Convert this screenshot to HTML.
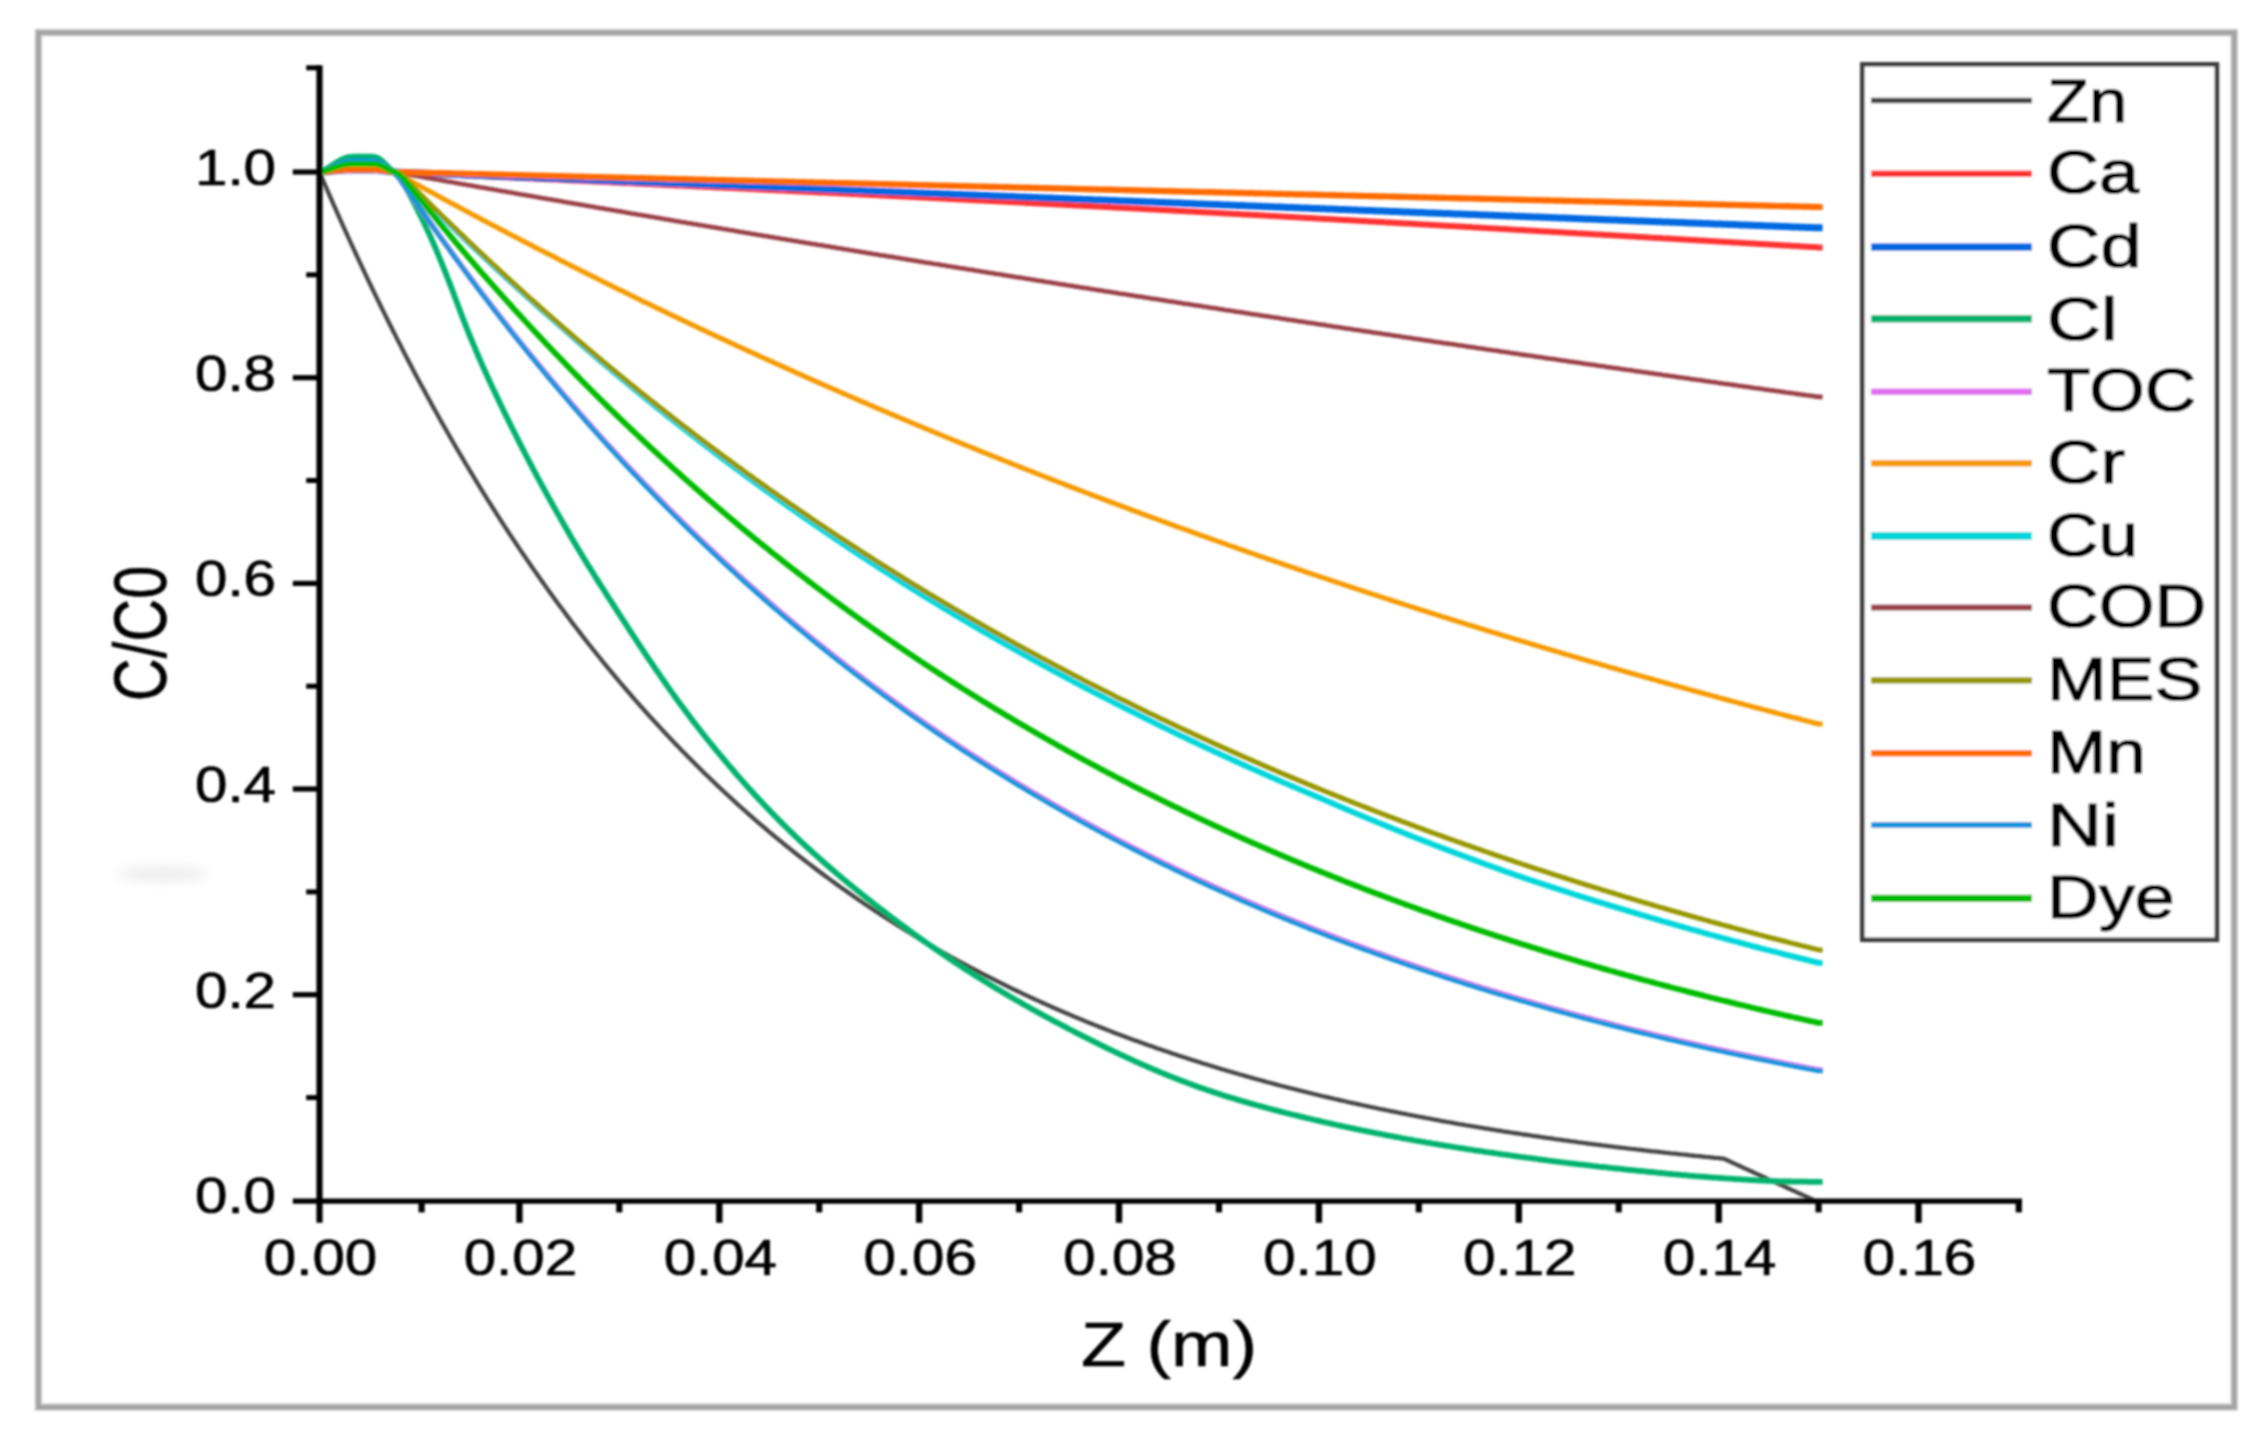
<!DOCTYPE html>
<html lang="en"><head><meta charset="utf-8"><title>C/C0 versus Z (m)</title>
<style>html,body{margin:0;padding:0;background:#fff}body{width:2267px;height:1442px;overflow:hidden}svg{display:block}text{font-family:"Liberation Sans",sans-serif;fill:#000;stroke:#000;stroke-width:1.4px;stroke-linejoin:round}</style></head><body>
<svg width="2267" height="1442" viewBox="0 0 2267 1442">
<defs><filter id="soft" x="-2%" y="-2%" width="104%" height="104%"><feGaussianBlur stdDeviation="0.9"/></filter><filter id="smudge" x="-50%" y="-300%" width="200%" height="700%"><feGaussianBlur stdDeviation="6.5"/></filter></defs>
<rect width="2267" height="1442" fill="#fff"/>
<g filter="url(#soft)">
<rect x="38.4" y="32.6" width="2195.8" height="1374.5" fill="none" stroke="#c9c9c9" stroke-width="7.4"/>
<rect x="38.4" y="32.6" width="2195.8" height="1374.5" fill="none" stroke="#a3a3a3" stroke-width="4.4"/>
<ellipse cx="163" cy="874" rx="46" ry="4" fill="#dedede" filter="url(#smudge)"/>
<g fill="none" stroke-linejoin="round" stroke-linecap="butt">
<path d="M319.5,172.0 L321.5,176.7 L323.5,181.3 L325.5,186.0 L327.5,190.6 L329.5,195.2 L331.5,199.8 L333.5,204.3 L335.5,208.8 L337.5,213.4 L339.5,217.8 L341.5,222.3 L343.5,226.8 L345.5,231.2 L347.5,235.6 L349.5,240.0 L351.5,244.4 L353.5,248.7 L355.5,253.0 L357.5,257.3 L359.5,261.6 L361.5,265.9 L363.5,270.2 L365.5,274.4 L367.5,278.6 L369.5,282.8 L371.5,287.0 L373.5,291.1 L375.5,295.3 L377.5,299.4 L379.5,303.5 L381.5,307.6 L383.5,311.6 L385.5,315.7 L387.5,319.7 L389.5,323.7 L391.5,327.7 L393.5,331.7 L395.5,335.6 L397.5,339.6 L399.5,343.5 L401.5,347.4 L403.4,351.2 L405.4,355.1 L407.4,359.0 L409.4,362.8 L411.4,366.6 L413.4,370.4 L415.4,374.2 L417.4,377.9 L419.4,381.7 L421.4,385.4 L423.4,389.1 L425.4,392.8 L427.4,396.5 L429.4,400.1 L431.4,403.8 L433.4,407.4 L435.4,411.0 L437.4,414.6 L439.4,418.2 L441.4,421.7 L443.4,425.3 L445.4,428.8 L447.4,432.3 L449.4,435.8 L451.4,439.3 L453.4,442.7 L455.4,446.2 L457.4,449.6 L459.4,453.0 L461.4,456.4 L463.4,459.8 L465.4,463.2 L467.4,466.5 L469.4,469.9 L471.4,473.2 L473.4,476.5 L475.4,479.8 L477.4,483.1 L479.4,486.3 L481.4,489.6 L483.4,492.8 L485.4,496.0 L487.4,499.3 L489.4,502.4 L491.4,505.6 L493.4,508.8 L495.4,511.9 L497.4,515.1 L499.4,518.2 L501.4,521.3 L503.4,524.4 L505.4,527.4 L507.4,530.5 L509.4,533.6 L511.4,536.6 L513.4,539.6 L515.4,542.6 L517.4,545.6 L519.4,548.6 L521.4,551.6 L523.4,554.5 L525.4,557.4 L527.4,560.4 L529.4,563.3 L531.4,566.2 L533.4,569.1 L535.4,571.9 L537.4,574.8 L539.4,577.6 L541.4,580.5 L543.4,583.3 L545.4,586.1 L547.4,588.9 L549.4,591.7 L551.4,594.4 L553.4,597.2 L555.4,599.9 L557.4,602.7 L559.4,605.4 L561.4,608.1 L563.4,610.8 L565.4,613.5 L567.4,616.2 L569.4,618.8 L571.3,621.5 L573.3,624.1 L575.3,626.7 L577.3,629.3 L579.3,631.9 L581.3,634.5 L583.3,637.1 L585.3,639.6 L587.3,642.2 L589.3,644.7 L591.3,647.3 L593.3,649.8 L595.3,652.3 L597.3,654.8 L599.3,657.3 L601.3,659.7 L603.3,662.2 L605.3,664.6 L607.3,667.1 L609.3,669.5 L611.3,671.9 L613.3,674.3 L615.3,676.7 L617.3,679.1 L619.3,681.5 L621.3,683.8 L623.3,686.2 L625.3,688.5 L627.3,690.9 L629.3,693.2 L631.3,695.5 L633.3,697.8 L635.3,700.1 L637.3,702.3 L639.3,704.6 L641.3,706.9 L643.3,709.1 L645.3,711.3 L647.3,713.6 L649.3,715.8 L651.3,718.0 L653.3,720.2 L655.3,722.4 L657.3,724.5 L659.3,726.7 L661.3,728.9 L663.3,731.0 L665.3,733.1 L667.3,735.3 L669.3,737.4 L671.3,739.5 L673.3,741.6 L675.3,743.7 L677.3,745.8 L679.3,747.8 L681.3,749.9 L683.3,751.9 L685.3,754.0 L687.3,756.0 L689.3,758.0 L691.3,760.0 L693.3,762.0 L695.3,764.0 L697.3,766.0 L699.3,768.0 L701.3,770.0 L703.3,771.9 L705.3,773.9 L707.3,775.8 L709.3,777.7 L711.3,779.7 L713.3,781.6 L715.3,783.5 L717.3,785.4 L719.3,787.3 L721.3,789.2 L723.3,791.0 L725.3,792.9 L727.3,794.7 L729.3,796.6 L731.3,798.4 L733.3,800.3 L735.3,802.1 L737.2,803.9 L739.2,805.7 L741.2,807.5 L743.2,809.3 L745.2,811.0 L747.2,812.8 L749.2,814.6 L751.2,816.3 L753.2,818.1 L755.2,819.8 L757.2,821.6 L759.2,823.3 L761.2,825.0 L763.2,826.7 L765.2,828.4 L767.2,830.1 L769.2,831.8 L771.2,833.5 L773.2,835.1 L775.2,836.8 L777.2,838.4 L779.2,840.1 L781.2,841.7 L783.2,843.4 L785.2,845.0 L787.2,846.6 L789.2,848.2 L791.2,849.8 L793.2,851.4 L795.2,853.0 L797.2,854.6 L799.2,856.2 L801.2,857.7 L803.2,859.3 L805.2,860.8 L807.2,862.4 L809.2,863.9 L811.2,865.4 L813.2,867.0 L815.2,868.5 L817.2,870.0 L819.2,871.5 L821.2,873.0 L823.2,874.5 L825.2,876.0 L827.2,877.4 L829.2,878.9 L831.2,880.4 L833.2,881.8 L835.2,883.3 L837.2,884.7 L839.2,886.2 L841.2,887.6 L843.2,889.0 L845.2,890.4 L847.2,891.8 L849.2,893.2 L851.2,894.6 L853.2,896.0 L855.2,897.4 L857.2,898.8 L859.2,900.2 L861.2,901.5 L863.2,902.9 L865.2,904.2 L867.2,905.6 L869.2,906.9 L871.2,908.3 L873.2,909.6 L875.2,910.9 L877.2,912.2 L879.2,913.5 L881.2,914.9 L883.2,916.2 L885.2,917.4 L887.2,918.7 L889.2,920.0 L891.2,921.3 L893.2,922.6 L895.2,923.8 L897.2,925.1 L899.2,926.3 L901.2,927.6 L903.1,928.8 L905.1,930.1 L907.1,931.3 L909.1,932.5 L911.1,933.7 L913.1,934.9 L915.1,936.2 L917.1,937.4 L919.1,938.6 L921.1,939.7 L923.1,940.9 L925.1,942.1 L927.1,943.3 L929.1,944.5 L931.1,945.6 L933.1,946.8 L935.1,947.9 L937.1,949.1 L939.1,950.2 L941.1,951.4 L943.1,952.5 L945.1,953.6 L947.1,954.7 L949.1,955.9 L951.1,957.0 L953.1,958.1 L955.1,959.2 L957.1,960.3 L959.1,961.4 L961.1,962.5 L963.1,963.5 L965.1,964.6 L967.1,965.7 L969.1,966.8 L971.1,967.8 L973.1,968.9 L975.1,969.9 L977.1,971.0 L979.1,972.0 L981.1,973.1 L983.1,974.1 L985.1,975.1 L987.1,976.2 L989.1,977.2 L991.1,978.2 L993.1,979.2 L995.1,980.2 L997.1,981.2 L999.1,982.2 L1001.1,983.2 L1003.1,984.2 L1005.1,985.2 L1007.1,986.2 L1009.1,987.1 L1011.1,988.1 L1013.1,989.1 L1015.1,990.0 L1017.1,991.0 L1019.1,991.9 L1021.1,992.9 L1023.1,993.8 L1025.1,994.8 L1027.1,995.7 L1029.1,996.6 L1031.1,997.6 L1033.1,998.5 L1035.1,999.4 L1037.1,1000.3 L1039.1,1001.2 L1041.1,1002.1 L1043.1,1003.0 L1045.1,1003.9 L1047.1,1004.8 L1049.1,1005.7 L1051.1,1006.6 L1053.1,1007.5 L1055.1,1008.4 L1057.1,1009.2 L1059.1,1010.1 L1061.1,1011.0 L1063.1,1011.8 L1065.1,1012.7 L1067.1,1013.5 L1069.0,1014.4 L1071.0,1015.2 L1073.0,1016.1 L1075.0,1016.9 L1077.0,1017.8 L1079.0,1018.6 L1081.0,1019.4 L1083.0,1020.2 L1085.0,1021.1 L1087.0,1021.9 L1089.0,1022.7 L1091.0,1023.5 L1093.0,1024.3 L1095.0,1025.1 L1097.0,1025.9 L1099.0,1026.7 L1101.0,1027.5 L1103.0,1028.3 L1105.0,1029.1 L1107.0,1029.8 L1109.0,1030.6 L1111.0,1031.4 L1113.0,1032.2 L1115.0,1032.9 L1117.0,1033.7 L1119.0,1034.4 L1121.0,1035.2 L1123.0,1035.9 L1125.0,1036.7 L1127.0,1037.4 L1129.0,1038.2 L1131.0,1038.9 L1133.0,1039.7 L1135.0,1040.4 L1137.0,1041.1 L1139.0,1041.8 L1141.0,1042.6 L1143.0,1043.3 L1145.0,1044.0 L1147.0,1044.7 L1149.0,1045.4 L1151.0,1046.1 L1153.0,1046.8 L1155.0,1047.5 L1157.0,1048.2 L1159.0,1048.9 L1161.0,1049.6 L1163.0,1050.3 L1165.0,1051.0 L1167.0,1051.6 L1169.0,1052.3 L1171.0,1053.0 L1173.0,1053.7 L1175.0,1054.3 L1177.0,1055.0 L1179.0,1055.7 L1181.0,1056.3 L1183.0,1057.0 L1185.0,1057.6 L1187.0,1058.3 L1189.0,1058.9 L1191.0,1059.6 L1193.0,1060.2 L1195.0,1060.8 L1197.0,1061.5 L1199.0,1062.1 L1201.0,1062.7 L1203.0,1063.4 L1205.0,1064.0 L1207.0,1064.6 L1209.0,1065.2 L1211.0,1065.8 L1213.0,1066.5 L1215.0,1067.1 L1217.0,1067.7 L1219.0,1068.3 L1221.0,1068.9 L1223.0,1069.5 L1225.0,1070.1 L1227.0,1070.7 L1229.0,1071.3 L1231.0,1071.8 L1233.0,1072.4 L1235.0,1073.0 L1236.9,1073.6 L1238.9,1074.2 L1240.9,1074.7 L1242.9,1075.3 L1244.9,1075.9 L1246.9,1076.4 L1248.9,1077.0 L1250.9,1077.6 L1252.9,1078.1 L1254.9,1078.7 L1256.9,1079.2 L1258.9,1079.8 L1260.9,1080.3 L1262.9,1080.9 L1264.9,1081.4 L1266.9,1082.0 L1268.9,1082.5 L1270.9,1083.0 L1272.9,1083.6 L1274.9,1084.1 L1276.9,1084.6 L1278.9,1085.2 L1280.9,1085.7 L1282.9,1086.2 L1284.9,1086.7 L1286.9,1087.2 L1288.9,1087.8 L1290.9,1088.3 L1292.9,1088.8 L1294.9,1089.3 L1296.9,1089.8 L1298.9,1090.3 L1300.9,1090.8 L1302.9,1091.3 L1304.9,1091.8 L1306.9,1092.3 L1308.9,1092.8 L1310.9,1093.3 L1312.9,1093.8 L1314.9,1094.2 L1316.9,1094.7 L1318.9,1095.2 L1320.9,1095.7 L1322.9,1096.2 L1324.9,1096.6 L1326.9,1097.1 L1328.9,1097.6 L1330.9,1098.0 L1332.9,1098.5 L1334.9,1099.0 L1336.9,1099.4 L1338.9,1099.9 L1340.9,1100.4 L1342.9,1100.8 L1344.9,1101.3 L1346.9,1101.7 L1348.9,1102.2 L1350.9,1102.6 L1352.9,1103.1 L1354.9,1103.5 L1356.9,1103.9 L1358.9,1104.4 L1360.9,1104.8 L1362.9,1105.3 L1364.9,1105.7 L1366.9,1106.1 L1368.9,1106.5 L1370.9,1107.0 L1372.9,1107.4 L1374.9,1107.8 L1376.9,1108.2 L1378.9,1108.7 L1380.9,1109.1 L1382.9,1109.5 L1384.9,1109.9 L1386.9,1110.3 L1388.9,1110.7 L1390.9,1111.1 L1392.9,1111.5 L1394.9,1111.9 L1396.9,1112.3 L1398.9,1112.7 L1400.9,1113.1 L1402.8,1113.5 L1404.8,1113.9 L1406.8,1114.3 L1408.8,1114.7 L1410.8,1115.1 L1412.8,1115.5 L1414.8,1115.9 L1416.8,1116.3 L1418.8,1116.7 L1420.8,1117.0 L1422.8,1117.4 L1424.8,1117.8 L1426.8,1118.2 L1428.8,1118.5 L1430.8,1118.9 L1432.8,1119.3 L1434.8,1119.7 L1436.8,1120.0 L1438.8,1120.4 L1440.8,1120.8 L1442.8,1121.1 L1444.8,1121.5 L1446.8,1121.8 L1448.8,1122.2 L1450.8,1122.5 L1452.8,1122.9 L1454.8,1123.3 L1456.8,1123.6 L1458.8,1124.0 L1460.8,1124.3 L1462.8,1124.6 L1464.8,1125.0 L1466.8,1125.3 L1468.8,1125.7 L1470.8,1126.0 L1472.8,1126.4 L1474.8,1126.7 L1476.8,1127.0 L1478.8,1127.4 L1480.8,1127.7 L1482.8,1128.0 L1484.8,1128.4 L1486.8,1128.7 L1488.8,1129.0 L1490.8,1129.3 L1492.8,1129.7 L1494.8,1130.0 L1496.8,1130.3 L1498.8,1130.6 L1500.8,1130.9 L1502.8,1131.3 L1504.8,1131.6 L1506.8,1131.9 L1508.8,1132.2 L1510.8,1132.5 L1512.8,1132.8 L1514.8,1133.1 L1516.8,1133.4 L1518.8,1133.7 L1520.8,1134.0 L1522.8,1134.3 L1524.8,1134.6 L1526.8,1134.9 L1528.8,1135.2 L1530.8,1135.5 L1532.8,1135.8 L1534.8,1136.1 L1536.8,1136.4 L1538.8,1136.7 L1540.8,1137.0 L1542.8,1137.3 L1544.8,1137.6 L1546.8,1137.9 L1548.8,1138.1 L1550.8,1138.4 L1552.8,1138.7 L1554.8,1139.0 L1556.8,1139.3 L1558.8,1139.5 L1560.8,1139.8 L1562.8,1140.1 L1564.8,1140.4 L1566.8,1140.6 L1568.8,1140.9 L1570.7,1141.2 L1572.7,1141.5 L1574.7,1141.7 L1576.7,1142.0 L1578.7,1142.3 L1580.7,1142.5 L1582.7,1142.8 L1584.7,1143.0 L1586.7,1143.3 L1588.7,1143.6 L1590.7,1143.8 L1592.7,1144.1 L1594.7,1144.3 L1596.7,1144.6 L1598.7,1144.8 L1600.7,1145.1 L1602.7,1145.4 L1604.7,1145.6 L1606.7,1145.8 L1608.7,1146.1 L1610.7,1146.3 L1612.7,1146.6 L1614.7,1146.8 L1616.7,1147.1 L1618.7,1147.3 L1620.7,1147.6 L1622.7,1147.8 L1624.7,1148.0 L1626.7,1148.3 L1628.7,1148.5 L1630.7,1148.8 L1632.7,1149.0 L1634.7,1149.2 L1636.7,1149.5 L1638.7,1149.7 L1640.7,1149.9 L1642.7,1150.1 L1644.7,1150.4 L1646.7,1150.6 L1648.7,1150.8 L1650.7,1151.1 L1652.7,1151.3 L1654.7,1151.5 L1656.7,1151.7 L1658.7,1151.9 L1660.7,1152.2 L1662.7,1152.4 L1664.7,1152.6 L1666.7,1152.8 L1668.7,1153.0 L1670.7,1153.3 L1672.7,1153.5 L1674.7,1153.7 L1676.7,1153.9 L1678.7,1154.1 L1680.7,1154.3 L1682.7,1154.5 L1684.7,1154.7 L1686.7,1154.9 L1688.7,1155.2 L1690.7,1155.4 L1692.7,1155.6 L1694.7,1155.8 L1696.7,1156.0 L1698.7,1156.2 L1700.7,1156.4 L1702.7,1156.6 L1704.7,1156.8 L1706.7,1157.0 L1708.7,1157.2 L1710.7,1157.4 L1712.7,1157.6 L1714.7,1157.8 L1716.7,1158.0 L1718.7,1158.1 L1720.7,1158.3 L1722.7,1158.5 L1724.7,1159.1 L1726.7,1160.0 L1728.7,1160.9 L1730.7,1161.8 L1732.7,1162.8 L1734.7,1163.7 L1736.6,1164.6 L1738.6,1165.5 L1740.6,1166.4 L1742.6,1167.3 L1744.6,1168.3 L1746.6,1169.2 L1748.6,1170.1 L1750.6,1171.0 L1752.6,1171.9 L1754.6,1172.9 L1756.6,1173.8 L1758.6,1174.7 L1760.6,1175.6 L1762.6,1176.5 L1764.6,1177.4 L1766.6,1178.4 L1768.6,1179.3 L1770.6,1180.2 L1772.6,1181.1 L1774.6,1182.0 L1776.6,1183.0 L1778.6,1183.9 L1780.6,1184.8 L1782.6,1185.7 L1784.6,1186.6 L1786.6,1187.5 L1788.6,1188.5 L1790.6,1189.4 L1792.6,1190.3 L1794.6,1191.2 L1796.6,1192.1 L1798.6,1193.1 L1800.6,1194.0 L1802.6,1194.9 L1804.6,1195.8 L1806.6,1196.7 L1808.6,1197.6 L1810.6,1198.6 L1812.6,1199.5 L1814.6,1200.4 L1814.6,1200.4" stroke="#454545" stroke-width="4.2"/>
<path d="M319.5,172.0 L321.5,171.9 L323.5,171.8 L325.5,171.7 L327.5,171.5 L329.5,171.3 L331.5,171.2 L333.5,171.0 L335.5,170.8 L337.5,170.6 L339.5,170.5 L341.5,170.3 L343.5,170.2 L345.5,170.1 L347.5,170.0 L349.5,170.0 L351.5,170.0 L353.5,169.9 L355.5,169.9 L357.5,169.9 L359.5,169.9 L361.5,169.9 L363.5,169.9 L365.5,169.9 L367.5,169.9 L369.5,169.9 L371.5,169.9 L373.5,169.9 L375.5,170.0 L377.5,170.1 L379.5,170.2 L381.5,170.4 L383.5,170.7 L385.5,171.0 L387.5,171.3 L389.5,171.5 L391.5,171.8 L393.5,171.9 L395.5,172.1 L397.5,172.1 L399.5,172.2 L401.5,172.3 L403.4,172.4 L405.4,172.5 L407.4,172.6 L409.4,172.7 L411.4,172.8 L413.4,172.9 L415.4,173.0 L417.4,173.1 L419.4,173.2 L421.4,173.3 L423.4,173.4 L425.4,173.5 L427.4,173.6 L429.4,173.7 L431.4,173.8 L433.4,173.8 L435.4,173.9 L437.4,174.0 L439.4,174.1 L441.4,174.2 L443.4,174.3 L445.4,174.4 L447.4,174.5 L449.4,174.6 L451.4,174.7 L453.4,174.8 L455.4,174.9 L457.4,175.0 L459.4,175.1 L461.4,175.2 L463.4,175.3 L465.4,175.4 L467.4,175.5 L469.4,175.6 L471.4,175.6 L473.4,175.7 L475.4,175.8 L477.4,175.9 L479.4,176.0 L481.4,176.1 L483.4,176.2 L485.4,176.3 L487.4,176.4 L489.4,176.5 L491.4,176.6 L493.4,176.7 L495.4,176.8 L497.4,176.9 L499.4,177.0 L501.4,177.1 L503.4,177.2 L505.4,177.3 L507.4,177.4 L509.4,177.4 L511.4,177.5 L513.4,177.6 L515.4,177.7 L517.4,177.8 L519.4,177.9 L521.4,178.0 L523.4,178.1 L525.4,178.2 L527.4,178.3 L529.4,178.4 L531.4,178.5 L533.4,178.6 L535.4,178.7 L537.4,178.8 L539.4,178.9 L541.4,179.0 L543.4,179.1 L545.4,179.2 L547.4,179.2 L549.4,179.3 L551.4,179.4 L553.4,179.5 L555.4,179.6 L557.4,179.7 L559.4,179.8 L561.4,179.9 L563.4,180.0 L565.4,180.1 L567.4,180.2 L569.4,180.3 L571.3,180.4 L573.3,180.5 L575.3,180.6 L577.3,180.7 L579.3,180.8 L581.3,180.9 L583.3,181.0 L585.3,181.1 L587.3,181.1 L589.3,181.2 L591.3,181.3 L593.3,181.4 L595.3,181.5 L597.3,181.6 L599.3,181.7 L601.3,181.8 L603.3,181.9 L605.3,182.0 L607.3,182.1 L609.3,182.2 L611.3,182.3 L613.3,182.4 L615.3,182.5 L617.3,182.6 L619.3,182.7 L621.3,182.8 L623.3,182.9 L625.3,183.0 L627.3,183.1 L629.3,183.1 L631.3,183.2 L633.3,183.3 L635.3,183.4 L637.3,183.5 L639.3,183.6 L641.3,183.7 L643.3,183.8 L645.3,183.9 L647.3,184.0 L649.3,184.1 L651.3,184.2 L653.3,184.3 L655.3,184.4 L657.3,184.5 L659.3,184.6 L661.3,184.7 L663.3,184.8 L665.3,184.9 L667.3,185.0 L669.3,185.1 L671.3,185.2 L673.3,185.3 L675.3,185.4 L677.3,185.4 L679.3,185.5 L681.3,185.6 L683.3,185.7 L685.3,185.8 L687.3,185.9 L689.3,186.0 L691.3,186.1 L693.3,186.2 L695.3,186.3 L697.3,186.4 L699.3,186.5 L701.3,186.6 L703.3,186.7 L705.3,186.8 L707.3,186.9 L709.3,187.0 L711.3,187.1 L713.3,187.2 L715.3,187.3 L717.3,187.4 L719.3,187.5 L721.3,187.6 L723.3,187.7 L725.3,187.8 L727.3,187.9 L729.3,188.0 L731.3,188.1 L733.3,188.1 L735.3,188.2 L737.2,188.3 L739.2,188.4 L741.2,188.5 L743.2,188.6 L745.2,188.7 L747.2,188.8 L749.2,188.9 L751.2,189.0 L753.2,189.1 L755.2,189.2 L757.2,189.3 L759.2,189.4 L761.2,189.5 L763.2,189.6 L765.2,189.7 L767.2,189.8 L769.2,189.9 L771.2,190.0 L773.2,190.1 L775.2,190.2 L777.2,190.3 L779.2,190.4 L781.2,190.5 L783.2,190.6 L785.2,190.7 L787.2,190.8 L789.2,190.9 L791.2,191.0 L793.2,191.1 L795.2,191.2 L797.2,191.3 L799.2,191.4 L801.2,191.5 L803.2,191.6 L805.2,191.7 L807.2,191.8 L809.2,191.9 L811.2,192.0 L813.2,192.1 L815.2,192.2 L817.2,192.3 L819.2,192.4 L821.2,192.4 L823.2,192.5 L825.2,192.6 L827.2,192.7 L829.2,192.8 L831.2,192.9 L833.2,193.0 L835.2,193.1 L837.2,193.2 L839.2,193.3 L841.2,193.4 L843.2,193.5 L845.2,193.6 L847.2,193.7 L849.2,193.8 L851.2,193.9 L853.2,194.0 L855.2,194.1 L857.2,194.2 L859.2,194.3 L861.2,194.4 L863.2,194.5 L865.2,194.6 L867.2,194.7 L869.2,194.8 L871.2,194.9 L873.2,195.0 L875.2,195.1 L877.2,195.2 L879.2,195.3 L881.2,195.4 L883.2,195.5 L885.2,195.6 L887.2,195.7 L889.2,195.8 L891.2,195.9 L893.2,196.0 L895.2,196.1 L897.2,196.2 L899.2,196.3 L901.2,196.4 L903.1,196.5 L905.1,196.6 L907.1,196.7 L909.1,196.8 L911.1,196.9 L913.1,197.0 L915.1,197.1 L917.1,197.2 L919.1,197.3 L921.1,197.4 L923.1,197.5 L925.1,197.6 L927.1,197.7 L929.1,197.8 L931.1,197.9 L933.1,198.0 L935.1,198.1 L937.1,198.2 L939.1,198.3 L941.1,198.4 L943.1,198.5 L945.1,198.6 L947.1,198.7 L949.1,198.9 L951.1,199.0 L953.1,199.1 L955.1,199.2 L957.1,199.3 L959.1,199.4 L961.1,199.5 L963.1,199.6 L965.1,199.7 L967.1,199.8 L969.1,199.9 L971.1,200.0 L973.1,200.1 L975.1,200.2 L977.1,200.3 L979.1,200.4 L981.1,200.5 L983.1,200.6 L985.1,200.7 L987.1,200.8 L989.1,200.9 L991.1,201.0 L993.1,201.1 L995.1,201.2 L997.1,201.3 L999.1,201.4 L1001.1,201.5 L1003.1,201.6 L1005.1,201.7 L1007.1,201.8 L1009.1,201.9 L1011.1,202.0 L1013.1,202.1 L1015.1,202.2 L1017.1,202.3 L1019.1,202.4 L1021.1,202.5 L1023.1,202.6 L1025.1,202.7 L1027.1,202.9 L1029.1,203.0 L1031.1,203.1 L1033.1,203.2 L1035.1,203.3 L1037.1,203.4 L1039.1,203.5 L1041.1,203.6 L1043.1,203.7 L1045.1,203.8 L1047.1,203.9 L1049.1,204.0 L1051.1,204.1 L1053.1,204.2 L1055.1,204.3 L1057.1,204.4 L1059.1,204.5 L1061.1,204.6 L1063.1,204.7 L1065.1,204.8 L1067.1,204.9 L1069.0,205.0 L1071.0,205.1 L1073.0,205.2 L1075.0,205.4 L1077.0,205.5 L1079.0,205.6 L1081.0,205.7 L1083.0,205.8 L1085.0,205.9 L1087.0,206.0 L1089.0,206.1 L1091.0,206.2 L1093.0,206.3 L1095.0,206.4 L1097.0,206.5 L1099.0,206.6 L1101.0,206.7 L1103.0,206.8 L1105.0,206.9 L1107.0,207.0 L1109.0,207.1 L1111.0,207.3 L1113.0,207.4 L1115.0,207.5 L1117.0,207.6 L1119.0,207.7 L1121.0,207.8 L1123.0,207.9 L1125.0,208.0 L1127.0,208.1 L1129.0,208.2 L1131.0,208.3 L1133.0,208.4 L1135.0,208.5 L1137.0,208.6 L1139.0,208.7 L1141.0,208.8 L1143.0,209.0 L1145.0,209.1 L1147.0,209.2 L1149.0,209.3 L1151.0,209.4 L1153.0,209.5 L1155.0,209.6 L1157.0,209.7 L1159.0,209.8 L1161.0,209.9 L1163.0,210.0 L1165.0,210.1 L1167.0,210.2 L1169.0,210.3 L1171.0,210.5 L1173.0,210.6 L1175.0,210.7 L1177.0,210.8 L1179.0,210.9 L1181.0,211.0 L1183.0,211.1 L1185.0,211.2 L1187.0,211.3 L1189.0,211.4 L1191.0,211.5 L1193.0,211.6 L1195.0,211.7 L1197.0,211.9 L1199.0,212.0 L1201.0,212.1 L1203.0,212.2 L1205.0,212.3 L1207.0,212.4 L1209.0,212.5 L1211.0,212.6 L1213.0,212.7 L1215.0,212.8 L1217.0,212.9 L1219.0,213.0 L1221.0,213.2 L1223.0,213.3 L1225.0,213.4 L1227.0,213.5 L1229.0,213.6 L1231.0,213.7 L1233.0,213.8 L1235.0,213.9 L1236.9,214.0 L1238.9,214.1 L1240.9,214.2 L1242.9,214.4 L1244.9,214.5 L1246.9,214.6 L1248.9,214.7 L1250.9,214.8 L1252.9,214.9 L1254.9,215.0 L1256.9,215.1 L1258.9,215.2 L1260.9,215.3 L1262.9,215.5 L1264.9,215.6 L1266.9,215.7 L1268.9,215.8 L1270.9,215.9 L1272.9,216.0 L1274.9,216.1 L1276.9,216.2 L1278.9,216.3 L1280.9,216.4 L1282.9,216.6 L1284.9,216.7 L1286.9,216.8 L1288.9,216.9 L1290.9,217.0 L1292.9,217.1 L1294.9,217.2 L1296.9,217.3 L1298.9,217.4 L1300.9,217.6 L1302.9,217.7 L1304.9,217.8 L1306.9,217.9 L1308.9,218.0 L1310.9,218.1 L1312.9,218.2 L1314.9,218.3 L1316.9,218.4 L1318.9,218.6 L1320.9,218.7 L1322.9,218.8 L1324.9,218.9 L1326.9,219.0 L1328.9,219.1 L1330.9,219.2 L1332.9,219.3 L1334.9,219.4 L1336.9,219.6 L1338.9,219.7 L1340.9,219.8 L1342.9,219.9 L1344.9,220.0 L1346.9,220.1 L1348.9,220.2 L1350.9,220.3 L1352.9,220.5 L1354.9,220.6 L1356.9,220.7 L1358.9,220.8 L1360.9,220.9 L1362.9,221.0 L1364.9,221.1 L1366.9,221.2 L1368.9,221.4 L1370.9,221.5 L1372.9,221.6 L1374.9,221.7 L1376.9,221.8 L1378.9,221.9 L1380.9,222.0 L1382.9,222.1 L1384.9,222.3 L1386.9,222.4 L1388.9,222.5 L1390.9,222.6 L1392.9,222.7 L1394.9,222.8 L1396.9,222.9 L1398.9,223.0 L1400.9,223.2 L1402.8,223.3 L1404.8,223.4 L1406.8,223.5 L1408.8,223.6 L1410.8,223.7 L1412.8,223.8 L1414.8,223.9 L1416.8,224.1 L1418.8,224.2 L1420.8,224.3 L1422.8,224.4 L1424.8,224.5 L1426.8,224.6 L1428.8,224.7 L1430.8,224.9 L1432.8,225.0 L1434.8,225.1 L1436.8,225.2 L1438.8,225.3 L1440.8,225.4 L1442.8,225.5 L1444.8,225.7 L1446.8,225.8 L1448.8,225.9 L1450.8,226.0 L1452.8,226.1 L1454.8,226.2 L1456.8,226.3 L1458.8,226.5 L1460.8,226.6 L1462.8,226.7 L1464.8,226.8 L1466.8,226.9 L1468.8,227.0 L1470.8,227.1 L1472.8,227.3 L1474.8,227.4 L1476.8,227.5 L1478.8,227.6 L1480.8,227.7 L1482.8,227.8 L1484.8,227.9 L1486.8,228.1 L1488.8,228.2 L1490.8,228.3 L1492.8,228.4 L1494.8,228.5 L1496.8,228.6 L1498.8,228.7 L1500.8,228.9 L1502.8,229.0 L1504.8,229.1 L1506.8,229.2 L1508.8,229.3 L1510.8,229.4 L1512.8,229.6 L1514.8,229.7 L1516.8,229.8 L1518.8,229.9 L1520.8,230.0 L1522.8,230.1 L1524.8,230.2 L1526.8,230.4 L1528.8,230.5 L1530.8,230.6 L1532.8,230.7 L1534.8,230.8 L1536.8,230.9 L1538.8,231.1 L1540.8,231.2 L1542.8,231.3 L1544.8,231.4 L1546.8,231.5 L1548.8,231.6 L1550.8,231.7 L1552.8,231.9 L1554.8,232.0 L1556.8,232.1 L1558.8,232.2 L1560.8,232.3 L1562.8,232.4 L1564.8,232.6 L1566.8,232.7 L1568.8,232.8 L1570.7,232.9 L1572.7,233.0 L1574.7,233.1 L1576.7,233.3 L1578.7,233.4 L1580.7,233.5 L1582.7,233.6 L1584.7,233.7 L1586.7,233.8 L1588.7,234.0 L1590.7,234.1 L1592.7,234.2 L1594.7,234.3 L1596.7,234.4 L1598.7,234.5 L1600.7,234.6 L1602.7,234.8 L1604.7,234.9 L1606.7,235.0 L1608.7,235.1 L1610.7,235.2 L1612.7,235.3 L1614.7,235.5 L1616.7,235.6 L1618.7,235.7 L1620.7,235.8 L1622.7,235.9 L1624.7,236.0 L1626.7,236.2 L1628.7,236.3 L1630.7,236.4 L1632.7,236.5 L1634.7,236.6 L1636.7,236.7 L1638.7,236.9 L1640.7,237.0 L1642.7,237.1 L1644.7,237.2 L1646.7,237.3 L1648.7,237.4 L1650.7,237.6 L1652.7,237.7 L1654.7,237.8 L1656.7,237.9 L1658.7,238.0 L1660.7,238.1 L1662.7,238.3 L1664.7,238.4 L1666.7,238.5 L1668.7,238.6 L1670.7,238.7 L1672.7,238.8 L1674.7,239.0 L1676.7,239.1 L1678.7,239.2 L1680.7,239.3 L1682.7,239.4 L1684.7,239.5 L1686.7,239.7 L1688.7,239.8 L1690.7,239.9 L1692.7,240.0 L1694.7,240.1 L1696.7,240.2 L1698.7,240.4 L1700.7,240.5 L1702.7,240.6 L1704.7,240.7 L1706.7,240.8 L1708.7,240.9 L1710.7,241.1 L1712.7,241.2 L1714.7,241.3 L1716.7,241.4 L1718.7,241.5 L1720.7,241.7 L1722.7,241.8 L1724.7,241.9 L1726.7,242.0 L1728.7,242.1 L1730.7,242.2 L1732.7,242.4 L1734.7,242.5 L1736.6,242.6 L1738.6,242.7 L1740.6,242.8 L1742.6,242.9 L1744.6,243.1 L1746.6,243.2 L1748.6,243.3 L1750.6,243.4 L1752.6,243.5 L1754.6,243.6 L1756.6,243.8 L1758.6,243.9 L1760.6,244.0 L1762.6,244.1 L1764.6,244.2 L1766.6,244.3 L1768.6,244.5 L1770.6,244.6 L1772.6,244.7 L1774.6,244.8 L1776.6,244.9 L1778.6,245.0 L1780.6,245.2 L1782.6,245.3 L1784.6,245.4 L1786.6,245.5 L1788.6,245.6 L1790.6,245.7 L1792.6,245.9 L1794.6,246.0 L1796.6,246.1 L1798.6,246.2 L1800.6,246.3 L1802.6,246.4 L1804.6,246.6 L1806.6,246.7 L1808.6,246.8 L1810.6,246.9 L1812.6,247.0 L1814.6,247.1 L1816.6,247.3 L1818.6,247.4 L1822.6,247.4" stroke="#ff3232" stroke-width="6.0"/>
<path d="M319.5,172.0 L321.5,171.9 L323.5,171.8 L325.5,171.7 L327.5,171.5 L329.5,171.3 L331.5,171.2 L333.5,171.0 L335.5,170.8 L337.5,170.6 L339.5,170.5 L341.5,170.3 L343.5,170.2 L345.5,170.1 L347.5,170.0 L349.5,170.0 L351.5,170.0 L353.5,169.9 L355.5,169.9 L357.5,169.9 L359.5,169.9 L361.5,169.9 L363.5,169.9 L365.5,169.9 L367.5,169.9 L369.5,169.9 L371.5,169.9 L373.5,169.9 L375.5,170.0 L377.5,170.1 L379.5,170.2 L381.5,170.4 L383.5,170.7 L385.5,171.0 L387.5,171.3 L389.5,171.5 L391.5,171.8 L393.5,171.9 L395.5,172.0 L397.5,172.1 L399.5,172.2 L401.5,172.3 L403.4,172.4 L405.4,172.4 L407.4,172.5 L409.4,172.6 L411.4,172.7 L413.4,172.8 L415.4,172.8 L417.4,172.9 L419.4,173.0 L421.4,173.1 L423.4,173.2 L425.4,173.2 L427.4,173.3 L429.4,173.4 L431.4,173.5 L433.4,173.6 L435.4,173.7 L437.4,173.7 L439.4,173.8 L441.4,173.9 L443.4,174.0 L445.4,174.1 L447.4,174.1 L449.4,174.2 L451.4,174.3 L453.4,174.4 L455.4,174.5 L457.4,174.5 L459.4,174.6 L461.4,174.7 L463.4,174.8 L465.4,174.9 L467.4,174.9 L469.4,175.0 L471.4,175.1 L473.4,175.2 L475.4,175.3 L477.4,175.3 L479.4,175.4 L481.4,175.5 L483.4,175.6 L485.4,175.7 L487.4,175.7 L489.4,175.8 L491.4,175.9 L493.4,176.0 L495.4,176.1 L497.4,176.1 L499.4,176.2 L501.4,176.3 L503.4,176.4 L505.4,176.5 L507.4,176.5 L509.4,176.6 L511.4,176.7 L513.4,176.8 L515.4,176.9 L517.4,176.9 L519.4,177.0 L521.4,177.1 L523.4,177.2 L525.4,177.3 L527.4,177.3 L529.4,177.4 L531.4,177.5 L533.4,177.6 L535.4,177.7 L537.4,177.7 L539.4,177.8 L541.4,177.9 L543.4,178.0 L545.4,178.1 L547.4,178.1 L549.4,178.2 L551.4,178.3 L553.4,178.4 L555.4,178.5 L557.4,178.5 L559.4,178.6 L561.4,178.7 L563.4,178.8 L565.4,178.9 L567.4,178.9 L569.4,179.0 L571.3,179.1 L573.3,179.2 L575.3,179.3 L577.3,179.3 L579.3,179.4 L581.3,179.5 L583.3,179.6 L585.3,179.7 L587.3,179.7 L589.3,179.8 L591.3,179.9 L593.3,180.0 L595.3,180.1 L597.3,180.1 L599.3,180.2 L601.3,180.3 L603.3,180.4 L605.3,180.5 L607.3,180.5 L609.3,180.6 L611.3,180.7 L613.3,180.8 L615.3,180.9 L617.3,180.9 L619.3,181.0 L621.3,181.1 L623.3,181.2 L625.3,181.3 L627.3,181.3 L629.3,181.4 L631.3,181.5 L633.3,181.6 L635.3,181.7 L637.3,181.7 L639.3,181.8 L641.3,181.9 L643.3,182.0 L645.3,182.1 L647.3,182.1 L649.3,182.2 L651.3,182.3 L653.3,182.4 L655.3,182.5 L657.3,182.5 L659.3,182.6 L661.3,182.7 L663.3,182.8 L665.3,182.9 L667.3,182.9 L669.3,183.0 L671.3,183.1 L673.3,183.2 L675.3,183.3 L677.3,183.3 L679.3,183.4 L681.3,183.5 L683.3,183.6 L685.3,183.7 L687.3,183.7 L689.3,183.8 L691.3,183.9 L693.3,184.0 L695.3,184.1 L697.3,184.1 L699.3,184.2 L701.3,184.3 L703.3,184.4 L705.3,184.5 L707.3,184.5 L709.3,184.6 L711.3,184.7 L713.3,184.8 L715.3,184.9 L717.3,184.9 L719.3,185.0 L721.3,185.1 L723.3,185.2 L725.3,185.3 L727.3,185.3 L729.3,185.4 L731.3,185.5 L733.3,185.6 L735.3,185.6 L737.2,185.7 L739.2,185.8 L741.2,185.9 L743.2,186.0 L745.2,186.0 L747.2,186.1 L749.2,186.2 L751.2,186.3 L753.2,186.4 L755.2,186.4 L757.2,186.5 L759.2,186.6 L761.2,186.7 L763.2,186.8 L765.2,186.8 L767.2,186.9 L769.2,187.0 L771.2,187.1 L773.2,187.2 L775.2,187.2 L777.2,187.3 L779.2,187.4 L781.2,187.5 L783.2,187.6 L785.2,187.6 L787.2,187.7 L789.2,187.8 L791.2,187.9 L793.2,188.0 L795.2,188.0 L797.2,188.1 L799.2,188.2 L801.2,188.3 L803.2,188.3 L805.2,188.4 L807.2,188.5 L809.2,188.6 L811.2,188.7 L813.2,188.7 L815.2,188.8 L817.2,188.9 L819.2,189.0 L821.2,189.1 L823.2,189.1 L825.2,189.2 L827.2,189.3 L829.2,189.4 L831.2,189.5 L833.2,189.5 L835.2,189.6 L837.2,189.7 L839.2,189.8 L841.2,189.9 L843.2,189.9 L845.2,190.0 L847.2,190.1 L849.2,190.2 L851.2,190.2 L853.2,190.3 L855.2,190.4 L857.2,190.5 L859.2,190.6 L861.2,190.6 L863.2,190.7 L865.2,190.8 L867.2,190.9 L869.2,191.0 L871.2,191.0 L873.2,191.1 L875.2,191.2 L877.2,191.3 L879.2,191.4 L881.2,191.4 L883.2,191.5 L885.2,191.6 L887.2,191.7 L889.2,191.8 L891.2,191.8 L893.2,191.9 L895.2,192.0 L897.2,192.1 L899.2,192.1 L901.2,192.2 L903.1,192.3 L905.1,192.4 L907.1,192.5 L909.1,192.5 L911.1,192.6 L913.1,192.7 L915.1,192.8 L917.1,192.9 L919.1,192.9 L921.1,193.0 L923.1,193.1 L925.1,193.2 L927.1,193.3 L929.1,193.3 L931.1,193.4 L933.1,193.5 L935.1,193.6 L937.1,193.6 L939.1,193.7 L941.1,193.8 L943.1,193.9 L945.1,194.0 L947.1,194.0 L949.1,194.1 L951.1,194.2 L953.1,194.3 L955.1,194.4 L957.1,194.4 L959.1,194.5 L961.1,194.6 L963.1,194.7 L965.1,194.8 L967.1,194.8 L969.1,194.9 L971.1,195.0 L973.1,195.1 L975.1,195.1 L977.1,195.2 L979.1,195.3 L981.1,195.4 L983.1,195.5 L985.1,195.5 L987.1,195.6 L989.1,195.7 L991.1,195.8 L993.1,195.9 L995.1,195.9 L997.1,196.0 L999.1,196.1 L1001.1,196.2 L1003.1,196.2 L1005.1,196.3 L1007.1,196.4 L1009.1,196.5 L1011.1,196.6 L1013.1,196.6 L1015.1,196.7 L1017.1,196.8 L1019.1,196.9 L1021.1,197.0 L1023.1,197.0 L1025.1,197.1 L1027.1,197.2 L1029.1,197.3 L1031.1,197.3 L1033.1,197.4 L1035.1,197.5 L1037.1,197.6 L1039.1,197.7 L1041.1,197.7 L1043.1,197.8 L1045.1,197.9 L1047.1,198.0 L1049.1,198.1 L1051.1,198.1 L1053.1,198.2 L1055.1,198.3 L1057.1,198.4 L1059.1,198.4 L1061.1,198.5 L1063.1,198.6 L1065.1,198.7 L1067.1,198.8 L1069.0,198.8 L1071.0,198.9 L1073.0,199.0 L1075.0,199.1 L1077.0,199.2 L1079.0,199.2 L1081.0,199.3 L1083.0,199.4 L1085.0,199.5 L1087.0,199.5 L1089.0,199.6 L1091.0,199.7 L1093.0,199.8 L1095.0,199.9 L1097.0,199.9 L1099.0,200.0 L1101.0,200.1 L1103.0,200.2 L1105.0,200.3 L1107.0,200.3 L1109.0,200.4 L1111.0,200.5 L1113.0,200.6 L1115.0,200.6 L1117.0,200.7 L1119.0,200.8 L1121.0,200.9 L1123.0,201.0 L1125.0,201.0 L1127.0,201.1 L1129.0,201.2 L1131.0,201.3 L1133.0,201.3 L1135.0,201.4 L1137.0,201.5 L1139.0,201.6 L1141.0,201.7 L1143.0,201.7 L1145.0,201.8 L1147.0,201.9 L1149.0,202.0 L1151.0,202.1 L1153.0,202.1 L1155.0,202.2 L1157.0,202.3 L1159.0,202.4 L1161.0,202.4 L1163.0,202.5 L1165.0,202.6 L1167.0,202.7 L1169.0,202.8 L1171.0,202.8 L1173.0,202.9 L1175.0,203.0 L1177.0,203.1 L1179.0,203.1 L1181.0,203.2 L1183.0,203.3 L1185.0,203.4 L1187.0,203.5 L1189.0,203.5 L1191.0,203.6 L1193.0,203.7 L1195.0,203.8 L1197.0,203.9 L1199.0,203.9 L1201.0,204.0 L1203.0,204.1 L1205.0,204.2 L1207.0,204.2 L1209.0,204.3 L1211.0,204.4 L1213.0,204.5 L1215.0,204.6 L1217.0,204.6 L1219.0,204.7 L1221.0,204.8 L1223.0,204.9 L1225.0,204.9 L1227.0,205.0 L1229.0,205.1 L1231.0,205.2 L1233.0,205.3 L1235.0,205.3 L1236.9,205.4 L1238.9,205.5 L1240.9,205.6 L1242.9,205.6 L1244.9,205.7 L1246.9,205.8 L1248.9,205.9 L1250.9,206.0 L1252.9,206.0 L1254.9,206.1 L1256.9,206.2 L1258.9,206.3 L1260.9,206.3 L1262.9,206.4 L1264.9,206.5 L1266.9,206.6 L1268.9,206.7 L1270.9,206.7 L1272.9,206.8 L1274.9,206.9 L1276.9,207.0 L1278.9,207.0 L1280.9,207.1 L1282.9,207.2 L1284.9,207.3 L1286.9,207.4 L1288.9,207.4 L1290.9,207.5 L1292.9,207.6 L1294.9,207.7 L1296.9,207.7 L1298.9,207.8 L1300.9,207.9 L1302.9,208.0 L1304.9,208.1 L1306.9,208.1 L1308.9,208.2 L1310.9,208.3 L1312.9,208.4 L1314.9,208.4 L1316.9,208.5 L1318.9,208.6 L1320.9,208.7 L1322.9,208.8 L1324.9,208.8 L1326.9,208.9 L1328.9,209.0 L1330.9,209.1 L1332.9,209.1 L1334.9,209.2 L1336.9,209.3 L1338.9,209.4 L1340.9,209.5 L1342.9,209.5 L1344.9,209.6 L1346.9,209.7 L1348.9,209.8 L1350.9,209.8 L1352.9,209.9 L1354.9,210.0 L1356.9,210.1 L1358.9,210.2 L1360.9,210.2 L1362.9,210.3 L1364.9,210.4 L1366.9,210.5 L1368.9,210.5 L1370.9,210.6 L1372.9,210.7 L1374.9,210.8 L1376.9,210.9 L1378.9,210.9 L1380.9,211.0 L1382.9,211.1 L1384.9,211.2 L1386.9,211.2 L1388.9,211.3 L1390.9,211.4 L1392.9,211.5 L1394.9,211.6 L1396.9,211.6 L1398.9,211.7 L1400.9,211.8 L1402.8,211.9 L1404.8,211.9 L1406.8,212.0 L1408.8,212.1 L1410.8,212.2 L1412.8,212.2 L1414.8,212.3 L1416.8,212.4 L1418.8,212.5 L1420.8,212.6 L1422.8,212.6 L1424.8,212.7 L1426.8,212.8 L1428.8,212.9 L1430.8,212.9 L1432.8,213.0 L1434.8,213.1 L1436.8,213.2 L1438.8,213.3 L1440.8,213.3 L1442.8,213.4 L1444.8,213.5 L1446.8,213.6 L1448.8,213.6 L1450.8,213.7 L1452.8,213.8 L1454.8,213.9 L1456.8,214.0 L1458.8,214.0 L1460.8,214.1 L1462.8,214.2 L1464.8,214.3 L1466.8,214.3 L1468.8,214.4 L1470.8,214.5 L1472.8,214.6 L1474.8,214.6 L1476.8,214.7 L1478.8,214.8 L1480.8,214.9 L1482.8,215.0 L1484.8,215.0 L1486.8,215.1 L1488.8,215.2 L1490.8,215.3 L1492.8,215.3 L1494.8,215.4 L1496.8,215.5 L1498.8,215.6 L1500.8,215.7 L1502.8,215.7 L1504.8,215.8 L1506.8,215.9 L1508.8,216.0 L1510.8,216.0 L1512.8,216.1 L1514.8,216.2 L1516.8,216.3 L1518.8,216.3 L1520.8,216.4 L1522.8,216.5 L1524.8,216.6 L1526.8,216.7 L1528.8,216.7 L1530.8,216.8 L1532.8,216.9 L1534.8,217.0 L1536.8,217.0 L1538.8,217.1 L1540.8,217.2 L1542.8,217.3 L1544.8,217.3 L1546.8,217.4 L1548.8,217.5 L1550.8,217.6 L1552.8,217.7 L1554.8,217.7 L1556.8,217.8 L1558.8,217.9 L1560.8,218.0 L1562.8,218.0 L1564.8,218.1 L1566.8,218.2 L1568.8,218.3 L1570.7,218.3 L1572.7,218.4 L1574.7,218.5 L1576.7,218.6 L1578.7,218.7 L1580.7,218.7 L1582.7,218.8 L1584.7,218.9 L1586.7,219.0 L1588.7,219.0 L1590.7,219.1 L1592.7,219.2 L1594.7,219.3 L1596.7,219.3 L1598.7,219.4 L1600.7,219.5 L1602.7,219.6 L1604.7,219.7 L1606.7,219.7 L1608.7,219.8 L1610.7,219.9 L1612.7,220.0 L1614.7,220.0 L1616.7,220.1 L1618.7,220.2 L1620.7,220.3 L1622.7,220.3 L1624.7,220.4 L1626.7,220.5 L1628.7,220.6 L1630.7,220.7 L1632.7,220.7 L1634.7,220.8 L1636.7,220.9 L1638.7,221.0 L1640.7,221.0 L1642.7,221.1 L1644.7,221.2 L1646.7,221.3 L1648.7,221.3 L1650.7,221.4 L1652.7,221.5 L1654.7,221.6 L1656.7,221.7 L1658.7,221.7 L1660.7,221.8 L1662.7,221.9 L1664.7,222.0 L1666.7,222.0 L1668.7,222.1 L1670.7,222.2 L1672.7,222.3 L1674.7,222.3 L1676.7,222.4 L1678.7,222.5 L1680.7,222.6 L1682.7,222.6 L1684.7,222.7 L1686.7,222.8 L1688.7,222.9 L1690.7,223.0 L1692.7,223.0 L1694.7,223.1 L1696.7,223.2 L1698.7,223.3 L1700.7,223.3 L1702.7,223.4 L1704.7,223.5 L1706.7,223.6 L1708.7,223.6 L1710.7,223.7 L1712.7,223.8 L1714.7,223.9 L1716.7,223.9 L1718.7,224.0 L1720.7,224.1 L1722.7,224.2 L1724.7,224.3 L1726.7,224.3 L1728.7,224.4 L1730.7,224.5 L1732.7,224.6 L1734.7,224.6 L1736.6,224.7 L1738.6,224.8 L1740.6,224.9 L1742.6,224.9 L1744.6,225.0 L1746.6,225.1 L1748.6,225.2 L1750.6,225.2 L1752.6,225.3 L1754.6,225.4 L1756.6,225.5 L1758.6,225.6 L1760.6,225.6 L1762.6,225.7 L1764.6,225.8 L1766.6,225.9 L1768.6,225.9 L1770.6,226.0 L1772.6,226.1 L1774.6,226.2 L1776.6,226.2 L1778.6,226.3 L1780.6,226.4 L1782.6,226.5 L1784.6,226.5 L1786.6,226.6 L1788.6,226.7 L1790.6,226.8 L1792.6,226.9 L1794.6,226.9 L1796.6,227.0 L1798.6,227.1 L1800.6,227.2 L1802.6,227.2 L1804.6,227.3 L1806.6,227.4 L1808.6,227.5 L1810.6,227.5 L1812.6,227.6 L1814.6,227.7 L1816.6,227.8 L1818.6,227.8 L1822.6,227.8" stroke="#0068e0" stroke-width="7.0"/>
<path d="M319.5,172.0 L321.5,171.4 L323.5,170.5 L325.5,169.3 L327.5,168.2 L329.5,167.0 L331.5,165.7 L333.5,164.4 L335.5,163.1 L337.5,161.8 L339.5,160.7 L341.5,159.6 L343.5,158.7 L345.5,158.0 L347.5,157.4 L349.5,157.0 L351.5,156.8 L353.5,156.6 L355.5,156.6 L357.5,156.6 L359.5,156.6 L361.5,156.6 L363.5,156.6 L365.5,156.6 L367.5,156.6 L369.5,156.6 L371.5,156.6 L373.5,156.8 L375.5,157.2 L377.5,157.9 L379.5,159.0 L381.5,160.5 L383.5,162.3 L385.5,164.3 L387.5,166.3 L389.5,168.3 L391.5,170.2 L393.5,172.0 L395.5,173.9 L397.5,176.0 L399.5,178.2 L401.5,180.9 L403.4,183.8 L405.4,187.0 L407.4,190.4 L409.4,194.0 L411.4,197.8 L413.4,201.6 L415.4,205.5 L417.4,209.5 L419.4,213.5 L421.4,217.5 L423.4,221.6 L425.4,225.8 L427.4,230.0 L429.4,234.3 L431.4,238.7 L433.4,243.3 L435.4,247.9 L437.4,252.7 L439.4,257.5 L441.4,262.4 L443.4,267.3 L445.4,272.4 L447.4,277.5 L449.4,282.6 L451.4,287.8 L453.4,293.1 L455.4,298.4 L457.4,303.8 L459.4,309.1 L461.4,314.4 L463.4,319.6 L465.4,324.8 L467.4,329.8 L469.4,334.8 L471.4,339.7 L473.4,344.5 L475.4,349.2 L477.4,353.9 L479.4,358.5 L481.4,363.1 L483.4,367.6 L485.4,372.0 L487.4,376.4 L489.4,380.8 L491.4,385.1 L493.4,389.4 L495.4,393.6 L497.4,397.8 L499.4,402.0 L501.4,406.2 L503.4,410.3 L505.4,414.4 L507.4,418.4 L509.4,422.5 L511.4,426.5 L513.4,430.5 L515.4,434.5 L517.4,438.5 L519.4,442.4 L521.4,446.4 L523.4,450.3 L525.4,454.2 L527.4,458.0 L529.4,461.9 L531.4,465.7 L533.4,469.5 L535.4,473.2 L537.4,477.0 L539.4,480.7 L541.4,484.4 L543.4,488.0 L545.4,491.7 L547.4,495.3 L549.4,498.9 L551.4,502.5 L553.4,506.1 L555.4,509.6 L557.4,513.1 L559.4,516.6 L561.4,520.1 L563.4,523.6 L565.4,527.1 L567.4,530.5 L569.4,534.0 L571.3,537.4 L573.3,540.8 L575.3,544.1 L577.3,547.5 L579.3,550.8 L581.3,554.1 L583.3,557.4 L585.3,560.6 L587.3,563.9 L589.3,567.1 L591.3,570.3 L593.3,573.5 L595.3,576.7 L597.3,579.9 L599.3,583.1 L601.3,586.2 L603.3,589.3 L605.3,592.5 L607.3,595.6 L609.3,598.7 L611.3,601.8 L613.3,604.9 L615.3,608.0 L617.3,611.1 L619.3,614.2 L621.3,617.3 L623.3,620.4 L625.3,623.4 L627.3,626.5 L629.3,629.6 L631.3,632.6 L633.3,635.7 L635.3,638.7 L637.3,641.8 L639.3,644.8 L641.3,647.8 L643.3,650.8 L645.3,653.8 L647.3,656.8 L649.3,659.8 L651.3,662.7 L653.3,665.7 L655.3,668.6 L657.3,671.5 L659.3,674.4 L661.3,677.3 L663.3,680.2 L665.3,683.1 L667.3,685.9 L669.3,688.8 L671.3,691.6 L673.3,694.4 L675.3,697.2 L677.3,699.9 L679.3,702.7 L681.3,705.4 L683.3,708.1 L685.3,710.8 L687.3,713.5 L689.3,716.1 L691.3,718.8 L693.3,721.4 L695.3,724.0 L697.3,726.5 L699.3,729.1 L701.3,731.7 L703.3,734.2 L705.3,736.7 L707.3,739.2 L709.3,741.7 L711.3,744.2 L713.3,746.6 L715.3,749.1 L717.3,751.5 L719.3,753.9 L721.3,756.3 L723.3,758.7 L725.3,761.1 L727.3,763.5 L729.3,765.8 L731.3,768.2 L733.3,770.5 L735.3,772.8 L737.2,775.1 L739.2,777.4 L741.2,779.6 L743.2,781.9 L745.2,784.1 L747.2,786.4 L749.2,788.6 L751.2,790.8 L753.2,793.0 L755.2,795.2 L757.2,797.3 L759.2,799.5 L761.2,801.6 L763.2,803.8 L765.2,805.9 L767.2,808.0 L769.2,810.1 L771.2,812.2 L773.2,814.2 L775.2,816.3 L777.2,818.3 L779.2,820.4 L781.2,822.4 L783.2,824.4 L785.2,826.3 L787.2,828.3 L789.2,830.3 L791.2,832.2 L793.2,834.1 L795.2,836.1 L797.2,838.0 L799.2,839.9 L801.2,841.8 L803.2,843.6 L805.2,845.5 L807.2,847.3 L809.2,849.2 L811.2,851.0 L813.2,852.8 L815.2,854.6 L817.2,856.4 L819.2,858.2 L821.2,860.0 L823.2,861.8 L825.2,863.5 L827.2,865.3 L829.2,867.0 L831.2,868.7 L833.2,870.4 L835.2,872.2 L837.2,873.9 L839.2,875.6 L841.2,877.2 L843.2,878.9 L845.2,880.6 L847.2,882.2 L849.2,883.9 L851.2,885.5 L853.2,887.2 L855.2,888.8 L857.2,890.4 L859.2,892.0 L861.2,893.7 L863.2,895.3 L865.2,896.9 L867.2,898.4 L869.2,900.0 L871.2,901.6 L873.2,903.2 L875.2,904.7 L877.2,906.3 L879.2,907.8 L881.2,909.4 L883.2,910.9 L885.2,912.4 L887.2,914.0 L889.2,915.5 L891.2,917.0 L893.2,918.5 L895.2,920.0 L897.2,921.5 L899.2,923.0 L901.2,924.5 L903.1,926.0 L905.1,927.4 L907.1,928.9 L909.1,930.4 L911.1,931.8 L913.1,933.3 L915.1,934.7 L917.1,936.2 L919.1,937.6 L921.1,939.1 L923.1,940.5 L925.1,941.9 L927.1,943.3 L929.1,944.7 L931.1,946.1 L933.1,947.5 L935.1,948.9 L937.1,950.3 L939.1,951.7 L941.1,953.1 L943.1,954.4 L945.1,955.8 L947.1,957.1 L949.1,958.5 L951.1,959.8 L953.1,961.1 L955.1,962.5 L957.1,963.8 L959.1,965.1 L961.1,966.4 L963.1,967.7 L965.1,969.0 L967.1,970.3 L969.1,971.5 L971.1,972.8 L973.1,974.1 L975.1,975.4 L977.1,976.6 L979.1,977.9 L981.1,979.1 L983.1,980.3 L985.1,981.6 L987.1,982.8 L989.1,984.0 L991.1,985.3 L993.1,986.5 L995.1,987.7 L997.1,988.9 L999.1,990.1 L1001.1,991.3 L1003.1,992.5 L1005.1,993.6 L1007.1,994.8 L1009.1,996.0 L1011.1,997.2 L1013.1,998.3 L1015.1,999.5 L1017.1,1000.6 L1019.1,1001.8 L1021.1,1002.9 L1023.1,1004.1 L1025.1,1005.2 L1027.1,1006.3 L1029.1,1007.4 L1031.1,1008.6 L1033.1,1009.7 L1035.1,1010.8 L1037.1,1011.9 L1039.1,1013.0 L1041.1,1014.1 L1043.1,1015.2 L1045.1,1016.3 L1047.1,1017.3 L1049.1,1018.4 L1051.1,1019.5 L1053.1,1020.6 L1055.1,1021.6 L1057.1,1022.7 L1059.1,1023.7 L1061.1,1024.8 L1063.1,1025.8 L1065.1,1026.9 L1067.1,1027.9 L1069.0,1029.0 L1071.0,1030.0 L1073.0,1031.0 L1075.0,1032.1 L1077.0,1033.1 L1079.0,1034.1 L1081.0,1035.1 L1083.0,1036.1 L1085.0,1037.2 L1087.0,1038.2 L1089.0,1039.2 L1091.0,1040.2 L1093.0,1041.2 L1095.0,1042.2 L1097.0,1043.2 L1099.0,1044.2 L1101.0,1045.2 L1103.0,1046.1 L1105.0,1047.1 L1107.0,1048.1 L1109.0,1049.1 L1111.0,1050.0 L1113.0,1051.0 L1115.0,1052.0 L1117.0,1052.9 L1119.0,1053.9 L1121.0,1054.8 L1123.0,1055.7 L1125.0,1056.7 L1127.0,1057.6 L1129.0,1058.5 L1131.0,1059.4 L1133.0,1060.4 L1135.0,1061.3 L1137.0,1062.2 L1139.0,1063.1 L1141.0,1064.0 L1143.0,1064.8 L1145.0,1065.7 L1147.0,1066.6 L1149.0,1067.5 L1151.0,1068.3 L1153.0,1069.2 L1155.0,1070.0 L1157.0,1070.9 L1159.0,1071.7 L1161.0,1072.6 L1163.0,1073.4 L1165.0,1074.2 L1167.0,1075.0 L1169.0,1075.8 L1171.0,1076.6 L1173.0,1077.4 L1175.0,1078.2 L1177.0,1079.0 L1179.0,1079.8 L1181.0,1080.5 L1183.0,1081.3 L1185.0,1082.1 L1187.0,1082.8 L1189.0,1083.6 L1191.0,1084.3 L1193.0,1085.0 L1195.0,1085.8 L1197.0,1086.5 L1199.0,1087.2 L1201.0,1087.9 L1203.0,1088.6 L1205.0,1089.3 L1207.0,1090.0 L1209.0,1090.6 L1211.0,1091.3 L1213.0,1092.0 L1215.0,1092.6 L1217.0,1093.3 L1219.0,1093.9 L1221.0,1094.6 L1223.0,1095.2 L1225.0,1095.9 L1227.0,1096.5 L1229.0,1097.1 L1231.0,1097.7 L1233.0,1098.3 L1235.0,1098.9 L1236.9,1099.5 L1238.9,1100.1 L1240.9,1100.7 L1242.9,1101.3 L1244.9,1101.9 L1246.9,1102.4 L1248.9,1103.0 L1250.9,1103.6 L1252.9,1104.1 L1254.9,1104.7 L1256.9,1105.3 L1258.9,1105.8 L1260.9,1106.4 L1262.9,1106.9 L1264.9,1107.4 L1266.9,1108.0 L1268.9,1108.5 L1270.9,1109.0 L1272.9,1109.6 L1274.9,1110.1 L1276.9,1110.6 L1278.9,1111.1 L1280.9,1111.6 L1282.9,1112.2 L1284.9,1112.7 L1286.9,1113.2 L1288.9,1113.7 L1290.9,1114.2 L1292.9,1114.7 L1294.9,1115.2 L1296.9,1115.6 L1298.9,1116.1 L1300.9,1116.6 L1302.9,1117.1 L1304.9,1117.6 L1306.9,1118.1 L1308.9,1118.5 L1310.9,1119.0 L1312.9,1119.5 L1314.9,1120.0 L1316.9,1120.4 L1318.9,1120.9 L1320.9,1121.4 L1322.9,1121.8 L1324.9,1122.3 L1326.9,1122.7 L1328.9,1123.2 L1330.9,1123.6 L1332.9,1124.1 L1334.9,1124.5 L1336.9,1125.0 L1338.9,1125.4 L1340.9,1125.9 L1342.9,1126.3 L1344.9,1126.7 L1346.9,1127.2 L1348.9,1127.6 L1350.9,1128.0 L1352.9,1128.4 L1354.9,1128.9 L1356.9,1129.3 L1358.9,1129.7 L1360.9,1130.1 L1362.9,1130.5 L1364.9,1130.9 L1366.9,1131.3 L1368.9,1131.7 L1370.9,1132.1 L1372.9,1132.5 L1374.9,1132.9 L1376.9,1133.3 L1378.9,1133.7 L1380.9,1134.1 L1382.9,1134.5 L1384.9,1134.9 L1386.9,1135.3 L1388.9,1135.7 L1390.9,1136.0 L1392.9,1136.4 L1394.9,1136.8 L1396.9,1137.2 L1398.9,1137.5 L1400.9,1137.9 L1402.8,1138.3 L1404.8,1138.6 L1406.8,1139.0 L1408.8,1139.4 L1410.8,1139.7 L1412.8,1140.1 L1414.8,1140.5 L1416.8,1140.8 L1418.8,1141.2 L1420.8,1141.5 L1422.8,1141.9 L1424.8,1142.2 L1426.8,1142.6 L1428.8,1142.9 L1430.8,1143.2 L1432.8,1143.6 L1434.8,1143.9 L1436.8,1144.2 L1438.8,1144.6 L1440.8,1144.9 L1442.8,1145.2 L1444.8,1145.6 L1446.8,1145.9 L1448.8,1146.2 L1450.8,1146.5 L1452.8,1146.9 L1454.8,1147.2 L1456.8,1147.5 L1458.8,1147.8 L1460.8,1148.1 L1462.8,1148.4 L1464.8,1148.7 L1466.8,1149.1 L1468.8,1149.4 L1470.8,1149.7 L1472.8,1150.0 L1474.8,1150.3 L1476.8,1150.6 L1478.8,1150.9 L1480.8,1151.2 L1482.8,1151.5 L1484.8,1151.8 L1486.8,1152.1 L1488.8,1152.3 L1490.8,1152.6 L1492.8,1152.9 L1494.8,1153.2 L1496.8,1153.5 L1498.8,1153.8 L1500.8,1154.1 L1502.8,1154.4 L1504.8,1154.6 L1506.8,1154.9 L1508.8,1155.2 L1510.8,1155.5 L1512.8,1155.8 L1514.8,1156.0 L1516.8,1156.3 L1518.8,1156.6 L1520.8,1156.9 L1522.8,1157.1 L1524.8,1157.4 L1526.8,1157.7 L1528.8,1157.9 L1530.8,1158.2 L1532.8,1158.5 L1534.8,1158.7 L1536.8,1159.0 L1538.8,1159.3 L1540.8,1159.5 L1542.8,1159.8 L1544.8,1160.0 L1546.8,1160.3 L1548.8,1160.6 L1550.8,1160.8 L1552.8,1161.1 L1554.8,1161.3 L1556.8,1161.6 L1558.8,1161.8 L1560.8,1162.1 L1562.8,1162.3 L1564.8,1162.6 L1566.8,1162.8 L1568.8,1163.1 L1570.7,1163.3 L1572.7,1163.5 L1574.7,1163.8 L1576.7,1164.0 L1578.7,1164.3 L1580.7,1164.5 L1582.7,1164.7 L1584.7,1165.0 L1586.7,1165.2 L1588.7,1165.4 L1590.7,1165.6 L1592.7,1165.9 L1594.7,1166.1 L1596.7,1166.3 L1598.7,1166.6 L1600.7,1166.8 L1602.7,1167.0 L1604.7,1167.2 L1606.7,1167.4 L1608.7,1167.7 L1610.7,1167.9 L1612.7,1168.1 L1614.7,1168.3 L1616.7,1168.5 L1618.7,1168.7 L1620.7,1168.9 L1622.7,1169.1 L1624.7,1169.4 L1626.7,1169.6 L1628.7,1169.8 L1630.7,1170.0 L1632.7,1170.2 L1634.7,1170.4 L1636.7,1170.6 L1638.7,1170.8 L1640.7,1171.0 L1642.7,1171.2 L1644.7,1171.4 L1646.7,1171.6 L1648.7,1171.8 L1650.7,1172.0 L1652.7,1172.2 L1654.7,1172.4 L1656.7,1172.6 L1658.7,1172.8 L1660.7,1173.0 L1662.7,1173.2 L1664.7,1173.4 L1666.7,1173.6 L1668.7,1173.8 L1670.7,1174.0 L1672.7,1174.2 L1674.7,1174.4 L1676.7,1174.5 L1678.7,1174.7 L1680.7,1174.9 L1682.7,1175.1 L1684.7,1175.2 L1686.7,1175.4 L1688.7,1175.6 L1690.7,1175.8 L1692.7,1175.9 L1694.7,1176.1 L1696.7,1176.3 L1698.7,1176.4 L1700.7,1176.6 L1702.7,1176.7 L1704.7,1176.9 L1706.7,1177.0 L1708.7,1177.2 L1710.7,1177.3 L1712.7,1177.5 L1714.7,1177.6 L1716.7,1177.7 L1718.7,1177.9 L1720.7,1178.0 L1722.7,1178.1 L1724.7,1178.3 L1726.7,1178.4 L1728.7,1178.6 L1730.7,1178.7 L1732.7,1178.8 L1734.7,1179.0 L1736.6,1179.1 L1738.6,1179.2 L1740.6,1179.4 L1742.6,1179.5 L1744.6,1179.6 L1746.6,1179.7 L1748.6,1179.9 L1750.6,1180.0 L1752.6,1180.1 L1754.6,1180.2 L1756.6,1180.3 L1758.6,1180.4 L1760.6,1180.5 L1762.6,1180.6 L1764.6,1180.7 L1766.6,1180.8 L1768.6,1180.9 L1770.6,1181.0 L1772.6,1181.1 L1774.6,1181.1 L1776.6,1181.2 L1778.6,1181.3 L1780.6,1181.3 L1782.6,1181.4 L1784.6,1181.4 L1786.6,1181.5 L1788.6,1181.5 L1790.6,1181.5 L1792.6,1181.6 L1794.6,1181.6 L1796.6,1181.6 L1798.6,1181.7 L1800.6,1181.7 L1802.6,1181.7 L1804.6,1181.7 L1806.6,1181.7 L1808.6,1181.8 L1810.6,1181.8 L1812.6,1181.8 L1814.6,1181.8 L1816.6,1181.9 L1818.6,1181.9 L1822.6,1181.9" stroke="#00b26e" stroke-width="5.8"/>
<path d="M319.5,172.0 L321.5,171.6 L323.5,171.0 L325.5,170.3 L327.5,169.6 L329.5,168.7 L331.5,167.8 L333.5,166.9 L335.5,166.0 L337.5,165.2 L339.5,164.4 L341.5,163.6 L343.5,163.0 L345.5,162.5 L347.5,162.2 L349.5,161.9 L351.5,161.8 L353.5,161.7 L355.5,161.7 L357.5,161.7 L359.5,161.7 L361.5,161.7 L363.5,161.7 L365.5,161.7 L367.5,161.7 L369.5,161.7 L371.5,161.7 L373.5,161.7 L375.5,161.9 L377.5,162.3 L379.5,163.0 L381.5,164.0 L383.5,165.3 L385.5,166.9 L387.5,168.4 L389.5,169.7 L391.5,170.8 L393.5,172.0 L395.5,173.6 L397.5,175.5 L399.5,177.9 L401.5,180.9 L403.4,183.9 L405.4,186.8 L407.4,189.7 L409.4,192.7 L411.4,195.6 L413.4,198.5 L415.4,201.4 L417.4,204.3 L419.4,207.2 L421.4,210.0 L423.4,212.9 L425.4,215.8 L427.4,218.6 L429.4,221.5 L431.4,224.3 L433.4,227.1 L435.4,229.9 L437.4,232.8 L439.4,235.6 L441.4,238.3 L443.4,241.1 L445.4,243.9 L447.4,246.7 L449.4,249.4 L451.4,252.2 L453.4,254.9 L455.4,257.7 L457.4,260.4 L459.4,263.1 L461.4,265.8 L463.4,268.6 L465.4,271.3 L467.4,273.9 L469.4,276.6 L471.4,279.3 L473.4,282.0 L475.4,284.6 L477.4,287.3 L479.4,289.9 L481.4,292.6 L483.4,295.2 L485.4,297.8 L487.4,300.4 L489.4,303.0 L491.4,305.6 L493.4,308.2 L495.4,310.8 L497.4,313.4 L499.4,315.9 L501.4,318.5 L503.4,321.1 L505.4,323.6 L507.4,326.1 L509.4,328.7 L511.4,331.2 L513.4,333.7 L515.4,336.2 L517.4,338.7 L519.4,341.2 L521.4,343.7 L523.4,346.2 L525.4,348.7 L527.4,351.1 L529.4,353.6 L531.4,356.0 L533.4,358.5 L535.4,360.9 L537.4,363.4 L539.4,365.8 L541.4,368.2 L543.4,370.6 L545.4,373.0 L547.4,375.4 L549.4,377.8 L551.4,380.2 L553.4,382.6 L555.4,384.9 L557.4,387.3 L559.4,389.6 L561.4,392.0 L563.4,394.3 L565.4,396.7 L567.4,399.0 L569.4,401.3 L571.3,403.6 L573.3,405.9 L575.3,408.2 L577.3,410.5 L579.3,412.8 L581.3,415.1 L583.3,417.4 L585.3,419.6 L587.3,421.9 L589.3,424.2 L591.3,426.4 L593.3,428.6 L595.3,430.9 L597.3,433.1 L599.3,435.3 L601.3,437.5 L603.3,439.8 L605.3,442.0 L607.3,444.2 L609.3,446.3 L611.3,448.5 L613.3,450.7 L615.3,452.9 L617.3,455.0 L619.3,457.2 L621.3,459.4 L623.3,461.5 L625.3,463.6 L627.3,465.8 L629.3,467.9 L631.3,470.0 L633.3,472.1 L635.3,474.2 L637.3,476.3 L639.3,478.4 L641.3,480.5 L643.3,482.6 L645.3,484.7 L647.3,486.8 L649.3,488.8 L651.3,490.9 L653.3,492.9 L655.3,495.0 L657.3,497.0 L659.3,499.1 L661.3,501.1 L663.3,503.1 L665.3,505.2 L667.3,507.2 L669.3,509.2 L671.3,511.2 L673.3,513.2 L675.3,515.2 L677.3,517.1 L679.3,519.1 L681.3,521.1 L683.3,523.1 L685.3,525.0 L687.3,527.0 L689.3,528.9 L691.3,530.9 L693.3,532.8 L695.3,534.7 L697.3,536.7 L699.3,538.6 L701.3,540.5 L703.3,542.4 L705.3,544.3 L707.3,546.2 L709.3,548.1 L711.3,550.0 L713.3,551.9 L715.3,553.8 L717.3,555.6 L719.3,557.5 L721.3,559.4 L723.3,561.2 L725.3,563.1 L727.3,564.9 L729.3,566.8 L731.3,568.6 L733.3,570.4 L735.3,572.3 L737.2,574.1 L739.2,575.9 L741.2,577.7 L743.2,579.5 L745.2,581.3 L747.2,583.1 L749.2,584.9 L751.2,586.7 L753.2,588.4 L755.2,590.2 L757.2,592.0 L759.2,593.7 L761.2,595.5 L763.2,597.2 L765.2,599.0 L767.2,600.7 L769.2,602.5 L771.2,604.2 L773.2,605.9 L775.2,607.7 L777.2,609.4 L779.2,611.1 L781.2,612.8 L783.2,614.5 L785.2,616.2 L787.2,617.9 L789.2,619.6 L791.2,621.2 L793.2,622.9 L795.2,624.6 L797.2,626.3 L799.2,627.9 L801.2,629.6 L803.2,631.2 L805.2,632.9 L807.2,634.5 L809.2,636.2 L811.2,637.8 L813.2,639.4 L815.2,641.1 L817.2,642.7 L819.2,644.3 L821.2,645.9 L823.2,647.5 L825.2,649.1 L827.2,650.7 L829.2,652.3 L831.2,653.9 L833.2,655.5 L835.2,657.0 L837.2,658.6 L839.2,660.2 L841.2,661.7 L843.2,663.3 L845.2,664.9 L847.2,666.4 L849.2,668.0 L851.2,669.5 L853.2,671.0 L855.2,672.6 L857.2,674.1 L859.2,675.6 L861.2,677.1 L863.2,678.7 L865.2,680.2 L867.2,681.7 L869.2,683.2 L871.2,684.7 L873.2,686.2 L875.2,687.7 L877.2,689.1 L879.2,690.6 L881.2,692.1 L883.2,693.6 L885.2,695.0 L887.2,696.5 L889.2,698.0 L891.2,699.4 L893.2,700.9 L895.2,702.3 L897.2,703.8 L899.2,705.2 L901.2,706.6 L903.1,708.1 L905.1,709.5 L907.1,710.9 L909.1,712.3 L911.1,713.7 L913.1,715.1 L915.1,716.6 L917.1,718.0 L919.1,719.4 L921.1,720.7 L923.1,722.1 L925.1,723.5 L927.1,724.9 L929.1,726.3 L931.1,727.6 L933.1,729.0 L935.1,730.4 L937.1,731.7 L939.1,733.1 L941.1,734.5 L943.1,735.8 L945.1,737.1 L947.1,738.5 L949.1,739.8 L951.1,741.2 L953.1,742.5 L955.1,743.8 L957.1,745.1 L959.1,746.5 L961.1,747.8 L963.1,749.1 L965.1,750.4 L967.1,751.7 L969.1,753.0 L971.1,754.3 L973.1,755.6 L975.1,756.9 L977.1,758.2 L979.1,759.4 L981.1,760.7 L983.1,762.0 L985.1,763.3 L987.1,764.5 L989.1,765.8 L991.1,767.0 L993.1,768.3 L995.1,769.5 L997.1,770.8 L999.1,772.0 L1001.1,773.3 L1003.1,774.5 L1005.1,775.7 L1007.1,777.0 L1009.1,778.2 L1011.1,779.4 L1013.1,780.6 L1015.1,781.9 L1017.1,783.1 L1019.1,784.3 L1021.1,785.5 L1023.1,786.7 L1025.1,787.9 L1027.1,789.1 L1029.1,790.3 L1031.1,791.5 L1033.1,792.6 L1035.1,793.8 L1037.1,795.0 L1039.1,796.2 L1041.1,797.3 L1043.1,798.5 L1045.1,799.7 L1047.1,800.8 L1049.1,802.0 L1051.1,803.1 L1053.1,804.3 L1055.1,805.4 L1057.1,806.6 L1059.1,807.7 L1061.1,808.9 L1063.1,810.0 L1065.1,811.1 L1067.1,812.3 L1069.0,813.4 L1071.0,814.5 L1073.0,815.6 L1075.0,816.7 L1077.0,817.8 L1079.0,819.0 L1081.0,820.1 L1083.0,821.2 L1085.0,822.3 L1087.0,823.4 L1089.0,824.4 L1091.0,825.5 L1093.0,826.6 L1095.0,827.7 L1097.0,828.8 L1099.0,829.9 L1101.0,830.9 L1103.0,832.0 L1105.0,833.1 L1107.0,834.1 L1109.0,835.2 L1111.0,836.2 L1113.0,837.3 L1115.0,838.4 L1117.0,839.4 L1119.0,840.4 L1121.0,841.5 L1123.0,842.5 L1125.0,843.6 L1127.0,844.6 L1129.0,845.6 L1131.0,846.7 L1133.0,847.7 L1135.0,848.7 L1137.0,849.7 L1139.0,850.7 L1141.0,851.8 L1143.0,852.8 L1145.0,853.8 L1147.0,854.8 L1149.0,855.8 L1151.0,856.8 L1153.0,857.8 L1155.0,858.8 L1157.0,859.7 L1159.0,860.7 L1161.0,861.7 L1163.0,862.7 L1165.0,863.7 L1167.0,864.6 L1169.0,865.6 L1171.0,866.6 L1173.0,867.6 L1175.0,868.5 L1177.0,869.5 L1179.0,870.4 L1181.0,871.4 L1183.0,872.3 L1185.0,873.3 L1187.0,874.2 L1189.0,875.2 L1191.0,876.1 L1193.0,877.1 L1195.0,878.0 L1197.0,878.9 L1199.0,879.9 L1201.0,880.8 L1203.0,881.7 L1205.0,882.6 L1207.0,883.6 L1209.0,884.5 L1211.0,885.4 L1213.0,886.3 L1215.0,887.2 L1217.0,888.1 L1219.0,889.0 L1221.0,889.9 L1223.0,890.8 L1225.0,891.7 L1227.0,892.6 L1229.0,893.5 L1231.0,894.4 L1233.0,895.3 L1235.0,896.2 L1236.9,897.1 L1238.9,897.9 L1240.9,898.8 L1242.9,899.7 L1244.9,900.6 L1246.9,901.4 L1248.9,902.3 L1250.9,903.2 L1252.9,904.0 L1254.9,904.9 L1256.9,905.7 L1258.9,906.6 L1260.9,907.4 L1262.9,908.3 L1264.9,909.1 L1266.9,910.0 L1268.9,910.8 L1270.9,911.6 L1272.9,912.5 L1274.9,913.3 L1276.9,914.1 L1278.9,915.0 L1280.9,915.8 L1282.9,916.6 L1284.9,917.5 L1286.9,918.3 L1288.9,919.1 L1290.9,919.9 L1292.9,920.7 L1294.9,921.5 L1296.9,922.3 L1298.9,923.1 L1300.9,923.9 L1302.9,924.7 L1304.9,925.5 L1306.9,926.3 L1308.9,927.1 L1310.9,927.9 L1312.9,928.7 L1314.9,929.5 L1316.9,930.3 L1318.9,931.1 L1320.9,931.8 L1322.9,932.6 L1324.9,933.4 L1326.9,934.2 L1328.9,934.9 L1330.9,935.7 L1332.9,936.5 L1334.9,937.2 L1336.9,938.0 L1338.9,938.8 L1340.9,939.5 L1342.9,940.3 L1344.9,941.0 L1346.9,941.8 L1348.9,942.5 L1350.9,943.3 L1352.9,944.0 L1354.9,944.8 L1356.9,945.5 L1358.9,946.2 L1360.9,947.0 L1362.9,947.7 L1364.9,948.4 L1366.9,949.2 L1368.9,949.9 L1370.9,950.6 L1372.9,951.3 L1374.9,952.1 L1376.9,952.8 L1378.9,953.5 L1380.9,954.2 L1382.9,954.9 L1384.9,955.6 L1386.9,956.4 L1388.9,957.1 L1390.9,957.8 L1392.9,958.5 L1394.9,959.2 L1396.9,959.9 L1398.9,960.6 L1400.9,961.3 L1402.8,961.9 L1404.8,962.6 L1406.8,963.3 L1408.8,964.0 L1410.8,964.7 L1412.8,965.4 L1414.8,966.1 L1416.8,966.7 L1418.8,967.4 L1420.8,968.1 L1422.8,968.8 L1424.8,969.4 L1426.8,970.1 L1428.8,970.8 L1430.8,971.4 L1432.8,972.1 L1434.8,972.8 L1436.8,973.4 L1438.8,974.1 L1440.8,974.7 L1442.8,975.4 L1444.8,976.0 L1446.8,976.7 L1448.8,977.3 L1450.8,978.0 L1452.8,978.6 L1454.8,979.3 L1456.8,979.9 L1458.8,980.5 L1460.8,981.2 L1462.8,981.8 L1464.8,982.4 L1466.8,983.1 L1468.8,983.7 L1470.8,984.3 L1472.8,985.0 L1474.8,985.6 L1476.8,986.2 L1478.8,986.8 L1480.8,987.4 L1482.8,988.1 L1484.8,988.7 L1486.8,989.3 L1488.8,989.9 L1490.8,990.5 L1492.8,991.1 L1494.8,991.7 L1496.8,992.3 L1498.8,992.9 L1500.8,993.5 L1502.8,994.1 L1504.8,994.7 L1506.8,995.3 L1508.8,995.9 L1510.8,996.5 L1512.8,997.1 L1514.8,997.7 L1516.8,998.3 L1518.8,998.9 L1520.8,999.4 L1522.8,1000.0 L1524.8,1000.6 L1526.8,1001.2 L1528.8,1001.8 L1530.8,1002.3 L1532.8,1002.9 L1534.8,1003.5 L1536.8,1004.1 L1538.8,1004.6 L1540.8,1005.2 L1542.8,1005.8 L1544.8,1006.3 L1546.8,1006.9 L1548.8,1007.4 L1550.8,1008.0 L1552.8,1008.6 L1554.8,1009.1 L1556.8,1009.7 L1558.8,1010.2 L1560.8,1010.8 L1562.8,1011.3 L1564.8,1011.9 L1566.8,1012.4 L1568.8,1013.0 L1570.7,1013.5 L1572.7,1014.0 L1574.7,1014.6 L1576.7,1015.1 L1578.7,1015.7 L1580.7,1016.2 L1582.7,1016.7 L1584.7,1017.3 L1586.7,1017.8 L1588.7,1018.3 L1590.7,1018.8 L1592.7,1019.4 L1594.7,1019.9 L1596.7,1020.4 L1598.7,1020.9 L1600.7,1021.5 L1602.7,1022.0 L1604.7,1022.5 L1606.7,1023.0 L1608.7,1023.5 L1610.7,1024.0 L1612.7,1024.5 L1614.7,1025.1 L1616.7,1025.6 L1618.7,1026.1 L1620.7,1026.6 L1622.7,1027.1 L1624.7,1027.6 L1626.7,1028.1 L1628.7,1028.6 L1630.7,1029.1 L1632.7,1029.6 L1634.7,1030.1 L1636.7,1030.6 L1638.7,1031.0 L1640.7,1031.5 L1642.7,1032.0 L1644.7,1032.5 L1646.7,1033.0 L1648.7,1033.5 L1650.7,1034.0 L1652.7,1034.5 L1654.7,1034.9 L1656.7,1035.4 L1658.7,1035.9 L1660.7,1036.4 L1662.7,1036.8 L1664.7,1037.3 L1666.7,1037.8 L1668.7,1038.3 L1670.7,1038.7 L1672.7,1039.2 L1674.7,1039.7 L1676.7,1040.1 L1678.7,1040.6 L1680.7,1041.1 L1682.7,1041.5 L1684.7,1042.0 L1686.7,1042.4 L1688.7,1042.9 L1690.7,1043.3 L1692.7,1043.8 L1694.7,1044.3 L1696.7,1044.7 L1698.7,1045.2 L1700.7,1045.6 L1702.7,1046.1 L1704.7,1046.5 L1706.7,1047.0 L1708.7,1047.4 L1710.7,1047.8 L1712.7,1048.3 L1714.7,1048.7 L1716.7,1049.2 L1718.7,1049.6 L1720.7,1050.0 L1722.7,1050.5 L1724.7,1050.9 L1726.7,1051.3 L1728.7,1051.8 L1730.7,1052.2 L1732.7,1052.6 L1734.7,1053.1 L1736.6,1053.5 L1738.6,1053.9 L1740.6,1054.3 L1742.6,1054.8 L1744.6,1055.2 L1746.6,1055.6 L1748.6,1056.0 L1750.6,1056.4 L1752.6,1056.9 L1754.6,1057.3 L1756.6,1057.7 L1758.6,1058.1 L1760.6,1058.5 L1762.6,1058.9 L1764.6,1059.3 L1766.6,1059.7 L1768.6,1060.1 L1770.6,1060.6 L1772.6,1061.0 L1774.6,1061.4 L1776.6,1061.8 L1778.6,1062.2 L1780.6,1062.6 L1782.6,1063.0 L1784.6,1063.4 L1786.6,1063.8 L1788.6,1064.2 L1790.6,1064.5 L1792.6,1064.9 L1794.6,1065.3 L1796.6,1065.7 L1798.6,1066.1 L1800.6,1066.5 L1802.6,1066.9 L1804.6,1067.3 L1806.6,1067.7 L1808.6,1068.0 L1810.6,1068.4 L1812.6,1068.8 L1814.6,1069.2 L1816.6,1069.6 L1818.6,1070.0 L1822.6,1070.0" stroke="#e070f0" stroke-width="5.6"/>
<path d="M319.5,172.0 L321.5,171.8 L323.5,171.6 L325.5,171.3 L327.5,171.0 L329.5,170.7 L331.5,170.3 L333.5,170.0 L335.5,169.6 L337.5,169.3 L339.5,168.9 L341.5,168.7 L343.5,168.4 L345.5,168.2 L347.5,168.1 L349.5,168.0 L351.5,167.9 L353.5,167.9 L355.5,167.9 L357.5,167.9 L359.5,167.9 L361.5,167.9 L363.5,167.9 L365.5,167.9 L367.5,167.9 L369.5,167.9 L371.5,167.9 L373.5,167.9 L375.5,168.0 L377.5,168.1 L379.5,168.4 L381.5,168.8 L383.5,169.3 L385.5,169.9 L387.5,170.5 L389.5,171.1 L391.5,171.6 L393.5,172.2 L395.5,172.9 L397.5,173.8 L399.5,174.8 L401.5,175.9 L403.4,177.0 L405.4,178.1 L407.4,179.2 L409.4,180.3 L411.4,181.4 L413.4,182.5 L415.4,183.6 L417.4,184.7 L419.4,185.8 L421.4,186.9 L423.4,188.0 L425.4,189.1 L427.4,190.2 L429.4,191.3 L431.4,192.3 L433.4,193.4 L435.4,194.5 L437.4,195.6 L439.4,196.7 L441.4,197.8 L443.4,198.9 L445.4,199.9 L447.4,201.0 L449.4,202.1 L451.4,203.2 L453.4,204.2 L455.4,205.3 L457.4,206.4 L459.4,207.5 L461.4,208.5 L463.4,209.6 L465.4,210.7 L467.4,211.7 L469.4,212.8 L471.4,213.9 L473.4,214.9 L475.4,216.0 L477.4,217.1 L479.4,218.1 L481.4,219.2 L483.4,220.3 L485.4,221.3 L487.4,222.4 L489.4,223.4 L491.4,224.5 L493.4,225.5 L495.4,226.6 L497.4,227.6 L499.4,228.7 L501.4,229.7 L503.4,230.8 L505.4,231.8 L507.4,232.9 L509.4,233.9 L511.4,235.0 L513.4,236.0 L515.4,237.0 L517.4,238.1 L519.4,239.1 L521.4,240.2 L523.4,241.2 L525.4,242.2 L527.4,243.3 L529.4,244.3 L531.4,245.3 L533.4,246.4 L535.4,247.4 L537.4,248.4 L539.4,249.5 L541.4,250.5 L543.4,251.5 L545.4,252.5 L547.4,253.6 L549.4,254.6 L551.4,255.6 L553.4,256.6 L555.4,257.6 L557.4,258.6 L559.4,259.7 L561.4,260.7 L563.4,261.7 L565.4,262.7 L567.4,263.7 L569.4,264.7 L571.3,265.7 L573.3,266.8 L575.3,267.8 L577.3,268.8 L579.3,269.8 L581.3,270.8 L583.3,271.8 L585.3,272.8 L587.3,273.8 L589.3,274.8 L591.3,275.8 L593.3,276.8 L595.3,277.8 L597.3,278.8 L599.3,279.8 L601.3,280.8 L603.3,281.8 L605.3,282.7 L607.3,283.7 L609.3,284.7 L611.3,285.7 L613.3,286.7 L615.3,287.7 L617.3,288.7 L619.3,289.7 L621.3,290.6 L623.3,291.6 L625.3,292.6 L627.3,293.6 L629.3,294.6 L631.3,295.5 L633.3,296.5 L635.3,297.5 L637.3,298.5 L639.3,299.4 L641.3,300.4 L643.3,301.4 L645.3,302.4 L647.3,303.3 L649.3,304.3 L651.3,305.3 L653.3,306.2 L655.3,307.2 L657.3,308.2 L659.3,309.1 L661.3,310.1 L663.3,311.0 L665.3,312.0 L667.3,313.0 L669.3,313.9 L671.3,314.9 L673.3,315.8 L675.3,316.8 L677.3,317.7 L679.3,318.7 L681.3,319.6 L683.3,320.6 L685.3,321.5 L687.3,322.5 L689.3,323.4 L691.3,324.4 L693.3,325.3 L695.3,326.3 L697.3,327.2 L699.3,328.2 L701.3,329.1 L703.3,330.0 L705.3,331.0 L707.3,331.9 L709.3,332.9 L711.3,333.8 L713.3,334.7 L715.3,335.7 L717.3,336.6 L719.3,337.5 L721.3,338.5 L723.3,339.4 L725.3,340.3 L727.3,341.3 L729.3,342.2 L731.3,343.1 L733.3,344.0 L735.3,345.0 L737.2,345.9 L739.2,346.8 L741.2,347.7 L743.2,348.6 L745.2,349.6 L747.2,350.5 L749.2,351.4 L751.2,352.3 L753.2,353.2 L755.2,354.1 L757.2,355.1 L759.2,356.0 L761.2,356.9 L763.2,357.8 L765.2,358.7 L767.2,359.6 L769.2,360.5 L771.2,361.4 L773.2,362.3 L775.2,363.2 L777.2,364.1 L779.2,365.0 L781.2,365.9 L783.2,366.8 L785.2,367.7 L787.2,368.6 L789.2,369.5 L791.2,370.4 L793.2,371.3 L795.2,372.2 L797.2,373.1 L799.2,374.0 L801.2,374.9 L803.2,375.8 L805.2,376.7 L807.2,377.6 L809.2,378.5 L811.2,379.4 L813.2,380.2 L815.2,381.1 L817.2,382.0 L819.2,382.9 L821.2,383.8 L823.2,384.7 L825.2,385.5 L827.2,386.4 L829.2,387.3 L831.2,388.2 L833.2,389.0 L835.2,389.9 L837.2,390.8 L839.2,391.7 L841.2,392.5 L843.2,393.4 L845.2,394.3 L847.2,395.2 L849.2,396.0 L851.2,396.9 L853.2,397.8 L855.2,398.6 L857.2,399.5 L859.2,400.4 L861.2,401.2 L863.2,402.1 L865.2,402.9 L867.2,403.8 L869.2,404.7 L871.2,405.5 L873.2,406.4 L875.2,407.2 L877.2,408.1 L879.2,409.0 L881.2,409.8 L883.2,410.7 L885.2,411.5 L887.2,412.4 L889.2,413.2 L891.2,414.1 L893.2,414.9 L895.2,415.8 L897.2,416.6 L899.2,417.5 L901.2,418.3 L903.1,419.1 L905.1,420.0 L907.1,420.8 L909.1,421.7 L911.1,422.5 L913.1,423.4 L915.1,424.2 L917.1,425.0 L919.1,425.9 L921.1,426.7 L923.1,427.5 L925.1,428.4 L927.1,429.2 L929.1,430.0 L931.1,430.9 L933.1,431.7 L935.1,432.5 L937.1,433.4 L939.1,434.2 L941.1,435.0 L943.1,435.8 L945.1,436.7 L947.1,437.5 L949.1,438.3 L951.1,439.1 L953.1,440.0 L955.1,440.8 L957.1,441.6 L959.1,442.4 L961.1,443.2 L963.1,444.1 L965.1,444.9 L967.1,445.7 L969.1,446.5 L971.1,447.3 L973.1,448.1 L975.1,448.9 L977.1,449.7 L979.1,450.6 L981.1,451.4 L983.1,452.2 L985.1,453.0 L987.1,453.8 L989.1,454.6 L991.1,455.4 L993.1,456.2 L995.1,457.0 L997.1,457.8 L999.1,458.6 L1001.1,459.4 L1003.1,460.2 L1005.1,461.0 L1007.1,461.8 L1009.1,462.6 L1011.1,463.4 L1013.1,464.2 L1015.1,465.0 L1017.1,465.8 L1019.1,466.6 L1021.1,467.4 L1023.1,468.2 L1025.1,469.0 L1027.1,469.7 L1029.1,470.5 L1031.1,471.3 L1033.1,472.1 L1035.1,472.9 L1037.1,473.7 L1039.1,474.5 L1041.1,475.2 L1043.1,476.0 L1045.1,476.8 L1047.1,477.6 L1049.1,478.4 L1051.1,479.2 L1053.1,479.9 L1055.1,480.7 L1057.1,481.5 L1059.1,482.3 L1061.1,483.0 L1063.1,483.8 L1065.1,484.6 L1067.1,485.4 L1069.0,486.1 L1071.0,486.9 L1073.0,487.7 L1075.0,488.4 L1077.0,489.2 L1079.0,490.0 L1081.0,490.7 L1083.0,491.5 L1085.0,492.3 L1087.0,493.0 L1089.0,493.8 L1091.0,494.6 L1093.0,495.3 L1095.0,496.1 L1097.0,496.8 L1099.0,497.6 L1101.0,498.4 L1103.0,499.1 L1105.0,499.9 L1107.0,500.6 L1109.0,501.4 L1111.0,502.1 L1113.0,502.9 L1115.0,503.7 L1117.0,504.4 L1119.0,505.2 L1121.0,505.9 L1123.0,506.7 L1125.0,507.4 L1127.0,508.2 L1129.0,508.9 L1131.0,509.6 L1133.0,510.4 L1135.0,511.1 L1137.0,511.9 L1139.0,512.6 L1141.0,513.4 L1143.0,514.1 L1145.0,514.9 L1147.0,515.6 L1149.0,516.3 L1151.0,517.1 L1153.0,517.8 L1155.0,518.5 L1157.0,519.3 L1159.0,520.0 L1161.0,520.7 L1163.0,521.5 L1165.0,522.2 L1167.0,522.9 L1169.0,523.7 L1171.0,524.4 L1173.0,525.1 L1175.0,525.9 L1177.0,526.6 L1179.0,527.3 L1181.0,528.0 L1183.0,528.8 L1185.0,529.5 L1187.0,530.2 L1189.0,530.9 L1191.0,531.7 L1193.0,532.4 L1195.0,533.1 L1197.0,533.8 L1199.0,534.6 L1201.0,535.3 L1203.0,536.0 L1205.0,536.7 L1207.0,537.4 L1209.0,538.1 L1211.0,538.9 L1213.0,539.6 L1215.0,540.3 L1217.0,541.0 L1219.0,541.7 L1221.0,542.4 L1223.0,543.1 L1225.0,543.8 L1227.0,544.5 L1229.0,545.3 L1231.0,546.0 L1233.0,546.7 L1235.0,547.4 L1236.9,548.1 L1238.9,548.8 L1240.9,549.5 L1242.9,550.2 L1244.9,550.9 L1246.9,551.6 L1248.9,552.3 L1250.9,553.0 L1252.9,553.7 L1254.9,554.4 L1256.9,555.1 L1258.9,555.8 L1260.9,556.5 L1262.9,557.2 L1264.9,557.9 L1266.9,558.6 L1268.9,559.3 L1270.9,559.9 L1272.9,560.6 L1274.9,561.3 L1276.9,562.0 L1278.9,562.7 L1280.9,563.4 L1282.9,564.1 L1284.9,564.8 L1286.9,565.5 L1288.9,566.1 L1290.9,566.8 L1292.9,567.5 L1294.9,568.2 L1296.9,568.9 L1298.9,569.6 L1300.9,570.2 L1302.9,570.9 L1304.9,571.6 L1306.9,572.3 L1308.9,573.0 L1310.9,573.6 L1312.9,574.3 L1314.9,575.0 L1316.9,575.7 L1318.9,576.3 L1320.9,577.0 L1322.9,577.7 L1324.9,578.3 L1326.9,579.0 L1328.9,579.7 L1330.9,580.4 L1332.9,581.0 L1334.9,581.7 L1336.9,582.4 L1338.9,583.0 L1340.9,583.7 L1342.9,584.4 L1344.9,585.0 L1346.9,585.7 L1348.9,586.4 L1350.9,587.0 L1352.9,587.7 L1354.9,588.3 L1356.9,589.0 L1358.9,589.7 L1360.9,590.3 L1362.9,591.0 L1364.9,591.6 L1366.9,592.3 L1368.9,593.0 L1370.9,593.6 L1372.9,594.3 L1374.9,594.9 L1376.9,595.6 L1378.9,596.2 L1380.9,596.9 L1382.9,597.5 L1384.9,598.2 L1386.9,598.8 L1388.9,599.5 L1390.9,600.1 L1392.9,600.8 L1394.9,601.4 L1396.9,602.1 L1398.9,602.7 L1400.9,603.4 L1402.8,604.0 L1404.8,604.7 L1406.8,605.3 L1408.8,605.9 L1410.8,606.6 L1412.8,607.2 L1414.8,607.9 L1416.8,608.5 L1418.8,609.1 L1420.8,609.8 L1422.8,610.4 L1424.8,611.0 L1426.8,611.7 L1428.8,612.3 L1430.8,613.0 L1432.8,613.6 L1434.8,614.2 L1436.8,614.9 L1438.8,615.5 L1440.8,616.1 L1442.8,616.8 L1444.8,617.4 L1446.8,618.0 L1448.8,618.6 L1450.8,619.3 L1452.8,619.9 L1454.8,620.5 L1456.8,621.1 L1458.8,621.8 L1460.8,622.4 L1462.8,623.0 L1464.8,623.6 L1466.8,624.3 L1468.8,624.9 L1470.8,625.5 L1472.8,626.1 L1474.8,626.7 L1476.8,627.4 L1478.8,628.0 L1480.8,628.6 L1482.8,629.2 L1484.8,629.8 L1486.8,630.5 L1488.8,631.1 L1490.8,631.7 L1492.8,632.3 L1494.8,632.9 L1496.8,633.5 L1498.8,634.1 L1500.8,634.7 L1502.8,635.4 L1504.8,636.0 L1506.8,636.6 L1508.8,637.2 L1510.8,637.8 L1512.8,638.4 L1514.8,639.0 L1516.8,639.6 L1518.8,640.2 L1520.8,640.8 L1522.8,641.4 L1524.8,642.0 L1526.8,642.6 L1528.8,643.2 L1530.8,643.8 L1532.8,644.4 L1534.8,645.0 L1536.8,645.6 L1538.8,646.2 L1540.8,646.8 L1542.8,647.4 L1544.8,648.0 L1546.8,648.6 L1548.8,649.2 L1550.8,649.8 L1552.8,650.4 L1554.8,651.0 L1556.8,651.6 L1558.8,652.2 L1560.8,652.8 L1562.8,653.4 L1564.8,654.0 L1566.8,654.6 L1568.8,655.1 L1570.7,655.7 L1572.7,656.3 L1574.7,656.9 L1576.7,657.5 L1578.7,658.1 L1580.7,658.7 L1582.7,659.2 L1584.7,659.8 L1586.7,660.4 L1588.7,661.0 L1590.7,661.6 L1592.7,662.2 L1594.7,662.7 L1596.7,663.3 L1598.7,663.9 L1600.7,664.5 L1602.7,665.1 L1604.7,665.6 L1606.7,666.2 L1608.7,666.8 L1610.7,667.4 L1612.7,667.9 L1614.7,668.5 L1616.7,669.1 L1618.7,669.7 L1620.7,670.2 L1622.7,670.8 L1624.7,671.4 L1626.7,672.0 L1628.7,672.5 L1630.7,673.1 L1632.7,673.7 L1634.7,674.2 L1636.7,674.8 L1638.7,675.4 L1640.7,675.9 L1642.7,676.5 L1644.7,677.1 L1646.7,677.6 L1648.7,678.2 L1650.7,678.8 L1652.7,679.3 L1654.7,679.9 L1656.7,680.4 L1658.7,681.0 L1660.7,681.6 L1662.7,682.1 L1664.7,682.7 L1666.7,683.2 L1668.7,683.8 L1670.7,684.4 L1672.7,684.9 L1674.7,685.5 L1676.7,686.0 L1678.7,686.6 L1680.7,687.1 L1682.7,687.7 L1684.7,688.2 L1686.7,688.8 L1688.7,689.4 L1690.7,689.9 L1692.7,690.5 L1694.7,691.0 L1696.7,691.6 L1698.7,692.1 L1700.7,692.7 L1702.7,693.2 L1704.7,693.7 L1706.7,694.3 L1708.7,694.8 L1710.7,695.4 L1712.7,695.9 L1714.7,696.5 L1716.7,697.0 L1718.7,697.6 L1720.7,698.1 L1722.7,698.7 L1724.7,699.2 L1726.7,699.7 L1728.7,700.3 L1730.7,700.8 L1732.7,701.4 L1734.7,701.9 L1736.6,702.4 L1738.6,703.0 L1740.6,703.5 L1742.6,704.0 L1744.6,704.6 L1746.6,705.1 L1748.6,705.6 L1750.6,706.2 L1752.6,706.7 L1754.6,707.2 L1756.6,707.8 L1758.6,708.3 L1760.6,708.8 L1762.6,709.4 L1764.6,709.9 L1766.6,710.4 L1768.6,711.0 L1770.6,711.5 L1772.6,712.0 L1774.6,712.5 L1776.6,713.1 L1778.6,713.6 L1780.6,714.1 L1782.6,714.6 L1784.6,715.2 L1786.6,715.7 L1788.6,716.2 L1790.6,716.7 L1792.6,717.3 L1794.6,717.8 L1796.6,718.3 L1798.6,718.8 L1800.6,719.3 L1802.6,719.9 L1804.6,720.4 L1806.6,720.9 L1808.6,721.4 L1810.6,721.9 L1812.6,722.5 L1814.6,723.0 L1816.6,723.5 L1818.6,724.0 L1822.6,724.0" stroke="#f59a00" stroke-width="5.0"/>
<path d="M319.5,172.0 L321.5,171.6 L323.5,171.1 L325.5,170.5 L327.5,169.9 L329.5,169.3 L331.5,168.6 L333.5,168.0 L335.5,167.3 L337.5,166.7 L339.5,166.1 L341.5,165.6 L343.5,165.1 L345.5,164.7 L347.5,164.4 L349.5,164.2 L351.5,164.0 L353.5,163.9 L355.5,163.8 L357.5,163.8 L359.5,163.8 L361.5,163.8 L363.5,163.8 L365.5,163.8 L367.5,163.8 L369.5,163.8 L371.5,164.0 L373.5,164.2 L375.5,164.5 L377.5,164.9 L379.5,165.5 L381.5,166.2 L383.5,167.0 L385.5,167.9 L387.5,168.9 L389.5,169.9 L391.5,171.0 L393.5,172.1 L395.5,173.3 L397.5,174.5 L399.5,175.9 L401.5,177.4 L403.4,179.1 L405.4,180.8 L407.4,182.6 L409.4,184.5 L411.4,186.5 L413.4,188.5 L415.4,190.5 L417.4,192.6 L419.4,194.6 L421.4,196.6 L423.4,198.6 L425.4,200.5 L427.4,202.5 L429.4,204.5 L431.4,206.5 L433.4,208.5 L435.4,210.4 L437.4,212.4 L439.4,214.4 L441.4,216.3 L443.4,218.3 L445.4,220.2 L447.4,222.2 L449.4,224.1 L451.4,226.1 L453.4,228.0 L455.4,230.0 L457.4,231.9 L459.4,233.8 L461.4,235.7 L463.4,237.6 L465.4,239.6 L467.4,241.5 L469.4,243.4 L471.4,245.3 L473.4,247.2 L475.4,249.1 L477.4,251.0 L479.4,252.9 L481.4,254.7 L483.4,256.6 L485.4,258.5 L487.4,260.4 L489.4,262.2 L491.4,264.1 L493.4,266.0 L495.4,267.8 L497.4,269.7 L499.4,271.5 L501.4,273.4 L503.4,275.2 L505.4,277.1 L507.4,278.9 L509.4,280.7 L511.4,282.6 L513.4,284.4 L515.4,286.2 L517.4,288.0 L519.4,289.8 L521.4,291.6 L523.4,293.5 L525.4,295.3 L527.4,297.1 L529.4,298.9 L531.4,300.6 L533.4,302.4 L535.4,304.2 L537.4,306.0 L539.4,307.8 L541.4,309.6 L543.4,311.3 L545.4,313.1 L547.4,314.9 L549.4,316.6 L551.4,318.4 L553.4,320.1 L555.4,321.9 L557.4,323.6 L559.4,325.4 L561.4,327.1 L563.4,328.9 L565.4,330.6 L567.4,332.3 L569.4,334.1 L571.3,335.8 L573.3,337.5 L575.3,339.3 L577.3,341.0 L579.3,342.8 L581.3,344.5 L583.3,346.2 L585.3,348.0 L587.3,349.7 L589.3,351.4 L591.3,353.1 L593.3,354.8 L595.3,356.5 L597.3,358.3 L599.3,360.0 L601.3,361.7 L603.3,363.4 L605.3,365.0 L607.3,366.7 L609.3,368.4 L611.3,370.1 L613.3,371.8 L615.3,373.5 L617.3,375.1 L619.3,376.8 L621.3,378.5 L623.3,380.1 L625.3,381.8 L627.3,383.4 L629.3,385.1 L631.3,386.7 L633.3,388.4 L635.3,390.0 L637.3,391.7 L639.3,393.3 L641.3,394.9 L643.3,396.6 L645.3,398.2 L647.3,399.8 L649.3,401.4 L651.3,403.1 L653.3,404.7 L655.3,406.3 L657.3,407.9 L659.3,409.5 L661.3,411.1 L663.3,412.7 L665.3,414.3 L667.3,415.9 L669.3,417.5 L671.3,419.0 L673.3,420.6 L675.3,422.2 L677.3,423.8 L679.3,425.3 L681.3,426.9 L683.3,428.5 L685.3,430.0 L687.3,431.6 L689.3,433.1 L691.3,434.7 L693.3,436.2 L695.3,437.8 L697.3,439.3 L699.3,440.9 L701.3,442.4 L703.3,443.9 L705.3,445.5 L707.3,447.0 L709.3,448.5 L711.3,450.0 L713.3,451.6 L715.3,453.1 L717.3,454.6 L719.3,456.1 L721.3,457.6 L723.3,459.1 L725.3,460.6 L727.3,462.1 L729.3,463.6 L731.3,465.1 L733.3,466.6 L735.3,468.1 L737.2,469.5 L739.2,471.0 L741.2,472.5 L743.2,474.0 L745.2,475.4 L747.2,476.9 L749.2,478.4 L751.2,479.8 L753.2,481.3 L755.2,482.7 L757.2,484.2 L759.2,485.6 L761.2,487.1 L763.2,488.5 L765.2,490.0 L767.2,491.4 L769.2,492.8 L771.2,494.3 L773.2,495.7 L775.2,497.1 L777.2,498.5 L779.2,500.0 L781.2,501.4 L783.2,502.8 L785.2,504.2 L787.2,505.6 L789.2,507.0 L791.2,508.4 L793.2,509.8 L795.2,511.2 L797.2,512.6 L799.2,514.0 L801.2,515.4 L803.2,516.8 L805.2,518.2 L807.2,519.5 L809.2,520.9 L811.2,522.3 L813.2,523.7 L815.2,525.0 L817.2,526.4 L819.2,527.8 L821.2,529.1 L823.2,530.5 L825.2,531.9 L827.2,533.2 L829.2,534.6 L831.2,535.9 L833.2,537.3 L835.2,538.7 L837.2,540.0 L839.2,541.3 L841.2,542.7 L843.2,544.0 L845.2,545.4 L847.2,546.7 L849.2,548.0 L851.2,549.4 L853.2,550.7 L855.2,552.0 L857.2,553.3 L859.2,554.7 L861.2,556.0 L863.2,557.3 L865.2,558.6 L867.2,559.9 L869.2,561.2 L871.2,562.5 L873.2,563.8 L875.2,565.1 L877.2,566.4 L879.2,567.7 L881.2,569.0 L883.2,570.3 L885.2,571.6 L887.2,572.8 L889.2,574.1 L891.2,575.4 L893.2,576.7 L895.2,577.9 L897.2,579.2 L899.2,580.5 L901.2,581.7 L903.1,583.0 L905.1,584.3 L907.1,585.5 L909.1,586.8 L911.1,588.0 L913.1,589.3 L915.1,590.5 L917.1,591.8 L919.1,593.0 L921.1,594.2 L923.1,595.5 L925.1,596.7 L927.1,597.9 L929.1,599.2 L931.1,600.4 L933.1,601.6 L935.1,602.8 L937.1,604.0 L939.1,605.3 L941.1,606.5 L943.1,607.7 L945.1,608.9 L947.1,610.1 L949.1,611.3 L951.1,612.5 L953.1,613.7 L955.1,614.9 L957.1,616.1 L959.1,617.3 L961.1,618.5 L963.1,619.6 L965.1,620.8 L967.1,622.0 L969.1,623.2 L971.1,624.4 L973.1,625.5 L975.1,626.7 L977.1,627.9 L979.1,629.0 L981.1,630.2 L983.1,631.4 L985.1,632.5 L987.1,633.7 L989.1,634.8 L991.1,636.0 L993.1,637.2 L995.1,638.3 L997.1,639.4 L999.1,640.6 L1001.1,641.7 L1003.1,642.9 L1005.1,644.0 L1007.1,645.1 L1009.1,646.3 L1011.1,647.4 L1013.1,648.5 L1015.1,649.6 L1017.1,650.8 L1019.1,651.9 L1021.1,653.0 L1023.1,654.1 L1025.1,655.2 L1027.1,656.3 L1029.1,657.5 L1031.1,658.6 L1033.1,659.7 L1035.1,660.8 L1037.1,661.9 L1039.1,663.0 L1041.1,664.1 L1043.1,665.2 L1045.1,666.2 L1047.1,667.3 L1049.1,668.4 L1051.1,669.5 L1053.1,670.6 L1055.1,671.7 L1057.1,672.7 L1059.1,673.8 L1061.1,674.9 L1063.1,676.0 L1065.1,677.0 L1067.1,678.1 L1069.0,679.2 L1071.0,680.2 L1073.0,681.3 L1075.0,682.3 L1077.0,683.4 L1079.0,684.5 L1081.0,685.5 L1083.0,686.6 L1085.0,687.6 L1087.0,688.6 L1089.0,689.7 L1091.0,690.7 L1093.0,691.8 L1095.0,692.8 L1097.0,693.8 L1099.0,694.9 L1101.0,695.9 L1103.0,696.9 L1105.0,698.0 L1107.0,699.0 L1109.0,700.0 L1111.0,701.0 L1113.0,702.0 L1115.0,703.1 L1117.0,704.1 L1119.0,705.1 L1121.0,706.1 L1123.0,707.1 L1125.0,708.1 L1127.0,709.2 L1129.0,710.2 L1131.0,711.2 L1133.0,712.2 L1135.0,713.2 L1137.0,714.2 L1139.0,715.2 L1141.0,716.2 L1143.0,717.2 L1145.0,718.2 L1147.0,719.2 L1149.0,720.2 L1151.0,721.2 L1153.0,722.2 L1155.0,723.1 L1157.0,724.1 L1159.0,725.1 L1161.0,726.1 L1163.0,727.1 L1165.0,728.0 L1167.0,729.0 L1169.0,730.0 L1171.0,731.0 L1173.0,731.9 L1175.0,732.9 L1177.0,733.9 L1179.0,734.8 L1181.0,735.8 L1183.0,736.7 L1185.0,737.7 L1187.0,738.6 L1189.0,739.6 L1191.0,740.6 L1193.0,741.5 L1195.0,742.4 L1197.0,743.4 L1199.0,744.3 L1201.0,745.3 L1203.0,746.2 L1205.0,747.1 L1207.0,748.1 L1209.0,749.0 L1211.0,749.9 L1213.0,750.9 L1215.0,751.8 L1217.0,752.7 L1219.0,753.6 L1221.0,754.6 L1223.0,755.5 L1225.0,756.4 L1227.0,757.3 L1229.0,758.2 L1231.0,759.1 L1233.0,760.1 L1235.0,761.0 L1236.9,761.9 L1238.9,762.8 L1240.9,763.7 L1242.9,764.6 L1244.9,765.5 L1246.9,766.4 L1248.9,767.3 L1250.9,768.2 L1252.9,769.1 L1254.9,769.9 L1256.9,770.8 L1258.9,771.7 L1260.9,772.6 L1262.9,773.5 L1264.9,774.4 L1266.9,775.2 L1268.9,776.1 L1270.9,777.0 L1272.9,777.9 L1274.9,778.7 L1276.9,779.6 L1278.9,780.5 L1280.9,781.3 L1282.9,782.2 L1284.9,783.1 L1286.9,783.9 L1288.9,784.8 L1290.9,785.6 L1292.9,786.5 L1294.9,787.3 L1296.9,788.2 L1298.9,789.1 L1300.9,789.9 L1302.9,790.7 L1304.9,791.6 L1306.9,792.4 L1308.9,793.3 L1310.9,794.1 L1312.9,795.0 L1314.9,795.8 L1316.9,796.7 L1318.9,797.5 L1320.9,798.4 L1322.9,799.2 L1324.9,800.1 L1326.9,800.9 L1328.9,801.8 L1330.9,802.7 L1332.9,803.5 L1334.9,804.4 L1336.9,805.3 L1338.9,806.1 L1340.9,807.0 L1342.9,807.8 L1344.9,808.7 L1346.9,809.5 L1348.9,810.4 L1350.9,811.2 L1352.9,812.1 L1354.9,812.9 L1356.9,813.8 L1358.9,814.6 L1360.9,815.4 L1362.9,816.3 L1364.9,817.1 L1366.9,817.9 L1368.9,818.8 L1370.9,819.6 L1372.9,820.4 L1374.9,821.2 L1376.9,822.1 L1378.9,822.9 L1380.9,823.7 L1382.9,824.5 L1384.9,825.3 L1386.9,826.2 L1388.9,827.0 L1390.9,827.8 L1392.9,828.6 L1394.9,829.4 L1396.9,830.2 L1398.9,831.0 L1400.9,831.8 L1402.8,832.6 L1404.8,833.4 L1406.8,834.2 L1408.8,835.0 L1410.8,835.8 L1412.8,836.6 L1414.8,837.4 L1416.8,838.2 L1418.8,838.9 L1420.8,839.7 L1422.8,840.5 L1424.8,841.3 L1426.8,842.1 L1428.8,842.8 L1430.8,843.6 L1432.8,844.4 L1434.8,845.2 L1436.8,845.9 L1438.8,846.7 L1440.8,847.5 L1442.8,848.2 L1444.8,849.0 L1446.8,849.8 L1448.8,850.5 L1450.8,851.3 L1452.8,852.0 L1454.8,852.8 L1456.8,853.6 L1458.8,854.3 L1460.8,855.1 L1462.8,855.8 L1464.8,856.6 L1466.8,857.3 L1468.8,858.1 L1470.8,858.8 L1472.8,859.5 L1474.8,860.3 L1476.8,861.0 L1478.8,861.8 L1480.8,862.5 L1482.8,863.2 L1484.8,864.0 L1486.8,864.7 L1488.8,865.4 L1490.8,866.1 L1492.8,866.9 L1494.8,867.6 L1496.8,868.3 L1498.8,869.0 L1500.8,869.7 L1502.8,870.5 L1504.8,871.2 L1506.8,871.9 L1508.8,872.6 L1510.8,873.3 L1512.8,874.0 L1514.8,874.7 L1516.8,875.4 L1518.8,876.1 L1520.8,876.8 L1522.8,877.5 L1524.8,878.2 L1526.8,878.8 L1528.8,879.5 L1530.8,880.2 L1532.8,880.8 L1534.8,881.5 L1536.8,882.2 L1538.8,882.8 L1540.8,883.5 L1542.8,884.1 L1544.8,884.8 L1546.8,885.4 L1548.8,886.1 L1550.8,886.7 L1552.8,887.4 L1554.8,888.0 L1556.8,888.7 L1558.8,889.3 L1560.8,890.0 L1562.8,890.6 L1564.8,891.3 L1566.8,891.9 L1568.8,892.5 L1570.7,893.2 L1572.7,893.8 L1574.7,894.5 L1576.7,895.1 L1578.7,895.7 L1580.7,896.4 L1582.7,897.0 L1584.7,897.6 L1586.7,898.2 L1588.7,898.9 L1590.7,899.5 L1592.7,900.1 L1594.7,900.7 L1596.7,901.4 L1598.7,902.0 L1600.7,902.6 L1602.7,903.2 L1604.7,903.8 L1606.7,904.5 L1608.7,905.1 L1610.7,905.7 L1612.7,906.3 L1614.7,906.9 L1616.7,907.5 L1618.7,908.1 L1620.7,908.7 L1622.7,909.3 L1624.7,909.9 L1626.7,910.5 L1628.7,911.1 L1630.7,911.7 L1632.7,912.3 L1634.7,912.9 L1636.7,913.5 L1638.7,914.1 L1640.7,914.7 L1642.7,915.3 L1644.7,915.9 L1646.7,916.5 L1648.7,917.1 L1650.7,917.7 L1652.7,918.2 L1654.7,918.8 L1656.7,919.4 L1658.7,920.0 L1660.7,920.6 L1662.7,921.2 L1664.7,921.7 L1666.7,922.3 L1668.7,922.9 L1670.7,923.5 L1672.7,924.0 L1674.7,924.6 L1676.7,925.2 L1678.7,925.8 L1680.7,926.3 L1682.7,926.9 L1684.7,927.5 L1686.7,928.0 L1688.7,928.6 L1690.7,929.2 L1692.7,929.7 L1694.7,930.3 L1696.7,930.8 L1698.7,931.4 L1700.7,932.0 L1702.7,932.5 L1704.7,933.1 L1706.7,933.6 L1708.7,934.2 L1710.7,934.7 L1712.7,935.3 L1714.7,935.8 L1716.7,936.4 L1718.7,936.9 L1720.7,937.5 L1722.7,938.0 L1724.7,938.6 L1726.7,939.1 L1728.7,939.6 L1730.7,940.2 L1732.7,940.7 L1734.7,941.3 L1736.6,941.8 L1738.6,942.3 L1740.6,942.9 L1742.6,943.4 L1744.6,943.9 L1746.6,944.5 L1748.6,945.0 L1750.6,945.5 L1752.6,946.1 L1754.6,946.6 L1756.6,947.1 L1758.6,947.6 L1760.6,948.2 L1762.6,948.7 L1764.6,949.2 L1766.6,949.7 L1768.6,950.2 L1770.6,950.8 L1772.6,951.3 L1774.6,951.8 L1776.6,952.3 L1778.6,952.8 L1780.6,953.3 L1782.6,953.9 L1784.6,954.4 L1786.6,954.9 L1788.6,955.4 L1790.6,955.9 L1792.6,956.4 L1794.6,956.9 L1796.6,957.4 L1798.6,957.9 L1800.6,958.4 L1802.6,958.9 L1804.6,959.4 L1806.6,959.9 L1808.6,960.4 L1810.6,960.9 L1812.6,961.4 L1814.6,961.9 L1816.6,962.4 L1818.6,962.9 L1822.6,962.9" stroke="#00d6da" stroke-width="5.8"/>
<path d="M319.5,172.0 L321.5,171.9 L323.5,171.8 L325.5,171.7 L327.5,171.5 L329.5,171.3 L331.5,171.2 L333.5,171.0 L335.5,170.8 L337.5,170.6 L339.5,170.5 L341.5,170.3 L343.5,170.2 L345.5,170.1 L347.5,170.0 L349.5,170.0 L351.5,170.0 L353.5,169.9 L355.5,169.9 L357.5,169.9 L359.5,169.9 L361.5,169.9 L363.5,169.9 L365.5,169.9 L367.5,169.9 L369.5,169.9 L371.5,169.9 L373.5,169.9 L375.5,170.0 L377.5,170.1 L379.5,170.2 L381.5,170.4 L383.5,170.7 L385.5,171.0 L387.5,171.3 L389.5,171.5 L391.5,171.8 L393.5,172.0 L395.5,172.3 L397.5,172.6 L399.5,172.9 L401.5,173.2 L403.4,173.6 L405.4,174.0 L407.4,174.3 L409.4,174.7 L411.4,175.0 L413.4,175.4 L415.4,175.7 L417.4,176.1 L419.4,176.4 L421.4,176.8 L423.4,177.2 L425.4,177.5 L427.4,177.9 L429.4,178.2 L431.4,178.6 L433.4,178.9 L435.4,179.3 L437.4,179.6 L439.4,180.0 L441.4,180.3 L443.4,180.7 L445.4,181.0 L447.4,181.4 L449.4,181.7 L451.4,182.1 L453.4,182.5 L455.4,182.8 L457.4,183.2 L459.4,183.5 L461.4,183.9 L463.4,184.2 L465.4,184.6 L467.4,184.9 L469.4,185.3 L471.4,185.6 L473.4,186.0 L475.4,186.3 L477.4,186.7 L479.4,187.0 L481.4,187.4 L483.4,187.7 L485.4,188.1 L487.4,188.4 L489.4,188.8 L491.4,189.1 L493.4,189.5 L495.4,189.8 L497.4,190.2 L499.4,190.5 L501.4,190.9 L503.4,191.2 L505.4,191.6 L507.4,191.9 L509.4,192.3 L511.4,192.6 L513.4,193.0 L515.4,193.3 L517.4,193.7 L519.4,194.0 L521.4,194.4 L523.4,194.7 L525.4,195.1 L527.4,195.4 L529.4,195.8 L531.4,196.1 L533.4,196.5 L535.4,196.8 L537.4,197.2 L539.4,197.5 L541.4,197.9 L543.4,198.2 L545.4,198.5 L547.4,198.9 L549.4,199.2 L551.4,199.6 L553.4,199.9 L555.4,200.3 L557.4,200.6 L559.4,201.0 L561.4,201.3 L563.4,201.7 L565.4,202.0 L567.4,202.4 L569.4,202.7 L571.3,203.0 L573.3,203.4 L575.3,203.7 L577.3,204.1 L579.3,204.4 L581.3,204.8 L583.3,205.1 L585.3,205.5 L587.3,205.8 L589.3,206.2 L591.3,206.5 L593.3,206.8 L595.3,207.2 L597.3,207.5 L599.3,207.9 L601.3,208.2 L603.3,208.6 L605.3,208.9 L607.3,209.2 L609.3,209.6 L611.3,209.9 L613.3,210.3 L615.3,210.6 L617.3,211.0 L619.3,211.3 L621.3,211.6 L623.3,212.0 L625.3,212.3 L627.3,212.7 L629.3,213.0 L631.3,213.4 L633.3,213.7 L635.3,214.0 L637.3,214.4 L639.3,214.7 L641.3,215.1 L643.3,215.4 L645.3,215.7 L647.3,216.1 L649.3,216.4 L651.3,216.8 L653.3,217.1 L655.3,217.5 L657.3,217.8 L659.3,218.1 L661.3,218.5 L663.3,218.8 L665.3,219.2 L667.3,219.5 L669.3,219.8 L671.3,220.2 L673.3,220.5 L675.3,220.9 L677.3,221.2 L679.3,221.5 L681.3,221.9 L683.3,222.2 L685.3,222.5 L687.3,222.9 L689.3,223.2 L691.3,223.6 L693.3,223.9 L695.3,224.2 L697.3,224.6 L699.3,224.9 L701.3,225.3 L703.3,225.6 L705.3,225.9 L707.3,226.3 L709.3,226.6 L711.3,226.9 L713.3,227.3 L715.3,227.6 L717.3,228.0 L719.3,228.3 L721.3,228.6 L723.3,229.0 L725.3,229.3 L727.3,229.6 L729.3,230.0 L731.3,230.3 L733.3,230.6 L735.3,231.0 L737.2,231.3 L739.2,231.7 L741.2,232.0 L743.2,232.3 L745.2,232.7 L747.2,233.0 L749.2,233.3 L751.2,233.7 L753.2,234.0 L755.2,234.3 L757.2,234.7 L759.2,235.0 L761.2,235.3 L763.2,235.7 L765.2,236.0 L767.2,236.3 L769.2,236.7 L771.2,237.0 L773.2,237.3 L775.2,237.7 L777.2,238.0 L779.2,238.3 L781.2,238.7 L783.2,239.0 L785.2,239.3 L787.2,239.7 L789.2,240.0 L791.2,240.3 L793.2,240.7 L795.2,241.0 L797.2,241.3 L799.2,241.7 L801.2,242.0 L803.2,242.3 L805.2,242.7 L807.2,243.0 L809.2,243.3 L811.2,243.7 L813.2,244.0 L815.2,244.3 L817.2,244.7 L819.2,245.0 L821.2,245.3 L823.2,245.6 L825.2,246.0 L827.2,246.3 L829.2,246.6 L831.2,247.0 L833.2,247.3 L835.2,247.6 L837.2,248.0 L839.2,248.3 L841.2,248.6 L843.2,248.9 L845.2,249.3 L847.2,249.6 L849.2,249.9 L851.2,250.3 L853.2,250.6 L855.2,250.9 L857.2,251.2 L859.2,251.6 L861.2,251.9 L863.2,252.2 L865.2,252.6 L867.2,252.9 L869.2,253.2 L871.2,253.5 L873.2,253.9 L875.2,254.2 L877.2,254.5 L879.2,254.9 L881.2,255.2 L883.2,255.5 L885.2,255.8 L887.2,256.2 L889.2,256.5 L891.2,256.8 L893.2,257.1 L895.2,257.5 L897.2,257.8 L899.2,258.1 L901.2,258.5 L903.1,258.8 L905.1,259.1 L907.1,259.4 L909.1,259.8 L911.1,260.1 L913.1,260.4 L915.1,260.7 L917.1,261.1 L919.1,261.4 L921.1,261.7 L923.1,262.0 L925.1,262.4 L927.1,262.7 L929.1,263.0 L931.1,263.3 L933.1,263.7 L935.1,264.0 L937.1,264.3 L939.1,264.6 L941.1,265.0 L943.1,265.3 L945.1,265.6 L947.1,265.9 L949.1,266.3 L951.1,266.6 L953.1,266.9 L955.1,267.2 L957.1,267.5 L959.1,267.9 L961.1,268.2 L963.1,268.5 L965.1,268.8 L967.1,269.2 L969.1,269.5 L971.1,269.8 L973.1,270.1 L975.1,270.5 L977.1,270.8 L979.1,271.1 L981.1,271.4 L983.1,271.7 L985.1,272.1 L987.1,272.4 L989.1,272.7 L991.1,273.0 L993.1,273.3 L995.1,273.7 L997.1,274.0 L999.1,274.3 L1001.1,274.6 L1003.1,274.9 L1005.1,275.3 L1007.1,275.6 L1009.1,275.9 L1011.1,276.2 L1013.1,276.6 L1015.1,276.9 L1017.1,277.2 L1019.1,277.5 L1021.1,277.8 L1023.1,278.1 L1025.1,278.5 L1027.1,278.8 L1029.1,279.1 L1031.1,279.4 L1033.1,279.7 L1035.1,280.1 L1037.1,280.4 L1039.1,280.7 L1041.1,281.0 L1043.1,281.3 L1045.1,281.7 L1047.1,282.0 L1049.1,282.3 L1051.1,282.6 L1053.1,282.9 L1055.1,283.2 L1057.1,283.6 L1059.1,283.9 L1061.1,284.2 L1063.1,284.5 L1065.1,284.8 L1067.1,285.2 L1069.0,285.5 L1071.0,285.8 L1073.0,286.1 L1075.0,286.4 L1077.0,286.7 L1079.0,287.1 L1081.0,287.4 L1083.0,287.7 L1085.0,288.0 L1087.0,288.3 L1089.0,288.6 L1091.0,288.9 L1093.0,289.3 L1095.0,289.6 L1097.0,289.9 L1099.0,290.2 L1101.0,290.5 L1103.0,290.8 L1105.0,291.2 L1107.0,291.5 L1109.0,291.8 L1111.0,292.1 L1113.0,292.4 L1115.0,292.7 L1117.0,293.0 L1119.0,293.4 L1121.0,293.7 L1123.0,294.0 L1125.0,294.3 L1127.0,294.6 L1129.0,294.9 L1131.0,295.2 L1133.0,295.6 L1135.0,295.9 L1137.0,296.2 L1139.0,296.5 L1141.0,296.8 L1143.0,297.1 L1145.0,297.4 L1147.0,297.7 L1149.0,298.1 L1151.0,298.4 L1153.0,298.7 L1155.0,299.0 L1157.0,299.3 L1159.0,299.6 L1161.0,299.9 L1163.0,300.2 L1165.0,300.6 L1167.0,300.9 L1169.0,301.2 L1171.0,301.5 L1173.0,301.8 L1175.0,302.1 L1177.0,302.4 L1179.0,302.7 L1181.0,303.0 L1183.0,303.4 L1185.0,303.7 L1187.0,304.0 L1189.0,304.3 L1191.0,304.6 L1193.0,304.9 L1195.0,305.2 L1197.0,305.5 L1199.0,305.8 L1201.0,306.1 L1203.0,306.5 L1205.0,306.8 L1207.0,307.1 L1209.0,307.4 L1211.0,307.7 L1213.0,308.0 L1215.0,308.3 L1217.0,308.6 L1219.0,308.9 L1221.0,309.2 L1223.0,309.5 L1225.0,309.9 L1227.0,310.2 L1229.0,310.5 L1231.0,310.8 L1233.0,311.1 L1235.0,311.4 L1236.9,311.7 L1238.9,312.0 L1240.9,312.3 L1242.9,312.6 L1244.9,312.9 L1246.9,313.2 L1248.9,313.6 L1250.9,313.9 L1252.9,314.2 L1254.9,314.5 L1256.9,314.8 L1258.9,315.1 L1260.9,315.4 L1262.9,315.7 L1264.9,316.0 L1266.9,316.3 L1268.9,316.6 L1270.9,316.9 L1272.9,317.2 L1274.9,317.5 L1276.9,317.8 L1278.9,318.1 L1280.9,318.5 L1282.9,318.8 L1284.9,319.1 L1286.9,319.4 L1288.9,319.7 L1290.9,320.0 L1292.9,320.3 L1294.9,320.6 L1296.9,320.9 L1298.9,321.2 L1300.9,321.5 L1302.9,321.8 L1304.9,322.1 L1306.9,322.4 L1308.9,322.7 L1310.9,323.0 L1312.9,323.3 L1314.9,323.6 L1316.9,323.9 L1318.9,324.2 L1320.9,324.5 L1322.9,324.8 L1324.9,325.1 L1326.9,325.5 L1328.9,325.8 L1330.9,326.1 L1332.9,326.4 L1334.9,326.7 L1336.9,327.0 L1338.9,327.3 L1340.9,327.6 L1342.9,327.9 L1344.9,328.2 L1346.9,328.5 L1348.9,328.8 L1350.9,329.1 L1352.9,329.4 L1354.9,329.7 L1356.9,330.0 L1358.9,330.3 L1360.9,330.6 L1362.9,330.9 L1364.9,331.2 L1366.9,331.5 L1368.9,331.8 L1370.9,332.1 L1372.9,332.4 L1374.9,332.7 L1376.9,333.0 L1378.9,333.3 L1380.9,333.6 L1382.9,333.9 L1384.9,334.2 L1386.9,334.5 L1388.9,334.8 L1390.9,335.1 L1392.9,335.4 L1394.9,335.7 L1396.9,336.0 L1398.9,336.3 L1400.9,336.6 L1402.8,336.9 L1404.8,337.2 L1406.8,337.5 L1408.8,337.8 L1410.8,338.1 L1412.8,338.4 L1414.8,338.7 L1416.8,339.0 L1418.8,339.3 L1420.8,339.6 L1422.8,339.9 L1424.8,340.2 L1426.8,340.5 L1428.8,340.8 L1430.8,341.1 L1432.8,341.4 L1434.8,341.7 L1436.8,342.0 L1438.8,342.3 L1440.8,342.6 L1442.8,342.9 L1444.8,343.2 L1446.8,343.4 L1448.8,343.7 L1450.8,344.0 L1452.8,344.3 L1454.8,344.6 L1456.8,344.9 L1458.8,345.2 L1460.8,345.5 L1462.8,345.8 L1464.8,346.1 L1466.8,346.4 L1468.8,346.7 L1470.8,347.0 L1472.8,347.3 L1474.8,347.6 L1476.8,347.9 L1478.8,348.2 L1480.8,348.5 L1482.8,348.8 L1484.8,349.1 L1486.8,349.4 L1488.8,349.7 L1490.8,350.0 L1492.8,350.3 L1494.8,350.5 L1496.8,350.8 L1498.8,351.1 L1500.8,351.4 L1502.8,351.7 L1504.8,352.0 L1506.8,352.3 L1508.8,352.6 L1510.8,352.9 L1512.8,353.2 L1514.8,353.5 L1516.8,353.8 L1518.8,354.1 L1520.8,354.4 L1522.8,354.7 L1524.8,354.9 L1526.8,355.2 L1528.8,355.5 L1530.8,355.8 L1532.8,356.1 L1534.8,356.4 L1536.8,356.7 L1538.8,357.0 L1540.8,357.3 L1542.8,357.6 L1544.8,357.9 L1546.8,358.2 L1548.8,358.5 L1550.8,358.7 L1552.8,359.0 L1554.8,359.3 L1556.8,359.6 L1558.8,359.9 L1560.8,360.2 L1562.8,360.5 L1564.8,360.8 L1566.8,361.1 L1568.8,361.4 L1570.7,361.7 L1572.7,361.9 L1574.7,362.2 L1576.7,362.5 L1578.7,362.8 L1580.7,363.1 L1582.7,363.4 L1584.7,363.7 L1586.7,364.0 L1588.7,364.3 L1590.7,364.6 L1592.7,364.8 L1594.7,365.1 L1596.7,365.4 L1598.7,365.7 L1600.7,366.0 L1602.7,366.3 L1604.7,366.6 L1606.7,366.9 L1608.7,367.2 L1610.7,367.4 L1612.7,367.7 L1614.7,368.0 L1616.7,368.3 L1618.7,368.6 L1620.7,368.9 L1622.7,369.2 L1624.7,369.5 L1626.7,369.8 L1628.7,370.0 L1630.7,370.3 L1632.7,370.6 L1634.7,370.9 L1636.7,371.2 L1638.7,371.5 L1640.7,371.8 L1642.7,372.1 L1644.7,372.3 L1646.7,372.6 L1648.7,372.9 L1650.7,373.2 L1652.7,373.5 L1654.7,373.8 L1656.7,374.1 L1658.7,374.3 L1660.7,374.6 L1662.7,374.9 L1664.7,375.2 L1666.7,375.5 L1668.7,375.8 L1670.7,376.1 L1672.7,376.3 L1674.7,376.6 L1676.7,376.9 L1678.7,377.2 L1680.7,377.5 L1682.7,377.8 L1684.7,378.1 L1686.7,378.3 L1688.7,378.6 L1690.7,378.9 L1692.7,379.2 L1694.7,379.5 L1696.7,379.8 L1698.7,380.0 L1700.7,380.3 L1702.7,380.6 L1704.7,380.9 L1706.7,381.2 L1708.7,381.5 L1710.7,381.8 L1712.7,382.0 L1714.7,382.3 L1716.7,382.6 L1718.7,382.9 L1720.7,383.2 L1722.7,383.5 L1724.7,383.7 L1726.7,384.0 L1728.7,384.3 L1730.7,384.6 L1732.7,384.9 L1734.7,385.1 L1736.6,385.4 L1738.6,385.7 L1740.6,386.0 L1742.6,386.3 L1744.6,386.6 L1746.6,386.8 L1748.6,387.1 L1750.6,387.4 L1752.6,387.7 L1754.6,388.0 L1756.6,388.2 L1758.6,388.5 L1760.6,388.8 L1762.6,389.1 L1764.6,389.4 L1766.6,389.7 L1768.6,389.9 L1770.6,390.2 L1772.6,390.5 L1774.6,390.8 L1776.6,391.1 L1778.6,391.3 L1780.6,391.6 L1782.6,391.9 L1784.6,392.2 L1786.6,392.5 L1788.6,392.7 L1790.6,393.0 L1792.6,393.3 L1794.6,393.6 L1796.6,393.9 L1798.6,394.1 L1800.6,394.4 L1802.6,394.7 L1804.6,395.0 L1806.6,395.3 L1808.6,395.5 L1810.6,395.8 L1812.6,396.1 L1814.6,396.4 L1816.6,396.6 L1818.6,396.9 L1822.6,396.9" stroke="#9a4048" stroke-width="4.6"/>
<path d="M319.5,172.0 L321.5,171.7 L323.5,171.2 L325.5,170.7 L327.5,170.0 L329.5,169.4 L331.5,168.6 L333.5,167.9 L335.5,167.2 L337.5,166.5 L339.5,165.9 L341.5,165.3 L343.5,164.8 L345.5,164.4 L347.5,164.1 L349.5,163.9 L351.5,163.8 L353.5,163.8 L355.5,163.8 L357.5,163.8 L359.5,163.8 L361.5,163.8 L363.5,163.8 L365.5,163.8 L367.5,163.8 L369.5,163.8 L371.5,163.8 L373.5,163.8 L375.5,163.9 L377.5,164.2 L379.5,164.8 L381.5,165.6 L383.5,166.7 L385.5,167.9 L387.5,169.1 L389.5,170.2 L391.5,171.0 L393.5,171.6 L395.5,172.1 L397.5,172.8 L399.5,173.8 L401.5,175.3 L403.4,177.1 L405.4,179.1 L407.4,181.2 L409.4,183.2 L411.4,185.2 L413.4,187.2 L415.4,189.2 L417.4,191.2 L419.4,193.2 L421.4,195.2 L423.4,197.2 L425.4,199.2 L427.4,201.2 L429.4,203.2 L431.4,205.2 L433.4,207.2 L435.4,209.1 L437.4,211.1 L439.4,213.1 L441.4,215.0 L443.4,217.0 L445.4,218.9 L447.4,220.9 L449.4,222.8 L451.4,224.8 L453.4,226.7 L455.4,228.6 L457.4,230.6 L459.4,232.5 L461.4,234.4 L463.4,236.3 L465.4,238.3 L467.4,240.2 L469.4,242.1 L471.4,244.0 L473.4,245.9 L475.4,247.8 L477.4,249.7 L479.4,251.6 L481.4,253.4 L483.4,255.3 L485.4,257.2 L487.4,259.1 L489.4,260.9 L491.4,262.8 L493.4,264.7 L495.4,266.5 L497.4,268.4 L499.4,270.2 L501.4,272.1 L503.4,273.9 L505.4,275.8 L507.4,277.6 L509.4,279.4 L511.4,281.3 L513.4,283.1 L515.4,284.9 L517.4,286.7 L519.4,288.5 L521.4,290.3 L523.4,292.2 L525.4,294.0 L527.4,295.8 L529.4,297.6 L531.4,299.3 L533.4,301.1 L535.4,302.9 L537.4,304.7 L539.4,306.5 L541.4,308.3 L543.4,310.0 L545.4,311.8 L547.4,313.6 L549.4,315.3 L551.4,317.1 L553.4,318.8 L555.4,320.6 L557.4,322.3 L559.4,324.1 L561.4,325.8 L563.4,327.6 L565.4,329.3 L567.4,331.0 L569.4,332.7 L571.3,334.5 L573.3,336.2 L575.3,337.9 L577.3,339.6 L579.3,341.3 L581.3,343.0 L583.3,344.7 L585.3,346.4 L587.3,348.1 L589.3,349.8 L591.3,351.5 L593.3,353.2 L595.3,354.9 L597.3,356.6 L599.3,358.2 L601.3,359.9 L603.3,361.6 L605.3,363.2 L607.3,364.9 L609.3,366.6 L611.3,368.2 L613.3,369.9 L615.3,371.5 L617.3,373.2 L619.3,374.8 L621.3,376.5 L623.3,378.1 L625.3,379.7 L627.3,381.4 L629.3,383.0 L631.3,384.6 L633.3,386.2 L635.3,387.8 L637.3,389.5 L639.3,391.1 L641.3,392.7 L643.3,394.3 L645.3,395.9 L647.3,397.5 L649.3,399.1 L651.3,400.7 L653.3,402.3 L655.3,403.8 L657.3,405.4 L659.3,407.0 L661.3,408.6 L663.3,410.1 L665.3,411.7 L667.3,413.3 L669.3,414.8 L671.3,416.4 L673.3,418.0 L675.3,419.5 L677.3,421.1 L679.3,422.6 L681.3,424.2 L683.3,425.7 L685.3,427.2 L687.3,428.8 L689.3,430.3 L691.3,431.8 L693.3,433.4 L695.3,434.9 L697.3,436.4 L699.3,437.9 L701.3,439.4 L703.3,441.0 L705.3,442.5 L707.3,444.0 L709.3,445.5 L711.3,447.0 L713.3,448.5 L715.3,450.0 L717.3,451.4 L719.3,452.9 L721.3,454.4 L723.3,455.9 L725.3,457.4 L727.3,458.9 L729.3,460.3 L731.3,461.8 L733.3,463.3 L735.3,464.7 L737.2,466.2 L739.2,467.6 L741.2,469.1 L743.2,470.6 L745.2,472.0 L747.2,473.5 L749.2,474.9 L751.2,476.3 L753.2,477.8 L755.2,479.2 L757.2,480.6 L759.2,482.1 L761.2,483.5 L763.2,484.9 L765.2,486.3 L767.2,487.8 L769.2,489.2 L771.2,490.6 L773.2,492.0 L775.2,493.4 L777.2,494.8 L779.2,496.2 L781.2,497.6 L783.2,499.0 L785.2,500.4 L787.2,501.8 L789.2,503.2 L791.2,504.6 L793.2,505.9 L795.2,507.3 L797.2,508.7 L799.2,510.1 L801.2,511.4 L803.2,512.8 L805.2,514.2 L807.2,515.5 L809.2,516.9 L811.2,518.3 L813.2,519.6 L815.2,521.0 L817.2,522.3 L819.2,523.7 L821.2,525.0 L823.2,526.3 L825.2,527.7 L827.2,529.0 L829.2,530.4 L831.2,531.7 L833.2,533.0 L835.2,534.3 L837.2,535.7 L839.2,537.0 L841.2,538.3 L843.2,539.6 L845.2,540.9 L847.2,542.2 L849.2,543.5 L851.2,544.8 L853.2,546.1 L855.2,547.4 L857.2,548.7 L859.2,550.0 L861.2,551.3 L863.2,552.6 L865.2,553.9 L867.2,555.2 L869.2,556.5 L871.2,557.7 L873.2,559.0 L875.2,560.3 L877.2,561.6 L879.2,562.8 L881.2,564.1 L883.2,565.4 L885.2,566.6 L887.2,567.9 L889.2,569.1 L891.2,570.4 L893.2,571.7 L895.2,572.9 L897.2,574.1 L899.2,575.4 L901.2,576.6 L903.1,577.9 L905.1,579.1 L907.1,580.3 L909.1,581.6 L911.1,582.8 L913.1,584.0 L915.1,585.3 L917.1,586.5 L919.1,587.7 L921.1,588.9 L923.1,590.1 L925.1,591.3 L927.1,592.5 L929.1,593.8 L931.1,595.0 L933.1,596.2 L935.1,597.4 L937.1,598.6 L939.1,599.8 L941.1,600.9 L943.1,602.1 L945.1,603.3 L947.1,604.5 L949.1,605.7 L951.1,606.9 L953.1,608.1 L955.1,609.2 L957.1,610.4 L959.1,611.6 L961.1,612.7 L963.1,613.9 L965.1,615.1 L967.1,616.2 L969.1,617.4 L971.1,618.6 L973.1,619.7 L975.1,620.9 L977.1,622.0 L979.1,623.2 L981.1,624.3 L983.1,625.5 L985.1,626.6 L987.1,627.7 L989.1,628.9 L991.1,630.0 L993.1,631.1 L995.1,632.3 L997.1,633.4 L999.1,634.5 L1001.1,635.7 L1003.1,636.8 L1005.1,637.9 L1007.1,639.0 L1009.1,640.1 L1011.1,641.2 L1013.1,642.3 L1015.1,643.5 L1017.1,644.6 L1019.1,645.7 L1021.1,646.8 L1023.1,647.9 L1025.1,649.0 L1027.1,650.1 L1029.1,651.2 L1031.1,652.2 L1033.1,653.3 L1035.1,654.4 L1037.1,655.5 L1039.1,656.6 L1041.1,657.7 L1043.1,658.7 L1045.1,659.8 L1047.1,660.9 L1049.1,662.0 L1051.1,663.0 L1053.1,664.1 L1055.1,665.2 L1057.1,666.2 L1059.1,667.3 L1061.1,668.3 L1063.1,669.4 L1065.1,670.5 L1067.1,671.5 L1069.0,672.6 L1071.0,673.6 L1073.0,674.7 L1075.0,675.7 L1077.0,676.7 L1079.0,677.8 L1081.0,678.8 L1083.0,679.9 L1085.0,680.9 L1087.0,681.9 L1089.0,683.0 L1091.0,684.0 L1093.0,685.0 L1095.0,686.0 L1097.0,687.1 L1099.0,688.1 L1101.0,689.1 L1103.0,690.1 L1105.0,691.1 L1107.0,692.1 L1109.0,693.1 L1111.0,694.1 L1113.0,695.1 L1115.0,696.2 L1117.0,697.2 L1119.0,698.2 L1121.0,699.2 L1123.0,700.1 L1125.0,701.1 L1127.0,702.1 L1129.0,703.1 L1131.0,704.1 L1133.0,705.1 L1135.0,706.1 L1137.0,707.1 L1139.0,708.0 L1141.0,709.0 L1143.0,710.0 L1145.0,711.0 L1147.0,711.9 L1149.0,712.9 L1151.0,713.9 L1153.0,714.8 L1155.0,715.8 L1157.0,716.8 L1159.0,717.7 L1161.0,718.7 L1163.0,719.6 L1165.0,720.6 L1167.0,721.6 L1169.0,722.5 L1171.0,723.5 L1173.0,724.4 L1175.0,725.3 L1177.0,726.3 L1179.0,727.2 L1181.0,728.2 L1183.0,729.1 L1185.0,730.0 L1187.0,731.0 L1189.0,731.9 L1191.0,732.8 L1193.0,733.8 L1195.0,734.7 L1197.0,735.6 L1199.0,736.5 L1201.0,737.5 L1203.0,738.4 L1205.0,739.3 L1207.0,740.2 L1209.0,741.1 L1211.0,742.0 L1213.0,743.0 L1215.0,743.9 L1217.0,744.8 L1219.0,745.7 L1221.0,746.6 L1223.0,747.5 L1225.0,748.4 L1227.0,749.3 L1229.0,750.2 L1231.0,751.1 L1233.0,752.0 L1235.0,752.9 L1236.9,753.7 L1238.9,754.6 L1240.9,755.5 L1242.9,756.4 L1244.9,757.3 L1246.9,758.2 L1248.9,759.0 L1250.9,759.9 L1252.9,760.8 L1254.9,761.7 L1256.9,762.5 L1258.9,763.4 L1260.9,764.3 L1262.9,765.1 L1264.9,766.0 L1266.9,766.9 L1268.9,767.7 L1270.9,768.6 L1272.9,769.4 L1274.9,770.3 L1276.9,771.2 L1278.9,772.0 L1280.9,772.9 L1282.9,773.7 L1284.9,774.6 L1286.9,775.4 L1288.9,776.2 L1290.9,777.1 L1292.9,777.9 L1294.9,778.8 L1296.9,779.6 L1298.9,780.4 L1300.9,781.3 L1302.9,782.1 L1304.9,782.9 L1306.9,783.8 L1308.9,784.6 L1310.9,785.4 L1312.9,786.2 L1314.9,787.1 L1316.9,787.9 L1318.9,788.7 L1320.9,789.5 L1322.9,790.3 L1324.9,791.2 L1326.9,792.0 L1328.9,792.8 L1330.9,793.6 L1332.9,794.4 L1334.9,795.2 L1336.9,796.0 L1338.9,796.8 L1340.9,797.6 L1342.9,798.4 L1344.9,799.2 L1346.9,800.0 L1348.9,800.8 L1350.9,801.6 L1352.9,802.4 L1354.9,803.2 L1356.9,804.0 L1358.9,804.8 L1360.9,805.5 L1362.9,806.3 L1364.9,807.1 L1366.9,807.9 L1368.9,808.7 L1370.9,809.4 L1372.9,810.2 L1374.9,811.0 L1376.9,811.8 L1378.9,812.5 L1380.9,813.3 L1382.9,814.1 L1384.9,814.8 L1386.9,815.6 L1388.9,816.4 L1390.9,817.1 L1392.9,817.9 L1394.9,818.7 L1396.9,819.4 L1398.9,820.2 L1400.9,820.9 L1402.8,821.7 L1404.8,822.4 L1406.8,823.2 L1408.8,823.9 L1410.8,824.7 L1412.8,825.4 L1414.8,826.2 L1416.8,826.9 L1418.8,827.7 L1420.8,828.4 L1422.8,829.1 L1424.8,829.9 L1426.8,830.6 L1428.8,831.3 L1430.8,832.1 L1432.8,832.8 L1434.8,833.5 L1436.8,834.3 L1438.8,835.0 L1440.8,835.7 L1442.8,836.4 L1444.8,837.2 L1446.8,837.9 L1448.8,838.6 L1450.8,839.3 L1452.8,840.0 L1454.8,840.8 L1456.8,841.5 L1458.8,842.2 L1460.8,842.9 L1462.8,843.6 L1464.8,844.3 L1466.8,845.0 L1468.8,845.7 L1470.8,846.4 L1472.8,847.1 L1474.8,847.8 L1476.8,848.5 L1478.8,849.2 L1480.8,849.9 L1482.8,850.6 L1484.8,851.3 L1486.8,852.0 L1488.8,852.7 L1490.8,853.4 L1492.8,854.1 L1494.8,854.8 L1496.8,855.5 L1498.8,856.1 L1500.8,856.8 L1502.8,857.5 L1504.8,858.2 L1506.8,858.9 L1508.8,859.6 L1510.8,860.2 L1512.8,860.9 L1514.8,861.6 L1516.8,862.3 L1518.8,862.9 L1520.8,863.6 L1522.8,864.3 L1524.8,864.9 L1526.8,865.6 L1528.8,866.3 L1530.8,866.9 L1532.8,867.6 L1534.8,868.3 L1536.8,868.9 L1538.8,869.6 L1540.8,870.2 L1542.8,870.9 L1544.8,871.5 L1546.8,872.2 L1548.8,872.8 L1550.8,873.5 L1552.8,874.1 L1554.8,874.8 L1556.8,875.4 L1558.8,876.1 L1560.8,876.7 L1562.8,877.4 L1564.8,878.0 L1566.8,878.6 L1568.8,879.3 L1570.7,879.9 L1572.7,880.6 L1574.7,881.2 L1576.7,881.8 L1578.7,882.5 L1580.7,883.1 L1582.7,883.7 L1584.7,884.4 L1586.7,885.0 L1588.7,885.6 L1590.7,886.2 L1592.7,886.9 L1594.7,887.5 L1596.7,888.1 L1598.7,888.7 L1600.7,889.3 L1602.7,890.0 L1604.7,890.6 L1606.7,891.2 L1608.7,891.8 L1610.7,892.4 L1612.7,893.0 L1614.7,893.6 L1616.7,894.2 L1618.7,894.9 L1620.7,895.5 L1622.7,896.1 L1624.7,896.7 L1626.7,897.3 L1628.7,897.9 L1630.7,898.5 L1632.7,899.1 L1634.7,899.7 L1636.7,900.3 L1638.7,900.9 L1640.7,901.5 L1642.7,902.1 L1644.7,902.7 L1646.7,903.2 L1648.7,903.8 L1650.7,904.4 L1652.7,905.0 L1654.7,905.6 L1656.7,906.2 L1658.7,906.8 L1660.7,907.4 L1662.7,907.9 L1664.7,908.5 L1666.7,909.1 L1668.7,909.7 L1670.7,910.2 L1672.7,910.8 L1674.7,911.4 L1676.7,912.0 L1678.7,912.5 L1680.7,913.1 L1682.7,913.7 L1684.7,914.3 L1686.7,914.8 L1688.7,915.4 L1690.7,916.0 L1692.7,916.5 L1694.7,917.1 L1696.7,917.7 L1698.7,918.2 L1700.7,918.8 L1702.7,919.3 L1704.7,919.9 L1706.7,920.4 L1708.7,921.0 L1710.7,921.6 L1712.7,922.1 L1714.7,922.7 L1716.7,923.2 L1718.7,923.8 L1720.7,924.3 L1722.7,924.9 L1724.7,925.4 L1726.7,926.0 L1728.7,926.5 L1730.7,927.0 L1732.7,927.6 L1734.7,928.1 L1736.6,928.7 L1738.6,929.2 L1740.6,929.8 L1742.6,930.3 L1744.6,930.8 L1746.6,931.4 L1748.6,931.9 L1750.6,932.4 L1752.6,933.0 L1754.6,933.5 L1756.6,934.0 L1758.6,934.6 L1760.6,935.1 L1762.6,935.6 L1764.6,936.1 L1766.6,936.7 L1768.6,937.2 L1770.6,937.7 L1772.6,938.2 L1774.6,938.7 L1776.6,939.3 L1778.6,939.8 L1780.6,940.3 L1782.6,940.8 L1784.6,941.3 L1786.6,941.8 L1788.6,942.4 L1790.6,942.9 L1792.6,943.4 L1794.6,943.9 L1796.6,944.4 L1798.6,944.9 L1800.6,945.4 L1802.6,945.9 L1804.6,946.4 L1806.6,946.9 L1808.6,947.4 L1810.6,947.9 L1812.6,948.4 L1814.6,948.9 L1816.6,949.4 L1818.6,949.9 L1822.6,949.9" stroke="#969600" stroke-width="5.0"/>
<path d="M319.5,172.0 L321.5,171.9 L323.5,171.8 L325.5,171.6 L327.5,171.5 L329.5,171.3 L331.5,171.1 L333.5,170.9 L335.5,170.7 L337.5,170.5 L339.5,170.3 L341.5,170.2 L343.5,170.0 L345.5,169.9 L347.5,169.8 L349.5,169.8 L351.5,169.8 L353.5,169.7 L355.5,169.7 L357.5,169.7 L359.5,169.7 L361.5,169.7 L363.5,169.7 L365.5,169.7 L367.5,169.7 L369.5,169.7 L371.5,169.7 L373.5,169.7 L375.5,169.8 L377.5,169.9 L379.5,170.0 L381.5,170.2 L383.5,170.5 L385.5,170.9 L387.5,171.2 L389.5,171.5 L391.5,171.7 L393.5,171.9 L395.5,172.0 L397.5,172.1 L399.5,172.1 L401.5,172.2 L403.4,172.2 L405.4,172.3 L407.4,172.3 L409.4,172.4 L411.4,172.4 L413.4,172.5 L415.4,172.5 L417.4,172.6 L419.4,172.6 L421.4,172.7 L423.4,172.7 L425.4,172.8 L427.4,172.8 L429.4,172.9 L431.4,172.9 L433.4,173.0 L435.4,173.0 L437.4,173.1 L439.4,173.1 L441.4,173.2 L443.4,173.2 L445.4,173.3 L447.4,173.3 L449.4,173.4 L451.4,173.4 L453.4,173.5 L455.4,173.5 L457.4,173.6 L459.4,173.6 L461.4,173.7 L463.4,173.7 L465.4,173.8 L467.4,173.8 L469.4,173.9 L471.4,173.9 L473.4,174.0 L475.4,174.0 L477.4,174.1 L479.4,174.1 L481.4,174.2 L483.4,174.2 L485.4,174.3 L487.4,174.3 L489.4,174.4 L491.4,174.4 L493.4,174.5 L495.4,174.5 L497.4,174.6 L499.4,174.6 L501.4,174.7 L503.4,174.7 L505.4,174.8 L507.4,174.8 L509.4,174.9 L511.4,174.9 L513.4,175.0 L515.4,175.0 L517.4,175.1 L519.4,175.1 L521.4,175.2 L523.4,175.2 L525.4,175.3 L527.4,175.3 L529.4,175.4 L531.4,175.4 L533.4,175.5 L535.4,175.5 L537.4,175.6 L539.4,175.6 L541.4,175.7 L543.4,175.7 L545.4,175.8 L547.4,175.8 L549.4,175.9 L551.4,175.9 L553.4,176.0 L555.4,176.0 L557.4,176.1 L559.4,176.1 L561.4,176.2 L563.4,176.2 L565.4,176.3 L567.4,176.3 L569.4,176.4 L571.3,176.4 L573.3,176.5 L575.3,176.5 L577.3,176.6 L579.3,176.6 L581.3,176.7 L583.3,176.7 L585.3,176.8 L587.3,176.8 L589.3,176.9 L591.3,176.9 L593.3,177.0 L595.3,177.0 L597.3,177.1 L599.3,177.1 L601.3,177.2 L603.3,177.2 L605.3,177.3 L607.3,177.3 L609.3,177.4 L611.3,177.4 L613.3,177.5 L615.3,177.5 L617.3,177.6 L619.3,177.6 L621.3,177.7 L623.3,177.7 L625.3,177.8 L627.3,177.8 L629.3,177.9 L631.3,177.9 L633.3,178.0 L635.3,178.0 L637.3,178.0 L639.3,178.1 L641.3,178.1 L643.3,178.2 L645.3,178.2 L647.3,178.3 L649.3,178.3 L651.3,178.4 L653.3,178.4 L655.3,178.5 L657.3,178.5 L659.3,178.6 L661.3,178.6 L663.3,178.7 L665.3,178.7 L667.3,178.8 L669.3,178.8 L671.3,178.9 L673.3,178.9 L675.3,179.0 L677.3,179.0 L679.3,179.1 L681.3,179.1 L683.3,179.2 L685.3,179.2 L687.3,179.3 L689.3,179.3 L691.3,179.4 L693.3,179.4 L695.3,179.5 L697.3,179.5 L699.3,179.6 L701.3,179.6 L703.3,179.7 L705.3,179.7 L707.3,179.8 L709.3,179.8 L711.3,179.9 L713.3,179.9 L715.3,180.0 L717.3,180.0 L719.3,180.1 L721.3,180.1 L723.3,180.2 L725.3,180.2 L727.3,180.3 L729.3,180.3 L731.3,180.4 L733.3,180.4 L735.3,180.5 L737.2,180.5 L739.2,180.6 L741.2,180.6 L743.2,180.7 L745.2,180.7 L747.2,180.8 L749.2,180.8 L751.2,180.9 L753.2,180.9 L755.2,181.0 L757.2,181.0 L759.2,181.1 L761.2,181.1 L763.2,181.2 L765.2,181.2 L767.2,181.3 L769.2,181.3 L771.2,181.4 L773.2,181.4 L775.2,181.5 L777.2,181.5 L779.2,181.6 L781.2,181.6 L783.2,181.7 L785.2,181.7 L787.2,181.8 L789.2,181.8 L791.2,181.9 L793.2,181.9 L795.2,182.0 L797.2,182.0 L799.2,182.1 L801.2,182.1 L803.2,182.2 L805.2,182.2 L807.2,182.3 L809.2,182.3 L811.2,182.4 L813.2,182.4 L815.2,182.5 L817.2,182.5 L819.2,182.6 L821.2,182.6 L823.2,182.7 L825.2,182.7 L827.2,182.8 L829.2,182.8 L831.2,182.9 L833.2,182.9 L835.2,183.0 L837.2,183.0 L839.2,183.1 L841.2,183.1 L843.2,183.2 L845.2,183.2 L847.2,183.2 L849.2,183.3 L851.2,183.3 L853.2,183.4 L855.2,183.4 L857.2,183.5 L859.2,183.5 L861.2,183.6 L863.2,183.6 L865.2,183.7 L867.2,183.7 L869.2,183.8 L871.2,183.8 L873.2,183.9 L875.2,183.9 L877.2,184.0 L879.2,184.0 L881.2,184.1 L883.2,184.1 L885.2,184.2 L887.2,184.2 L889.2,184.3 L891.2,184.3 L893.2,184.4 L895.2,184.4 L897.2,184.5 L899.2,184.5 L901.2,184.6 L903.1,184.6 L905.1,184.7 L907.1,184.7 L909.1,184.8 L911.1,184.8 L913.1,184.9 L915.1,184.9 L917.1,185.0 L919.1,185.0 L921.1,185.1 L923.1,185.1 L925.1,185.2 L927.1,185.2 L929.1,185.3 L931.1,185.3 L933.1,185.4 L935.1,185.4 L937.1,185.5 L939.1,185.5 L941.1,185.6 L943.1,185.6 L945.1,185.7 L947.1,185.7 L949.1,185.8 L951.1,185.8 L953.1,185.9 L955.1,185.9 L957.1,186.0 L959.1,186.0 L961.1,186.1 L963.1,186.1 L965.1,186.2 L967.1,186.2 L969.1,186.3 L971.1,186.3 L973.1,186.4 L975.1,186.4 L977.1,186.5 L979.1,186.5 L981.1,186.6 L983.1,186.6 L985.1,186.7 L987.1,186.7 L989.1,186.8 L991.1,186.8 L993.1,186.8 L995.1,186.9 L997.1,186.9 L999.1,187.0 L1001.1,187.0 L1003.1,187.1 L1005.1,187.1 L1007.1,187.2 L1009.1,187.2 L1011.1,187.3 L1013.1,187.3 L1015.1,187.4 L1017.1,187.4 L1019.1,187.5 L1021.1,187.5 L1023.1,187.6 L1025.1,187.6 L1027.1,187.7 L1029.1,187.7 L1031.1,187.8 L1033.1,187.8 L1035.1,187.9 L1037.1,187.9 L1039.1,188.0 L1041.1,188.0 L1043.1,188.1 L1045.1,188.1 L1047.1,188.2 L1049.1,188.2 L1051.1,188.3 L1053.1,188.3 L1055.1,188.4 L1057.1,188.4 L1059.1,188.5 L1061.1,188.5 L1063.1,188.6 L1065.1,188.6 L1067.1,188.7 L1069.0,188.7 L1071.0,188.8 L1073.0,188.8 L1075.0,188.9 L1077.0,188.9 L1079.0,189.0 L1081.0,189.0 L1083.0,189.1 L1085.0,189.1 L1087.0,189.2 L1089.0,189.2 L1091.0,189.3 L1093.0,189.3 L1095.0,189.4 L1097.0,189.4 L1099.0,189.5 L1101.0,189.5 L1103.0,189.6 L1105.0,189.6 L1107.0,189.7 L1109.0,189.7 L1111.0,189.7 L1113.0,189.8 L1115.0,189.8 L1117.0,189.9 L1119.0,189.9 L1121.0,190.0 L1123.0,190.0 L1125.0,190.1 L1127.0,190.1 L1129.0,190.2 L1131.0,190.2 L1133.0,190.3 L1135.0,190.3 L1137.0,190.4 L1139.0,190.4 L1141.0,190.5 L1143.0,190.5 L1145.0,190.6 L1147.0,190.6 L1149.0,190.7 L1151.0,190.7 L1153.0,190.8 L1155.0,190.8 L1157.0,190.9 L1159.0,190.9 L1161.0,191.0 L1163.0,191.0 L1165.0,191.1 L1167.0,191.1 L1169.0,191.2 L1171.0,191.2 L1173.0,191.3 L1175.0,191.3 L1177.0,191.4 L1179.0,191.4 L1181.0,191.5 L1183.0,191.5 L1185.0,191.6 L1187.0,191.6 L1189.0,191.7 L1191.0,191.7 L1193.0,191.8 L1195.0,191.8 L1197.0,191.9 L1199.0,191.9 L1201.0,192.0 L1203.0,192.0 L1205.0,192.1 L1207.0,192.1 L1209.0,192.2 L1211.0,192.2 L1213.0,192.2 L1215.0,192.3 L1217.0,192.3 L1219.0,192.4 L1221.0,192.4 L1223.0,192.5 L1225.0,192.5 L1227.0,192.6 L1229.0,192.6 L1231.0,192.7 L1233.0,192.7 L1235.0,192.8 L1236.9,192.8 L1238.9,192.9 L1240.9,192.9 L1242.9,193.0 L1244.9,193.0 L1246.9,193.1 L1248.9,193.1 L1250.9,193.2 L1252.9,193.2 L1254.9,193.3 L1256.9,193.3 L1258.9,193.4 L1260.9,193.4 L1262.9,193.5 L1264.9,193.5 L1266.9,193.6 L1268.9,193.6 L1270.9,193.7 L1272.9,193.7 L1274.9,193.8 L1276.9,193.8 L1278.9,193.9 L1280.9,193.9 L1282.9,194.0 L1284.9,194.0 L1286.9,194.1 L1288.9,194.1 L1290.9,194.2 L1292.9,194.2 L1294.9,194.3 L1296.9,194.3 L1298.9,194.4 L1300.9,194.4 L1302.9,194.4 L1304.9,194.5 L1306.9,194.5 L1308.9,194.6 L1310.9,194.6 L1312.9,194.7 L1314.9,194.7 L1316.9,194.8 L1318.9,194.8 L1320.9,194.9 L1322.9,194.9 L1324.9,195.0 L1326.9,195.0 L1328.9,195.1 L1330.9,195.1 L1332.9,195.2 L1334.9,195.2 L1336.9,195.3 L1338.9,195.3 L1340.9,195.4 L1342.9,195.4 L1344.9,195.5 L1346.9,195.5 L1348.9,195.6 L1350.9,195.6 L1352.9,195.7 L1354.9,195.7 L1356.9,195.8 L1358.9,195.8 L1360.9,195.9 L1362.9,195.9 L1364.9,196.0 L1366.9,196.0 L1368.9,196.1 L1370.9,196.1 L1372.9,196.2 L1374.9,196.2 L1376.9,196.3 L1378.9,196.3 L1380.9,196.4 L1382.9,196.4 L1384.9,196.4 L1386.9,196.5 L1388.9,196.5 L1390.9,196.6 L1392.9,196.6 L1394.9,196.7 L1396.9,196.7 L1398.9,196.8 L1400.9,196.8 L1402.8,196.9 L1404.8,196.9 L1406.8,197.0 L1408.8,197.0 L1410.8,197.1 L1412.8,197.1 L1414.8,197.2 L1416.8,197.2 L1418.8,197.3 L1420.8,197.3 L1422.8,197.4 L1424.8,197.4 L1426.8,197.5 L1428.8,197.5 L1430.8,197.6 L1432.8,197.6 L1434.8,197.7 L1436.8,197.7 L1438.8,197.8 L1440.8,197.8 L1442.8,197.9 L1444.8,197.9 L1446.8,198.0 L1448.8,198.0 L1450.8,198.1 L1452.8,198.1 L1454.8,198.2 L1456.8,198.2 L1458.8,198.3 L1460.8,198.3 L1462.8,198.3 L1464.8,198.4 L1466.8,198.4 L1468.8,198.5 L1470.8,198.5 L1472.8,198.6 L1474.8,198.6 L1476.8,198.7 L1478.8,198.7 L1480.8,198.8 L1482.8,198.8 L1484.8,198.9 L1486.8,198.9 L1488.8,199.0 L1490.8,199.0 L1492.8,199.1 L1494.8,199.1 L1496.8,199.2 L1498.8,199.2 L1500.8,199.3 L1502.8,199.3 L1504.8,199.4 L1506.8,199.4 L1508.8,199.5 L1510.8,199.5 L1512.8,199.6 L1514.8,199.6 L1516.8,199.7 L1518.8,199.7 L1520.8,199.8 L1522.8,199.8 L1524.8,199.9 L1526.8,199.9 L1528.8,200.0 L1530.8,200.0 L1532.8,200.1 L1534.8,200.1 L1536.8,200.1 L1538.8,200.2 L1540.8,200.2 L1542.8,200.3 L1544.8,200.3 L1546.8,200.4 L1548.8,200.4 L1550.8,200.5 L1552.8,200.5 L1554.8,200.6 L1556.8,200.6 L1558.8,200.7 L1560.8,200.7 L1562.8,200.8 L1564.8,200.8 L1566.8,200.9 L1568.8,200.9 L1570.7,201.0 L1572.7,201.0 L1574.7,201.1 L1576.7,201.1 L1578.7,201.2 L1580.7,201.2 L1582.7,201.3 L1584.7,201.3 L1586.7,201.4 L1588.7,201.4 L1590.7,201.5 L1592.7,201.5 L1594.7,201.6 L1596.7,201.6 L1598.7,201.7 L1600.7,201.7 L1602.7,201.7 L1604.7,201.8 L1606.7,201.8 L1608.7,201.9 L1610.7,201.9 L1612.7,202.0 L1614.7,202.0 L1616.7,202.1 L1618.7,202.1 L1620.7,202.2 L1622.7,202.2 L1624.7,202.3 L1626.7,202.3 L1628.7,202.4 L1630.7,202.4 L1632.7,202.5 L1634.7,202.5 L1636.7,202.6 L1638.7,202.6 L1640.7,202.7 L1642.7,202.7 L1644.7,202.8 L1646.7,202.8 L1648.7,202.9 L1650.7,202.9 L1652.7,203.0 L1654.7,203.0 L1656.7,203.1 L1658.7,203.1 L1660.7,203.2 L1662.7,203.2 L1664.7,203.3 L1666.7,203.3 L1668.7,203.3 L1670.7,203.4 L1672.7,203.4 L1674.7,203.5 L1676.7,203.5 L1678.7,203.6 L1680.7,203.6 L1682.7,203.7 L1684.7,203.7 L1686.7,203.8 L1688.7,203.8 L1690.7,203.9 L1692.7,203.9 L1694.7,204.0 L1696.7,204.0 L1698.7,204.1 L1700.7,204.1 L1702.7,204.2 L1704.7,204.2 L1706.7,204.3 L1708.7,204.3 L1710.7,204.4 L1712.7,204.4 L1714.7,204.5 L1716.7,204.5 L1718.7,204.6 L1720.7,204.6 L1722.7,204.7 L1724.7,204.7 L1726.7,204.8 L1728.7,204.8 L1730.7,204.8 L1732.7,204.9 L1734.7,204.9 L1736.6,205.0 L1738.6,205.0 L1740.6,205.1 L1742.6,205.1 L1744.6,205.2 L1746.6,205.2 L1748.6,205.3 L1750.6,205.3 L1752.6,205.4 L1754.6,205.4 L1756.6,205.5 L1758.6,205.5 L1760.6,205.6 L1762.6,205.6 L1764.6,205.7 L1766.6,205.7 L1768.6,205.8 L1770.6,205.8 L1772.6,205.9 L1774.6,205.9 L1776.6,206.0 L1778.6,206.0 L1780.6,206.1 L1782.6,206.1 L1784.6,206.2 L1786.6,206.2 L1788.6,206.2 L1790.6,206.3 L1792.6,206.3 L1794.6,206.4 L1796.6,206.4 L1798.6,206.5 L1800.6,206.5 L1802.6,206.6 L1804.6,206.6 L1806.6,206.7 L1808.6,206.7 L1810.6,206.8 L1812.6,206.8 L1814.6,206.9 L1816.6,206.9 L1818.6,207.0 L1822.6,207.0" stroke="#ff6a00" stroke-width="6.2"/>
<path d="M319.5,172.0 L321.5,171.6 L323.5,170.9 L325.5,170.2 L327.5,169.4 L329.5,168.4 L331.5,167.5 L333.5,166.5 L335.5,165.5 L337.5,164.6 L339.5,163.8 L341.5,163.0 L343.5,162.3 L345.5,161.8 L347.5,161.4 L349.5,161.1 L351.5,161.0 L353.5,160.9 L355.5,160.9 L357.5,160.9 L359.5,160.9 L361.5,160.9 L363.5,160.9 L365.5,160.9 L367.5,160.9 L369.5,160.9 L371.5,160.9 L373.5,160.9 L375.5,161.1 L377.5,161.5 L379.5,162.2 L381.5,163.4 L383.5,164.8 L385.5,166.4 L387.5,168.1 L389.5,169.5 L391.5,170.7 L393.5,172.0 L395.5,173.6 L397.5,175.6 L399.5,178.0 L401.5,180.9 L403.4,183.9 L405.4,186.8 L407.4,189.8 L409.4,192.7 L411.4,195.7 L413.4,198.6 L415.4,201.5 L417.4,204.4 L419.4,207.3 L421.4,210.2 L423.4,213.0 L425.4,215.9 L427.4,218.8 L429.4,221.6 L431.4,224.5 L433.4,227.3 L435.4,230.1 L437.4,233.0 L439.4,235.8 L441.4,238.6 L443.4,241.4 L445.4,244.2 L447.4,246.9 L449.4,249.7 L451.4,252.5 L453.4,255.2 L455.4,258.0 L457.4,260.7 L459.4,263.4 L461.4,266.2 L463.4,268.9 L465.4,271.6 L467.4,274.3 L469.4,277.0 L471.4,279.7 L473.4,282.3 L475.4,285.0 L477.4,287.7 L479.4,290.3 L481.4,293.0 L483.4,295.6 L485.4,298.2 L487.4,300.8 L489.4,303.5 L491.4,306.1 L493.4,308.7 L495.4,311.2 L497.4,313.8 L499.4,316.4 L501.4,319.0 L503.4,321.5 L505.4,324.1 L507.4,326.6 L509.4,329.2 L511.4,331.7 L513.4,334.2 L515.4,336.7 L517.4,339.3 L519.4,341.8 L521.4,344.3 L523.4,346.7 L525.4,349.2 L527.4,351.7 L529.4,354.2 L531.4,356.6 L533.4,359.1 L535.4,361.5 L537.4,364.0 L539.4,366.4 L541.4,368.8 L543.4,371.2 L545.4,373.6 L547.4,376.0 L549.4,378.4 L551.4,380.8 L553.4,383.2 L555.4,385.6 L557.4,387.9 L559.4,390.3 L561.4,392.7 L563.4,395.0 L565.4,397.3 L567.4,399.7 L569.4,402.0 L571.3,404.3 L573.3,406.6 L575.3,408.9 L577.3,411.2 L579.3,413.5 L581.3,415.8 L583.3,418.1 L585.3,420.4 L587.3,422.6 L589.3,424.9 L591.3,427.2 L593.3,429.4 L595.3,431.6 L597.3,433.9 L599.3,436.1 L601.3,438.3 L603.3,440.5 L605.3,442.8 L607.3,445.0 L609.3,447.1 L611.3,449.3 L613.3,451.5 L615.3,453.7 L617.3,455.9 L619.3,458.0 L621.3,460.2 L623.3,462.3 L625.3,464.5 L627.3,466.6 L629.3,468.8 L631.3,470.9 L633.3,473.0 L635.3,475.1 L637.3,477.2 L639.3,479.3 L641.3,481.4 L643.3,483.5 L645.3,485.6 L647.3,487.7 L649.3,489.7 L651.3,491.8 L653.3,493.9 L655.3,495.9 L657.3,498.0 L659.3,500.0 L661.3,502.0 L663.3,504.1 L665.3,506.1 L667.3,508.1 L669.3,510.1 L671.3,512.1 L673.3,514.1 L675.3,516.1 L677.3,518.1 L679.3,520.1 L681.3,522.1 L683.3,524.0 L685.3,526.0 L687.3,528.0 L689.3,529.9 L691.3,531.9 L693.3,533.8 L695.3,535.7 L697.3,537.7 L699.3,539.6 L701.3,541.5 L703.3,543.4 L705.3,545.3 L707.3,547.2 L709.3,549.1 L711.3,551.0 L713.3,552.9 L715.3,554.8 L717.3,556.7 L719.3,558.6 L721.3,560.4 L723.3,562.3 L725.3,564.1 L727.3,566.0 L729.3,567.8 L731.3,569.7 L733.3,571.5 L735.3,573.3 L737.2,575.1 L739.2,577.0 L741.2,578.8 L743.2,580.6 L745.2,582.4 L747.2,584.2 L749.2,586.0 L751.2,587.8 L753.2,589.5 L755.2,591.3 L757.2,593.1 L759.2,594.8 L761.2,596.6 L763.2,598.4 L765.2,600.1 L767.2,601.9 L769.2,603.6 L771.2,605.3 L773.2,607.1 L775.2,608.8 L777.2,610.5 L779.2,612.2 L781.2,613.9 L783.2,615.6 L785.2,617.3 L787.2,619.0 L789.2,620.7 L791.2,622.4 L793.2,624.1 L795.2,625.7 L797.2,627.4 L799.2,629.1 L801.2,630.7 L803.2,632.4 L805.2,634.0 L807.2,635.7 L809.2,637.3 L811.2,639.0 L813.2,640.6 L815.2,642.2 L817.2,643.8 L819.2,645.5 L821.2,647.1 L823.2,648.7 L825.2,650.3 L827.2,651.9 L829.2,653.5 L831.2,655.1 L833.2,656.7 L835.2,658.2 L837.2,659.8 L839.2,661.4 L841.2,662.9 L843.2,664.5 L845.2,666.1 L847.2,667.6 L849.2,669.2 L851.2,670.7 L853.2,672.3 L855.2,673.8 L857.2,675.3 L859.2,676.8 L861.2,678.4 L863.2,679.9 L865.2,681.4 L867.2,682.9 L869.2,684.4 L871.2,685.9 L873.2,687.4 L875.2,688.9 L877.2,690.4 L879.2,691.9 L881.2,693.3 L883.2,694.8 L885.2,696.3 L887.2,697.7 L889.2,699.2 L891.2,700.7 L893.2,702.1 L895.2,703.6 L897.2,705.0 L899.2,706.4 L901.2,707.9 L903.1,709.3 L905.1,710.7 L907.1,712.2 L909.1,713.6 L911.1,715.0 L913.1,716.4 L915.1,717.8 L917.1,719.2 L919.1,720.6 L921.1,722.0 L923.1,723.4 L925.1,724.8 L927.1,726.2 L929.1,727.5 L931.1,728.9 L933.1,730.3 L935.1,731.7 L937.1,733.0 L939.1,734.4 L941.1,735.7 L943.1,737.1 L945.1,738.4 L947.1,739.8 L949.1,741.1 L951.1,742.4 L953.1,743.8 L955.1,745.1 L957.1,746.4 L959.1,747.7 L961.1,749.1 L963.1,750.4 L965.1,751.7 L967.1,753.0 L969.1,754.3 L971.1,755.6 L973.1,756.9 L975.1,758.2 L977.1,759.4 L979.1,760.7 L981.1,762.0 L983.1,763.3 L985.1,764.5 L987.1,765.8 L989.1,767.1 L991.1,768.3 L993.1,769.6 L995.1,770.8 L997.1,772.1 L999.1,773.3 L1001.1,774.6 L1003.1,775.8 L1005.1,777.0 L1007.1,778.3 L1009.1,779.5 L1011.1,780.7 L1013.1,781.9 L1015.1,783.2 L1017.1,784.4 L1019.1,785.6 L1021.1,786.8 L1023.1,788.0 L1025.1,789.2 L1027.1,790.4 L1029.1,791.6 L1031.1,792.8 L1033.1,793.9 L1035.1,795.1 L1037.1,796.3 L1039.1,797.5 L1041.1,798.6 L1043.1,799.8 L1045.1,801.0 L1047.1,802.1 L1049.1,803.3 L1051.1,804.4 L1053.1,805.6 L1055.1,806.7 L1057.1,807.9 L1059.1,809.0 L1061.1,810.2 L1063.1,811.3 L1065.1,812.4 L1067.1,813.6 L1069.0,814.7 L1071.0,815.8 L1073.0,816.9 L1075.0,818.0 L1077.0,819.1 L1079.0,820.3 L1081.0,821.4 L1083.0,822.5 L1085.0,823.6 L1087.0,824.7 L1089.0,825.7 L1091.0,826.8 L1093.0,827.9 L1095.0,829.0 L1097.0,830.1 L1099.0,831.2 L1101.0,832.2 L1103.0,833.3 L1105.0,834.4 L1107.0,835.4 L1109.0,836.5 L1111.0,837.6 L1113.0,838.6 L1115.0,839.7 L1117.0,840.7 L1119.0,841.7 L1121.0,842.8 L1123.0,843.8 L1125.0,844.9 L1127.0,845.9 L1129.0,846.9 L1131.0,848.0 L1133.0,849.0 L1135.0,850.0 L1137.0,851.0 L1139.0,852.0 L1141.0,853.0 L1143.0,854.1 L1145.0,855.1 L1147.0,856.1 L1149.0,857.1 L1151.0,858.1 L1153.0,859.1 L1155.0,860.1 L1157.0,861.0 L1159.0,862.0 L1161.0,863.0 L1163.0,864.0 L1165.0,865.0 L1167.0,865.9 L1169.0,866.9 L1171.0,867.9 L1173.0,868.9 L1175.0,869.8 L1177.0,870.8 L1179.0,871.7 L1181.0,872.7 L1183.0,873.6 L1185.0,874.6 L1187.0,875.5 L1189.0,876.5 L1191.0,877.4 L1193.0,878.4 L1195.0,879.3 L1197.0,880.2 L1199.0,881.2 L1201.0,882.1 L1203.0,883.0 L1205.0,883.9 L1207.0,884.9 L1209.0,885.8 L1211.0,886.7 L1213.0,887.6 L1215.0,888.5 L1217.0,889.4 L1219.0,890.3 L1221.0,891.2 L1223.0,892.1 L1225.0,893.0 L1227.0,893.9 L1229.0,894.8 L1231.0,895.7 L1233.0,896.6 L1235.0,897.4 L1236.9,898.3 L1238.9,899.2 L1240.9,900.1 L1242.9,901.0 L1244.9,901.8 L1246.9,902.7 L1248.9,903.6 L1250.9,904.4 L1252.9,905.3 L1254.9,906.1 L1256.9,907.0 L1258.9,907.8 L1260.9,908.7 L1262.9,909.5 L1264.9,910.4 L1266.9,911.2 L1268.9,912.1 L1270.9,912.9 L1272.9,913.7 L1274.9,914.6 L1276.9,915.4 L1278.9,916.2 L1280.9,917.1 L1282.9,917.9 L1284.9,918.7 L1286.9,919.5 L1288.9,920.3 L1290.9,921.2 L1292.9,922.0 L1294.9,922.8 L1296.9,923.6 L1298.9,924.4 L1300.9,925.2 L1302.9,926.0 L1304.9,926.8 L1306.9,927.6 L1308.9,928.4 L1310.9,929.2 L1312.9,930.0 L1314.9,930.7 L1316.9,931.5 L1318.9,932.3 L1320.9,933.1 L1322.9,933.9 L1324.9,934.6 L1326.9,935.4 L1328.9,936.2 L1330.9,936.9 L1332.9,937.7 L1334.9,938.5 L1336.9,939.2 L1338.9,940.0 L1340.9,940.7 L1342.9,941.5 L1344.9,942.3 L1346.9,943.0 L1348.9,943.8 L1350.9,944.5 L1352.9,945.2 L1354.9,946.0 L1356.9,946.7 L1358.9,947.5 L1360.9,948.2 L1362.9,948.9 L1364.9,949.7 L1366.9,950.4 L1368.9,951.1 L1370.9,951.8 L1372.9,952.6 L1374.9,953.3 L1376.9,954.0 L1378.9,954.7 L1380.9,955.4 L1382.9,956.1 L1384.9,956.9 L1386.9,957.6 L1388.9,958.3 L1390.9,959.0 L1392.9,959.7 L1394.9,960.4 L1396.9,961.1 L1398.9,961.8 L1400.9,962.5 L1402.8,963.1 L1404.8,963.8 L1406.8,964.5 L1408.8,965.2 L1410.8,965.9 L1412.8,966.6 L1414.8,967.3 L1416.8,967.9 L1418.8,968.6 L1420.8,969.3 L1422.8,970.0 L1424.8,970.6 L1426.8,971.3 L1428.8,972.0 L1430.8,972.6 L1432.8,973.3 L1434.8,973.9 L1436.8,974.6 L1438.8,975.3 L1440.8,975.9 L1442.8,976.6 L1444.8,977.2 L1446.8,977.9 L1448.8,978.5 L1450.8,979.2 L1452.8,979.8 L1454.8,980.4 L1456.8,981.1 L1458.8,981.7 L1460.8,982.3 L1462.8,983.0 L1464.8,983.6 L1466.8,984.2 L1468.8,984.9 L1470.8,985.5 L1472.8,986.1 L1474.8,986.7 L1476.8,987.4 L1478.8,988.0 L1480.8,988.6 L1482.8,989.2 L1484.8,989.8 L1486.8,990.4 L1488.8,991.1 L1490.8,991.7 L1492.8,992.3 L1494.8,992.9 L1496.8,993.5 L1498.8,994.1 L1500.8,994.7 L1502.8,995.3 L1504.8,995.9 L1506.8,996.5 L1508.8,997.1 L1510.8,997.6 L1512.8,998.2 L1514.8,998.8 L1516.8,999.4 L1518.8,1000.0 L1520.8,1000.6 L1522.8,1001.2 L1524.8,1001.7 L1526.8,1002.3 L1528.8,1002.9 L1530.8,1003.5 L1532.8,1004.0 L1534.8,1004.6 L1536.8,1005.2 L1538.8,1005.7 L1540.8,1006.3 L1542.8,1006.9 L1544.8,1007.4 L1546.8,1008.0 L1548.8,1008.6 L1550.8,1009.1 L1552.8,1009.7 L1554.8,1010.2 L1556.8,1010.8 L1558.8,1011.3 L1560.8,1011.9 L1562.8,1012.4 L1564.8,1013.0 L1566.8,1013.5 L1568.8,1014.1 L1570.7,1014.6 L1572.7,1015.1 L1574.7,1015.7 L1576.7,1016.2 L1578.7,1016.7 L1580.7,1017.3 L1582.7,1017.8 L1584.7,1018.3 L1586.7,1018.9 L1588.7,1019.4 L1590.7,1019.9 L1592.7,1020.5 L1594.7,1021.0 L1596.7,1021.5 L1598.7,1022.0 L1600.7,1022.5 L1602.7,1023.0 L1604.7,1023.6 L1606.7,1024.1 L1608.7,1024.6 L1610.7,1025.1 L1612.7,1025.6 L1614.7,1026.1 L1616.7,1026.6 L1618.7,1027.1 L1620.7,1027.6 L1622.7,1028.1 L1624.7,1028.6 L1626.7,1029.1 L1628.7,1029.6 L1630.7,1030.1 L1632.7,1030.6 L1634.7,1031.1 L1636.7,1031.6 L1638.7,1032.1 L1640.7,1032.6 L1642.7,1033.1 L1644.7,1033.6 L1646.7,1034.0 L1648.7,1034.5 L1650.7,1035.0 L1652.7,1035.5 L1654.7,1036.0 L1656.7,1036.5 L1658.7,1036.9 L1660.7,1037.4 L1662.7,1037.9 L1664.7,1038.3 L1666.7,1038.8 L1668.7,1039.3 L1670.7,1039.8 L1672.7,1040.2 L1674.7,1040.7 L1676.7,1041.2 L1678.7,1041.6 L1680.7,1042.1 L1682.7,1042.5 L1684.7,1043.0 L1686.7,1043.5 L1688.7,1043.9 L1690.7,1044.4 L1692.7,1044.8 L1694.7,1045.3 L1696.7,1045.7 L1698.7,1046.2 L1700.7,1046.6 L1702.7,1047.1 L1704.7,1047.5 L1706.7,1048.0 L1708.7,1048.4 L1710.7,1048.8 L1712.7,1049.3 L1714.7,1049.7 L1716.7,1050.2 L1718.7,1050.6 L1720.7,1051.0 L1722.7,1051.5 L1724.7,1051.9 L1726.7,1052.3 L1728.7,1052.8 L1730.7,1053.2 L1732.7,1053.6 L1734.7,1054.0 L1736.6,1054.5 L1738.6,1054.9 L1740.6,1055.3 L1742.6,1055.7 L1744.6,1056.2 L1746.6,1056.6 L1748.6,1057.0 L1750.6,1057.4 L1752.6,1057.8 L1754.6,1058.2 L1756.6,1058.7 L1758.6,1059.1 L1760.6,1059.5 L1762.6,1059.9 L1764.6,1060.3 L1766.6,1060.7 L1768.6,1061.1 L1770.6,1061.5 L1772.6,1061.9 L1774.6,1062.3 L1776.6,1062.7 L1778.6,1063.1 L1780.6,1063.5 L1782.6,1063.9 L1784.6,1064.3 L1786.6,1064.7 L1788.6,1065.1 L1790.6,1065.5 L1792.6,1065.9 L1794.6,1066.3 L1796.6,1066.7 L1798.6,1067.1 L1800.6,1067.4 L1802.6,1067.8 L1804.6,1068.2 L1806.6,1068.6 L1808.6,1069.0 L1810.6,1069.4 L1812.6,1069.7 L1814.6,1070.1 L1816.6,1070.5 L1818.6,1070.9 L1822.6,1070.9" stroke="#1494dc" stroke-width="4.8"/>
<path d="M319.5,172.0 L321.5,171.7 L323.5,171.2 L325.5,170.7 L327.5,170.1 L329.5,169.4 L331.5,168.7 L333.5,168.0 L335.5,167.3 L337.5,166.7 L339.5,166.0 L341.5,165.5 L343.5,165.0 L345.5,164.6 L347.5,164.3 L349.5,164.1 L351.5,164.0 L353.5,164.0 L355.5,164.0 L357.5,164.0 L359.5,164.0 L361.5,164.0 L363.5,164.0 L365.5,164.0 L367.5,164.0 L369.5,164.0 L371.5,164.0 L373.5,164.0 L375.5,164.1 L377.5,164.4 L379.5,165.0 L381.5,165.8 L383.5,166.8 L385.5,168.0 L387.5,169.2 L389.5,170.2 L391.5,171.0 L393.5,171.6 L395.5,172.1 L397.5,173.0 L399.5,174.3 L401.5,176.1 L403.4,178.3 L405.4,180.9 L407.4,183.4 L409.4,185.9 L411.4,188.4 L413.4,190.9 L415.4,193.4 L417.4,195.9 L419.4,198.3 L421.4,200.8 L423.4,203.3 L425.4,205.7 L427.4,208.2 L429.4,210.7 L431.4,213.1 L433.4,215.5 L435.4,218.0 L437.4,220.4 L439.4,222.8 L441.4,225.2 L443.4,227.6 L445.4,230.0 L447.4,232.4 L449.4,234.8 L451.4,237.2 L453.4,239.6 L455.4,242.0 L457.4,244.3 L459.4,246.7 L461.4,249.0 L463.4,251.4 L465.4,253.7 L467.4,256.1 L469.4,258.4 L471.4,260.7 L473.4,263.0 L475.4,265.4 L477.4,267.7 L479.4,270.0 L481.4,272.3 L483.4,274.6 L485.4,276.8 L487.4,279.1 L489.4,281.4 L491.4,283.7 L493.4,285.9 L495.4,288.2 L497.4,290.4 L499.4,292.7 L501.4,294.9 L503.4,297.2 L505.4,299.4 L507.4,301.6 L509.4,303.8 L511.4,306.0 L513.4,308.3 L515.4,310.5 L517.4,312.7 L519.4,314.8 L521.4,317.0 L523.4,319.2 L525.4,321.4 L527.4,323.6 L529.4,325.7 L531.4,327.9 L533.4,330.0 L535.4,332.2 L537.4,334.3 L539.4,336.5 L541.4,338.6 L543.4,340.7 L545.4,342.9 L547.4,345.0 L549.4,347.1 L551.4,349.2 L553.4,351.3 L555.4,353.4 L557.4,355.5 L559.4,357.6 L561.4,359.6 L563.4,361.7 L565.4,363.8 L567.4,365.9 L569.4,367.9 L571.3,370.0 L573.3,372.0 L575.3,374.1 L577.3,376.1 L579.3,378.1 L581.3,380.2 L583.3,382.2 L585.3,384.2 L587.3,386.2 L589.3,388.2 L591.3,390.3 L593.3,392.3 L595.3,394.2 L597.3,396.2 L599.3,398.2 L601.3,400.2 L603.3,402.2 L605.3,404.1 L607.3,406.1 L609.3,408.1 L611.3,410.0 L613.3,412.0 L615.3,413.9 L617.3,415.9 L619.3,417.8 L621.3,419.7 L623.3,421.7 L625.3,423.6 L627.3,425.5 L629.3,427.4 L631.3,429.3 L633.3,431.2 L635.3,433.1 L637.3,435.0 L639.3,436.9 L641.3,438.8 L643.3,440.7 L645.3,442.6 L647.3,444.4 L649.3,446.3 L651.3,448.2 L653.3,450.0 L655.3,451.9 L657.3,453.7 L659.3,455.6 L661.3,457.4 L663.3,459.2 L665.3,461.1 L667.3,462.9 L669.3,464.7 L671.3,466.5 L673.3,468.3 L675.3,470.1 L677.3,471.9 L679.3,473.7 L681.3,475.5 L683.3,477.3 L685.3,479.1 L687.3,480.9 L689.3,482.7 L691.3,484.4 L693.3,486.2 L695.3,488.0 L697.3,489.7 L699.3,491.5 L701.3,493.2 L703.3,495.0 L705.3,496.7 L707.3,498.5 L709.3,500.2 L711.3,501.9 L713.3,503.7 L715.3,505.4 L717.3,507.1 L719.3,508.8 L721.3,510.5 L723.3,512.2 L725.3,513.9 L727.3,515.6 L729.3,517.3 L731.3,519.0 L733.3,520.7 L735.3,522.3 L737.2,524.0 L739.2,525.7 L741.2,527.4 L743.2,529.0 L745.2,530.7 L747.2,532.3 L749.2,534.0 L751.2,535.6 L753.2,537.3 L755.2,538.9 L757.2,540.5 L759.2,542.2 L761.2,543.8 L763.2,545.4 L765.2,547.0 L767.2,548.6 L769.2,550.2 L771.2,551.9 L773.2,553.5 L775.2,555.0 L777.2,556.6 L779.2,558.2 L781.2,559.8 L783.2,561.4 L785.2,563.0 L787.2,564.6 L789.2,566.1 L791.2,567.7 L793.2,569.2 L795.2,570.8 L797.2,572.4 L799.2,573.9 L801.2,575.5 L803.2,577.0 L805.2,578.5 L807.2,580.1 L809.2,581.6 L811.2,583.1 L813.2,584.7 L815.2,586.2 L817.2,587.7 L819.2,589.2 L821.2,590.7 L823.2,592.2 L825.2,593.7 L827.2,595.2 L829.2,596.7 L831.2,598.2 L833.2,599.7 L835.2,601.2 L837.2,602.7 L839.2,604.1 L841.2,605.6 L843.2,607.1 L845.2,608.5 L847.2,610.0 L849.2,611.5 L851.2,612.9 L853.2,614.4 L855.2,615.8 L857.2,617.3 L859.2,618.7 L861.2,620.1 L863.2,621.6 L865.2,623.0 L867.2,624.4 L869.2,625.8 L871.2,627.3 L873.2,628.7 L875.2,630.1 L877.2,631.5 L879.2,632.9 L881.2,634.3 L883.2,635.7 L885.2,637.1 L887.2,638.5 L889.2,639.9 L891.2,641.3 L893.2,642.6 L895.2,644.0 L897.2,645.4 L899.2,646.8 L901.2,648.1 L903.1,649.5 L905.1,650.8 L907.1,652.2 L909.1,653.6 L911.1,654.9 L913.1,656.2 L915.1,657.6 L917.1,658.9 L919.1,660.3 L921.1,661.6 L923.1,662.9 L925.1,664.3 L927.1,665.6 L929.1,666.9 L931.1,668.2 L933.1,669.5 L935.1,670.8 L937.1,672.2 L939.1,673.5 L941.1,674.8 L943.1,676.1 L945.1,677.4 L947.1,678.6 L949.1,679.9 L951.1,681.2 L953.1,682.5 L955.1,683.8 L957.1,685.1 L959.1,686.3 L961.1,687.6 L963.1,688.9 L965.1,690.1 L967.1,691.4 L969.1,692.6 L971.1,693.9 L973.1,695.1 L975.1,696.4 L977.1,697.6 L979.1,698.9 L981.1,700.1 L983.1,701.4 L985.1,702.6 L987.1,703.8 L989.1,705.0 L991.1,706.3 L993.1,707.5 L995.1,708.7 L997.1,709.9 L999.1,711.1 L1001.1,712.3 L1003.1,713.5 L1005.1,714.7 L1007.1,715.9 L1009.1,717.1 L1011.1,718.3 L1013.1,719.5 L1015.1,720.7 L1017.1,721.9 L1019.1,723.1 L1021.1,724.2 L1023.1,725.4 L1025.1,726.6 L1027.1,727.8 L1029.1,728.9 L1031.1,730.1 L1033.1,731.3 L1035.1,732.4 L1037.1,733.6 L1039.1,734.7 L1041.1,735.9 L1043.1,737.0 L1045.1,738.2 L1047.1,739.3 L1049.1,740.4 L1051.1,741.6 L1053.1,742.7 L1055.1,743.8 L1057.1,745.0 L1059.1,746.1 L1061.1,747.2 L1063.1,748.3 L1065.1,749.5 L1067.1,750.6 L1069.0,751.7 L1071.0,752.8 L1073.0,753.9 L1075.0,755.0 L1077.0,756.1 L1079.0,757.2 L1081.0,758.3 L1083.0,759.4 L1085.0,760.5 L1087.0,761.5 L1089.0,762.6 L1091.0,763.7 L1093.0,764.8 L1095.0,765.9 L1097.0,766.9 L1099.0,768.0 L1101.0,769.1 L1103.0,770.1 L1105.0,771.2 L1107.0,772.3 L1109.0,773.3 L1111.0,774.4 L1113.0,775.4 L1115.0,776.5 L1117.0,777.5 L1119.0,778.6 L1121.0,779.6 L1123.0,780.6 L1125.0,781.7 L1127.0,782.7 L1129.0,783.7 L1131.0,784.8 L1133.0,785.8 L1135.0,786.8 L1137.0,787.8 L1139.0,788.9 L1141.0,789.9 L1143.0,790.9 L1145.0,791.9 L1147.0,792.9 L1149.0,793.9 L1151.0,794.9 L1153.0,795.9 L1155.0,796.9 L1157.0,797.9 L1159.0,798.9 L1161.0,799.9 L1163.0,800.9 L1165.0,801.9 L1167.0,802.9 L1169.0,803.8 L1171.0,804.8 L1173.0,805.8 L1175.0,806.8 L1177.0,807.7 L1179.0,808.7 L1181.0,809.7 L1183.0,810.6 L1185.0,811.6 L1187.0,812.6 L1189.0,813.5 L1191.0,814.5 L1193.0,815.4 L1195.0,816.4 L1197.0,817.3 L1199.0,818.3 L1201.0,819.2 L1203.0,820.2 L1205.0,821.1 L1207.0,822.0 L1209.0,823.0 L1211.0,823.9 L1213.0,824.8 L1215.0,825.8 L1217.0,826.7 L1219.0,827.6 L1221.0,828.5 L1223.0,829.5 L1225.0,830.4 L1227.0,831.3 L1229.0,832.2 L1231.0,833.1 L1233.0,834.0 L1235.0,834.9 L1236.9,835.8 L1238.9,836.7 L1240.9,837.6 L1242.9,838.5 L1244.9,839.4 L1246.9,840.3 L1248.9,841.2 L1250.9,842.1 L1252.9,843.0 L1254.9,843.8 L1256.9,844.7 L1258.9,845.6 L1260.9,846.5 L1262.9,847.3 L1264.9,848.2 L1266.9,849.1 L1268.9,850.0 L1270.9,850.8 L1272.9,851.7 L1274.9,852.5 L1276.9,853.4 L1278.9,854.3 L1280.9,855.1 L1282.9,856.0 L1284.9,856.8 L1286.9,857.7 L1288.9,858.5 L1290.9,859.4 L1292.9,860.2 L1294.9,861.0 L1296.9,861.9 L1298.9,862.7 L1300.9,863.5 L1302.9,864.4 L1304.9,865.2 L1306.9,866.0 L1308.9,866.9 L1310.9,867.7 L1312.9,868.5 L1314.9,869.3 L1316.9,870.1 L1318.9,871.0 L1320.9,871.8 L1322.9,872.6 L1324.9,873.4 L1326.9,874.2 L1328.9,875.0 L1330.9,875.8 L1332.9,876.6 L1334.9,877.4 L1336.9,878.2 L1338.9,879.0 L1340.9,879.8 L1342.9,880.6 L1344.9,881.4 L1346.9,882.2 L1348.9,882.9 L1350.9,883.7 L1352.9,884.5 L1354.9,885.3 L1356.9,886.1 L1358.9,886.8 L1360.9,887.6 L1362.9,888.4 L1364.9,889.2 L1366.9,889.9 L1368.9,890.7 L1370.9,891.5 L1372.9,892.2 L1374.9,893.0 L1376.9,893.7 L1378.9,894.5 L1380.9,895.3 L1382.9,896.0 L1384.9,896.8 L1386.9,897.5 L1388.9,898.3 L1390.9,899.0 L1392.9,899.8 L1394.9,900.5 L1396.9,901.2 L1398.9,902.0 L1400.9,902.7 L1402.8,903.4 L1404.8,904.2 L1406.8,904.9 L1408.8,905.6 L1410.8,906.4 L1412.8,907.1 L1414.8,907.8 L1416.8,908.5 L1418.8,909.3 L1420.8,910.0 L1422.8,910.7 L1424.8,911.4 L1426.8,912.1 L1428.8,912.8 L1430.8,913.5 L1432.8,914.3 L1434.8,915.0 L1436.8,915.7 L1438.8,916.4 L1440.8,917.1 L1442.8,917.8 L1444.8,918.5 L1446.8,919.2 L1448.8,919.9 L1450.8,920.5 L1452.8,921.2 L1454.8,921.9 L1456.8,922.6 L1458.8,923.3 L1460.8,924.0 L1462.8,924.7 L1464.8,925.3 L1466.8,926.0 L1468.8,926.7 L1470.8,927.4 L1472.8,928.1 L1474.8,928.7 L1476.8,929.4 L1478.8,930.1 L1480.8,930.7 L1482.8,931.4 L1484.8,932.1 L1486.8,932.7 L1488.8,933.4 L1490.8,934.0 L1492.8,934.7 L1494.8,935.4 L1496.8,936.0 L1498.8,936.7 L1500.8,937.3 L1502.8,938.0 L1504.8,938.6 L1506.8,939.3 L1508.8,939.9 L1510.8,940.6 L1512.8,941.2 L1514.8,941.8 L1516.8,942.5 L1518.8,943.1 L1520.8,943.7 L1522.8,944.4 L1524.8,945.0 L1526.8,945.6 L1528.8,946.3 L1530.8,946.9 L1532.8,947.5 L1534.8,948.1 L1536.8,948.8 L1538.8,949.4 L1540.8,950.0 L1542.8,950.6 L1544.8,951.2 L1546.8,951.9 L1548.8,952.5 L1550.8,953.1 L1552.8,953.7 L1554.8,954.3 L1556.8,954.9 L1558.8,955.5 L1560.8,956.1 L1562.8,956.7 L1564.8,957.3 L1566.8,957.9 L1568.8,958.5 L1570.7,959.1 L1572.7,959.7 L1574.7,960.3 L1576.7,960.9 L1578.7,961.5 L1580.7,962.1 L1582.7,962.7 L1584.7,963.3 L1586.7,963.8 L1588.7,964.4 L1590.7,965.0 L1592.7,965.6 L1594.7,966.2 L1596.7,966.8 L1598.7,967.3 L1600.7,967.9 L1602.7,968.5 L1604.7,969.1 L1606.7,969.6 L1608.7,970.2 L1610.7,970.8 L1612.7,971.3 L1614.7,971.9 L1616.7,972.5 L1618.7,973.0 L1620.7,973.6 L1622.7,974.1 L1624.7,974.7 L1626.7,975.3 L1628.7,975.8 L1630.7,976.4 L1632.7,976.9 L1634.7,977.5 L1636.7,978.0 L1638.7,978.6 L1640.7,979.1 L1642.7,979.7 L1644.7,980.2 L1646.7,980.8 L1648.7,981.3 L1650.7,981.8 L1652.7,982.4 L1654.7,982.9 L1656.7,983.5 L1658.7,984.0 L1660.7,984.5 L1662.7,985.1 L1664.7,985.6 L1666.7,986.1 L1668.7,986.6 L1670.7,987.2 L1672.7,987.7 L1674.7,988.2 L1676.7,988.8 L1678.7,989.3 L1680.7,989.8 L1682.7,990.3 L1684.7,990.8 L1686.7,991.4 L1688.7,991.9 L1690.7,992.4 L1692.7,992.9 L1694.7,993.4 L1696.7,993.9 L1698.7,994.4 L1700.7,994.9 L1702.7,995.4 L1704.7,996.0 L1706.7,996.5 L1708.7,997.0 L1710.7,997.5 L1712.7,998.0 L1714.7,998.5 L1716.7,999.0 L1718.7,999.5 L1720.7,1000.0 L1722.7,1000.5 L1724.7,1000.9 L1726.7,1001.4 L1728.7,1001.9 L1730.7,1002.4 L1732.7,1002.9 L1734.7,1003.4 L1736.6,1003.9 L1738.6,1004.4 L1740.6,1004.8 L1742.6,1005.3 L1744.6,1005.8 L1746.6,1006.3 L1748.6,1006.8 L1750.6,1007.3 L1752.6,1007.7 L1754.6,1008.2 L1756.6,1008.7 L1758.6,1009.2 L1760.6,1009.6 L1762.6,1010.1 L1764.6,1010.6 L1766.6,1011.0 L1768.6,1011.5 L1770.6,1012.0 L1772.6,1012.4 L1774.6,1012.9 L1776.6,1013.4 L1778.6,1013.8 L1780.6,1014.3 L1782.6,1014.7 L1784.6,1015.2 L1786.6,1015.7 L1788.6,1016.1 L1790.6,1016.6 L1792.6,1017.0 L1794.6,1017.5 L1796.6,1017.9 L1798.6,1018.4 L1800.6,1018.8 L1802.6,1019.3 L1804.6,1019.7 L1806.6,1020.2 L1808.6,1020.6 L1810.6,1021.1 L1812.6,1021.5 L1814.6,1021.9 L1816.6,1022.4 L1818.6,1022.8 L1822.6,1022.8" stroke="#00bc00" stroke-width="5.8"/>
</g>
<g stroke="#000" fill="none" stroke-linecap="butt">
<line x1="319.5" y1="65.2" x2="319.5" y2="1222.8" stroke-width="6.2"/>
<line x1="292.8" y1="1201.1" x2="2022" y2="1201.1" stroke-width="5.4"/>
<line x1="306.2" y1="1097.6" x2="319.5" y2="1097.6" stroke-width="5.0"/>
<line x1="292.8" y1="994.7" x2="319.5" y2="994.7" stroke-width="5.2"/>
<line x1="306.2" y1="891.9" x2="319.5" y2="891.9" stroke-width="5.0"/>
<line x1="292.8" y1="789.0" x2="319.5" y2="789.0" stroke-width="5.2"/>
<line x1="306.2" y1="686.2" x2="319.5" y2="686.2" stroke-width="5.0"/>
<line x1="292.8" y1="583.4" x2="319.5" y2="583.4" stroke-width="5.2"/>
<line x1="306.2" y1="480.5" x2="319.5" y2="480.5" stroke-width="5.0"/>
<line x1="292.8" y1="377.7" x2="319.5" y2="377.7" stroke-width="5.2"/>
<line x1="306.2" y1="274.8" x2="319.5" y2="274.8" stroke-width="5.0"/>
<line x1="292.8" y1="172.0" x2="319.5" y2="172.0" stroke-width="5.2"/>
<line x1="306.2" y1="67.8" x2="319.5" y2="67.8" stroke-width="5.0"/>
<line x1="421.6" y1="1200.4" x2="421.6" y2="1212.4" stroke-width="6.2"/>
<line x1="519.4" y1="1200.4" x2="519.4" y2="1222.8" stroke-width="6.4"/>
<line x1="619.3" y1="1200.4" x2="619.3" y2="1212.4" stroke-width="6.2"/>
<line x1="719.3" y1="1200.4" x2="719.3" y2="1222.8" stroke-width="6.4"/>
<line x1="819.2" y1="1200.4" x2="819.2" y2="1212.4" stroke-width="6.2"/>
<line x1="919.1" y1="1200.4" x2="919.1" y2="1222.8" stroke-width="6.4"/>
<line x1="1019.1" y1="1200.4" x2="1019.1" y2="1212.4" stroke-width="6.2"/>
<line x1="1119.0" y1="1200.4" x2="1119.0" y2="1222.8" stroke-width="6.4"/>
<line x1="1219.0" y1="1200.4" x2="1219.0" y2="1212.4" stroke-width="6.2"/>
<line x1="1318.9" y1="1200.4" x2="1318.9" y2="1222.8" stroke-width="6.4"/>
<line x1="1418.8" y1="1200.4" x2="1418.8" y2="1212.4" stroke-width="6.2"/>
<line x1="1518.8" y1="1200.4" x2="1518.8" y2="1222.8" stroke-width="6.4"/>
<line x1="1618.7" y1="1200.4" x2="1618.7" y2="1212.4" stroke-width="6.2"/>
<line x1="1718.7" y1="1200.4" x2="1718.7" y2="1222.8" stroke-width="6.4"/>
<line x1="1818.6" y1="1200.4" x2="1818.6" y2="1212.4" stroke-width="6.2"/>
<line x1="1918.5" y1="1200.4" x2="1918.5" y2="1222.8" stroke-width="6.4"/>
<line x1="2018.8" y1="1200.4" x2="2018.8" y2="1212.4" stroke-width="6.2"/>
</g>
<text transform="translate(276.0,1213.2) scale(1.165,1)" font-size="50.0" text-anchor="end" style="stroke-width:0.7px">0.0</text>
<text transform="translate(276.0,1007.5) scale(1.165,1)" font-size="50.0" text-anchor="end" style="stroke-width:0.7px">0.2</text>
<text transform="translate(276.0,801.8) scale(1.165,1)" font-size="50.0" text-anchor="end" style="stroke-width:0.7px">0.4</text>
<text transform="translate(276.0,596.2) scale(1.165,1)" font-size="50.0" text-anchor="end" style="stroke-width:0.7px">0.6</text>
<text transform="translate(276.0,390.5) scale(1.165,1)" font-size="50.0" text-anchor="end" style="stroke-width:0.7px">0.8</text>
<text transform="translate(276.0,184.8) scale(1.165,1)" font-size="50.0" text-anchor="end" style="stroke-width:0.7px">1.0</text>
<text transform="translate(320.5,1275.0) scale(1.165,1)" font-size="50.0" text-anchor="middle" style="stroke-width:0.7px">0.00</text>
<text transform="translate(520.4,1275.0) scale(1.165,1)" font-size="50.0" text-anchor="middle" style="stroke-width:0.7px">0.02</text>
<text transform="translate(720.3,1275.0) scale(1.165,1)" font-size="50.0" text-anchor="middle" style="stroke-width:0.7px">0.04</text>
<text transform="translate(920.1,1275.0) scale(1.165,1)" font-size="50.0" text-anchor="middle" style="stroke-width:0.7px">0.06</text>
<text transform="translate(1120.0,1275.0) scale(1.165,1)" font-size="50.0" text-anchor="middle" style="stroke-width:0.7px">0.08</text>
<text transform="translate(1319.9,1275.0) scale(1.165,1)" font-size="50.0" text-anchor="middle" style="stroke-width:0.7px">0.10</text>
<text transform="translate(1519.8,1275.0) scale(1.165,1)" font-size="50.0" text-anchor="middle" style="stroke-width:0.7px">0.12</text>
<text transform="translate(1719.7,1275.0) scale(1.165,1)" font-size="50.0" text-anchor="middle" style="stroke-width:0.7px">0.14</text>
<text transform="translate(1919.5,1275.0) scale(1.165,1)" font-size="50.0" text-anchor="middle" style="stroke-width:0.7px">0.16</text>
<text transform="translate(1169.0,1366.2) scale(1.190,1)" font-size="62.0" text-anchor="middle" style="stroke-width:0.6px">Z (m)</text>
<text transform="translate(166.0,633.5) scale(1.25,1) rotate(-90)" font-size="59.5" text-anchor="middle" style="stroke-width:0.5px">C/C0</text>
<rect x="1862.3" y="64.3" width="354.6" height="875.5" fill="#fff" stroke="#3c3c3c" stroke-width="4.6"/>
<line x1="1871" y1="100.5" x2="2032" y2="100.5" stroke="#454545" stroke-width="5.6"/>
<text transform="translate(2047.0,121.5) scale(1.135,1)" font-size="60.6" text-anchor="start" style="stroke-width:1.2px">Zn</text>
<line x1="1871" y1="173.7" x2="2032" y2="173.7" stroke="#ff3232" stroke-width="6.4"/>
<text transform="translate(2047.0,192.6) scale(1.190,1)" font-size="60.6" text-anchor="start" style="stroke-width:1.2px">Ca</text>
<line x1="1871" y1="247.0" x2="2032" y2="247.0" stroke="#0068e0" stroke-width="7.6"/>
<text transform="translate(2047.0,266.9) scale(1.220,1)" font-size="60.6" text-anchor="start" style="stroke-width:1.2px">Cd</text>
<line x1="1871" y1="318.8" x2="2032" y2="318.8" stroke="#00b26e" stroke-width="7.4"/>
<text transform="translate(2047.0,339.8) scale(1.235,1)" font-size="60.6" text-anchor="start" style="stroke-width:1.2px">Cl</text>
<line x1="1871" y1="391.8" x2="2032" y2="391.8" stroke="#e070f0" stroke-width="6.4"/>
<text transform="translate(2047.0,410.7) scale(1.177,1)" font-size="60.6" text-anchor="start" style="stroke-width:1.2px">TOC</text>
<line x1="1871" y1="463.2" x2="2032" y2="463.2" stroke="#f59a00" stroke-width="6.6"/>
<text transform="translate(2047.0,483.1) scale(1.220,1)" font-size="60.6" text-anchor="start" style="stroke-width:1.2px">Cr</text>
<line x1="1871" y1="536.0" x2="2032" y2="536.0" stroke="#00d6da" stroke-width="8.0"/>
<text transform="translate(2047.0,555.9) scale(1.178,1)" font-size="60.6" text-anchor="start" style="stroke-width:1.2px">Cu</text>
<line x1="1871" y1="607.5" x2="2032" y2="607.5" stroke="#9a4048" stroke-width="5.8"/>
<text transform="translate(2047.0,627.4) scale(1.183,1)" font-size="60.6" text-anchor="start" style="stroke-width:1.2px">COD</text>
<line x1="1871" y1="680.4" x2="2032" y2="680.4" stroke="#969600" stroke-width="6.4"/>
<text transform="translate(2047.0,700.3) scale(1.184,1)" font-size="60.6" text-anchor="start" style="stroke-width:1.2px">MES</text>
<line x1="1871" y1="753.2" x2="2032" y2="753.2" stroke="#ff6a00" stroke-width="6.4"/>
<text transform="translate(2047.0,773.1) scale(1.176,1)" font-size="60.6" text-anchor="start" style="stroke-width:1.2px">Mn</text>
<line x1="1871" y1="825.0" x2="2032" y2="825.0" stroke="#1494dc" stroke-width="6.0"/>
<text transform="translate(2047.0,846.0) scale(1.255,1)" font-size="60.6" text-anchor="start" style="stroke-width:1.2px">Ni</text>
<line x1="1871" y1="898.4" x2="2032" y2="898.4" stroke="#00bc00" stroke-width="7.2"/>
<text transform="translate(2047.0,918.3) scale(1.186,1)" font-size="60.6" text-anchor="start" style="stroke-width:1.2px">Dye</text>
</g>
</svg></body></html>
